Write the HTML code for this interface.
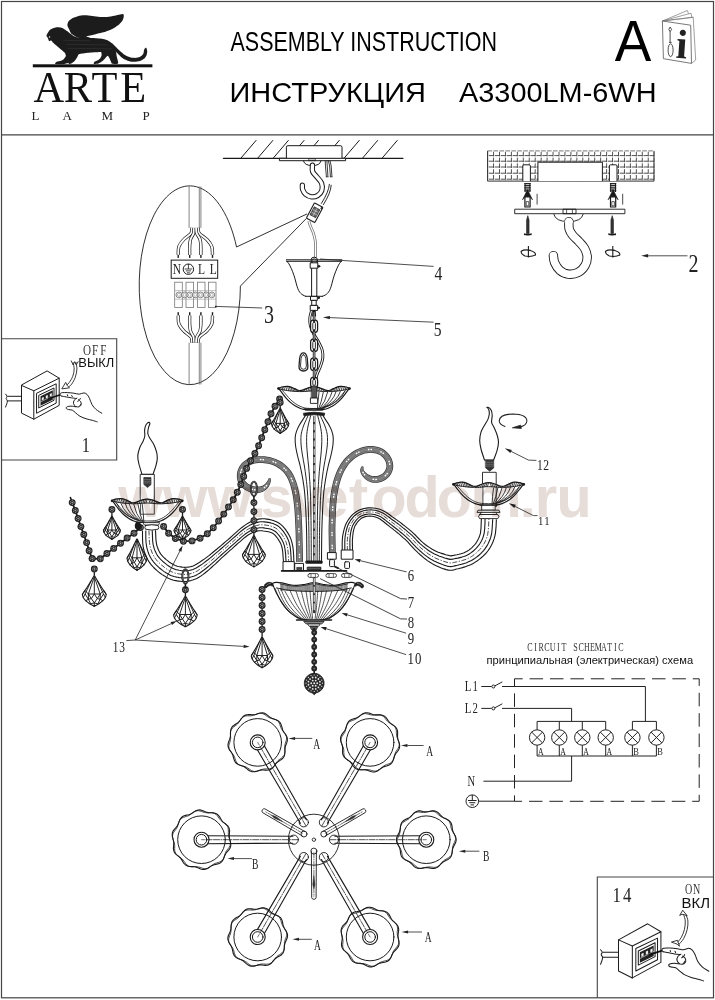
<!DOCTYPE html>
<html lang="ru">
<head>
<meta charset="utf-8">
<title>Assembly Instruction A3300LM-6WH</title>
<style>
html,body{margin:0;padding:0;background:#fff;}
body{width:715px;height:1000px;overflow:hidden;}
svg{display:block;will-change:transform;}
.s{font-family:"Liberation Sans",sans-serif;}
.r{font-family:"Liberation Serif",serif;}
.l{fill:none;stroke:#222;stroke-width:0.8;stroke-linecap:round;stroke-linejoin:round;}
.t{fill:none;stroke:#333;stroke-width:0.55;stroke-linecap:round;stroke-linejoin:round;}
.k{fill:none;stroke:#111;stroke-width:1.1;stroke-linecap:round;stroke-linejoin:round;}
</style>
</head>
<body>
<svg width="715" height="1000" viewBox="0 0 715 1000">
<rect x="0" y="0" width="715" height="1000" fill="#fff"/>
<!-- 01_header -->
<rect x="1.5" y="1.5" width="712" height="996.3" fill="none" stroke="#444" stroke-width="1.2"/>
<line x1="1.5" y1="134.8" x2="713.5" y2="134.8" stroke="#444" stroke-width="1.2"/>
<path d="M46.46 35.69 C46.50 35.19 47.26 33.61 47.69 32.92 C48.12 32.24 49.44 30.42 50.15 29.85 C50.87 29.27 53.02 28.31 53.85 28.00 C54.67 27.69 56.44 27.28 57.23 27.23 C58.02 27.18 59.83 27.34 60.62 27.54 C61.41 27.74 63.25 28.51 64.00 28.92 C64.75 29.34 66.36 30.54 67.08 31.08 C67.79 31.62 69.44 33.00 70.15 33.54 C70.87 34.08 72.44 35.26 73.23 35.69 C74.02 36.12 75.95 36.98 76.92 37.23 C77.89 37.48 80.46 37.77 81.54 37.85 C82.62 37.92 85.08 37.83 86.15 37.85 C87.23 37.86 89.51 37.95 90.77 38.00 C92.03 38.05 95.49 38.18 96.92 38.31 C98.36 38.43 101.71 38.77 103.08 39.08 C104.44 39.38 107.54 40.38 108.62 40.92 C109.69 41.46 111.59 42.94 112.31 43.69 C113.03 44.45 114.34 46.45 114.77 47.38 C115.20 48.32 115.75 50.54 116.00 51.69 C116.25 52.84 116.69 56.08 116.92 57.23 C117.16 58.38 117.89 60.78 118.00 61.54 C118.11 62.29 118.51 63.42 117.85 63.69 C117.18 63.96 113.13 64.13 112.31 63.85 C111.48 63.56 111.13 61.93 110.77 61.23 C110.41 60.53 109.59 58.49 109.23 57.85 C108.87 57.20 108.16 55.66 107.69 55.69 C107.23 55.73 105.88 57.51 105.23 58.15 C104.58 58.80 102.94 60.62 102.15 61.23 C101.36 61.84 99.43 63.08 98.46 63.38 C97.49 63.69 94.33 64.01 93.85 63.85 C93.36 63.68 93.91 62.38 94.31 62.00 C94.70 61.62 96.57 61.03 97.23 60.62 C97.89 60.20 99.50 59.07 100.00 58.46 C100.50 57.85 101.43 56.14 101.54 55.38 C101.65 54.63 101.64 52.36 100.92 52.00 C100.21 51.64 96.75 52.22 95.38 52.31 C94.02 52.40 90.67 52.64 89.23 52.77 C87.79 52.89 84.30 53.22 83.08 53.38 C81.86 53.55 79.49 53.63 78.77 54.15 C78.05 54.67 77.46 56.98 76.92 57.85 C76.38 58.71 74.80 60.89 74.15 61.54 C73.51 62.18 72.03 63.12 71.38 63.38 C70.74 63.65 68.87 63.99 68.62 63.85 C68.36 63.70 68.91 62.57 69.23 62.15 C69.55 61.74 71.24 60.42 71.38 60.31 C71.53 60.20 70.82 60.91 70.46 61.23 C70.10 61.55 69.17 62.74 68.31 63.08 C67.45 63.42 64.58 64.05 63.08 64.15 C61.57 64.26 56.21 64.23 55.38 64.00 C54.56 63.77 55.50 62.49 56.00 62.15 C56.50 61.81 58.83 61.40 59.69 61.08 C60.55 60.75 62.67 59.98 63.38 59.38 C64.10 58.79 65.70 56.79 65.85 56.00 C65.99 55.21 65.26 53.44 64.62 52.62 C63.97 51.79 61.31 49.78 60.31 48.92 C59.30 48.06 56.90 46.02 56.00 45.23 C55.10 44.44 53.19 42.69 52.62 42.15 C52.04 41.62 51.47 40.72 51.08 40.62 C50.68 40.51 49.59 41.48 49.23 41.23 C48.87 40.98 48.22 38.93 48.00 38.46 C47.78 37.99 47.56 37.55 47.38 37.23 C47.21 36.91 46.43 36.19 46.46 35.69Z" fill="#1c1c1c"/>
<path d="M71.38 33.85 C70.36 32.82 69.76 30.69 69.23 29.54 C68.70 28.39 67.47 26.34 67.38 25.23 C67.30 24.12 67.96 22.17 68.62 21.23 C69.27 20.29 71.08 18.83 72.31 18.15 C73.54 17.48 76.21 16.54 77.85 16.15 C79.49 15.76 82.69 15.25 84.62 15.23 C86.54 15.21 90.26 15.77 92.31 16.00 C94.36 16.23 98.03 16.80 100.00 16.92 C101.97 17.05 105.15 17.09 107.08 16.92 C109.01 16.76 112.74 16.02 114.46 15.69 C116.18 15.36 118.81 14.67 120.00 14.46 C121.19 14.26 122.89 13.83 123.38 14.15 C123.88 14.48 123.82 16.06 123.69 16.92 C123.57 17.78 123.08 19.59 122.46 20.62 C121.85 21.64 120.14 23.67 119.08 24.62 C118.01 25.56 115.86 26.91 114.46 27.69 C113.07 28.47 110.26 29.81 108.62 30.46 C106.97 31.12 103.88 32.12 102.15 32.62 C100.43 33.11 97.29 33.78 95.69 34.15 C94.09 34.52 91.43 35.10 90.15 35.38 C88.88 35.67 86.07 35.90 86.15 36.31 C86.24 36.72 91.18 38.17 90.77 38.46 C90.36 38.75 84.92 38.63 83.08 38.46 C81.23 38.30 78.48 37.85 76.92 37.23 C75.36 36.62 72.41 34.87 71.38 33.85Z" fill="#1c1c1c"/>
<path d="M111.69 43.08 C112.02 43.08 114.58 45.70 115.69 46.77 C116.80 47.84 118.77 49.97 120.00 51.08 C121.23 52.18 123.49 54.22 124.92 55.08 C126.36 55.94 129.21 57.17 130.77 57.54 C132.33 57.91 135.26 58.01 136.62 57.85 C137.97 57.68 140.02 56.88 140.92 56.31 C141.83 55.73 142.97 54.36 143.38 53.54 C143.79 52.72 143.75 50.89 144.00 50.15 C144.25 49.42 144.90 48.25 145.23 48.00 C145.56 47.75 146.19 47.86 146.46 48.31 C146.73 48.76 147.23 50.44 147.23 51.38 C147.23 52.33 146.89 54.40 146.46 55.38 C146.03 56.37 144.86 58.03 144.00 58.77 C143.14 59.51 141.31 60.51 140.00 60.92 C138.69 61.33 135.71 61.85 134.15 61.85 C132.59 61.85 129.78 61.37 128.31 60.92 C126.83 60.47 124.35 59.28 123.08 58.46 C121.81 57.64 119.79 55.75 118.77 54.77 C117.74 53.78 116.12 52.14 115.38 51.08 C114.65 50.01 113.72 47.84 113.23 46.77 C112.74 45.70 111.36 43.08 111.69 43.08Z" fill="#1c1c1c"/>
<circle cx="49.5" cy="36.9" r="0.75" fill="#e8e8e8"/>
<path d="M63.1 40.3 L90.8 40.9" stroke="#3a3a3a" stroke-width="0.5"/>
<path d="M66.2 44.3 L107.7 44.9" stroke="#3a3a3a" stroke-width="0.5"/>
<path d="M67.7 48.3 L112.3 48.9" stroke="#3a3a3a" stroke-width="0.5"/>
<rect x="32.8" y="64.3" width="119.6" height="3.0" fill="#111"/>
<text class="r" transform="translate(33.4 102.3) scale(0.97 1)" x="0 31.4 59.8 89.6" y="0" font-size="43.8" fill="#111">ARTE</text>
<text class="r" x="31.5 62.4 101.4 142.6" y="119.7" font-size="13" fill="#222">LAMP</text>
<text class="s" x="230.5" y="51.0" font-size="27.5" fill="#000" textLength="266.5" lengthAdjust="spacingAndGlyphs">ASSEMBLY INSTRUCTION</text>
<text class="s" x="229.5" y="101.5" font-size="28" fill="#000" textLength="196.5" lengthAdjust="spacingAndGlyphs">ИНСТРУКЦИЯ</text>
<text class="s" x="459" y="101.9" font-size="28.5" fill="#000" textLength="197.5" lengthAdjust="spacingAndGlyphs">A3300LM-6WH</text>
<text class="s" x="614.8" y="60.8" font-size="57" fill="#000" textLength="36.6" lengthAdjust="spacingAndGlyphs">A</text>
<g fill="none" stroke="#777" stroke-width="0.7" stroke-linejoin="round"><path d="M662.4 21.0 L687.3 10.5 L688.6 13.8 L691.1 13.4 L691.7 17.5 L693.2 17.2 L695.7 60.0 L691.5 63.4"/><path d="M662.4 21.0 L688.6 13.8"/><path d="M662.4 21.0 L691.7 17.5"/><path d="M662.4 21.0 L693.2 17.2"/><path d="M662.4 21.0 L690.7 25.2 L691.5 63.4 L663.4 58.7Z" fill="#fff" stroke="#555" stroke-width="0.8"/></g>
<g fill="none" stroke="#222" stroke-width="0.8"><path d="M670.1 27.0 L671.6 29.4 L670.1 31.7 L668.8 29.4Z" fill="#fff"/><path d="M670.1 31.7 L670.1 42.4"/><path d="M669.0 42.4 L671.6 42.4"/><ellipse cx="670.6" cy="50.2" rx="2.5" ry="6.4" fill="#fff"/></g>
<text class="r" x="676.2" y="58" font-size="41" font-weight="bold" fill="#222" transform="rotate(4 681 45)">i</text>
<!-- 02_circuit -->
<text class="r" transform="translate(527.00 651.00) scale(0.600 1)" x="0.28 12.02 19.28 28.78 37.91 50.02 57.66 69.58 77.02 85.78 94.91 105.16 112.79 123.41 133.66 145.02 152.28" y="0" font-size="13.4" fill="#333">CIRCUIT SCHEMATIC</text>
<text class="s" x="486.6" y="663.6" font-size="11.2" fill="#111" textLength="206.5" lengthAdjust="spacingAndGlyphs">принципиальная (электрическая) схема</text>
<path d="M514.5 678.8 H699.2 V801.3" stroke="#222" stroke-width="1.0" fill="none" stroke-dasharray="13.5 6.9" stroke-dashoffset="5.3"/>
<path d="M514.5 678.8 V801.3 H699.2" stroke="#222" stroke-width="1.0" fill="none" stroke-dasharray="13.5 6.9" stroke-dashoffset="5.8"/>
<text class="r" transform="translate(464.60 691.10) scale(0.720 1)" x="0.28 10.83" y="0" font-size="15.0" fill="#222">L1</text>
<path d="M481.3 686.5 H491.6 M494.8 685.9 L502.3 681.9 M502 686.5 H645.4 V721.4" stroke="#222" stroke-width="1.0" fill="none"/>
<circle cx="493.4" cy="686.5" r="1.5" stroke="#222" stroke-width="1.0" fill="none"/>
<text class="r" transform="translate(464.60 713.00) scale(0.720 1)" x="0.28 10.83" y="0" font-size="15.0" fill="#222">L2</text>
<path d="M481.3 708.4 H491.6 M494.8 707.8 L502.3 703.8 M502 708.4 H571.6 V721.4" stroke="#222" stroke-width="1.0" fill="none"/>
<circle cx="493.4" cy="708.4" r="1.5" stroke="#222" stroke-width="1.0" fill="none"/>
<path d="M537.1 721.4 H605.7 M632.4 721.4 H656.4 M537.1 756 H656.4 M571.6 756 V781.2 H483.4" stroke="#222" stroke-width="1.0" fill="none"/>
<path d="M537.1 721.4 V729.8 M537.1 745.2 V756" stroke="#222" stroke-width="1.0" fill="none"/>
<circle cx="537.1" cy="737.5" r="7.7" stroke="#222" stroke-width="1.0" fill="none"/>
<path d="M531.7 732.1 L542.5 742.9 M531.7 742.9 L542.5 732.1" stroke="#222" stroke-width="1.0" fill="none"/>
<text class="r" x="538.0" y="755.0" font-size="11" fill="#222" textLength="5.6" lengthAdjust="spacingAndGlyphs">A</text>
<path d="M559.3 721.4 V729.8 M559.3 745.2 V756" stroke="#222" stroke-width="1.0" fill="none"/>
<circle cx="559.3" cy="737.5" r="7.7" stroke="#222" stroke-width="1.0" fill="none"/>
<path d="M553.9 732.1 L564.7 742.9 M553.9 742.9 L564.7 732.1" stroke="#222" stroke-width="1.0" fill="none"/>
<text class="r" x="560.2" y="755.0" font-size="11" fill="#222" textLength="5.6" lengthAdjust="spacingAndGlyphs">A</text>
<path d="M582.3 721.4 V729.8 M582.3 745.2 V756" stroke="#222" stroke-width="1.0" fill="none"/>
<circle cx="582.3" cy="737.5" r="7.7" stroke="#222" stroke-width="1.0" fill="none"/>
<path d="M576.9 732.1 L587.7 742.9 M576.9 742.9 L587.7 732.1" stroke="#222" stroke-width="1.0" fill="none"/>
<text class="r" x="583.2" y="755.0" font-size="11" fill="#222" textLength="5.6" lengthAdjust="spacingAndGlyphs">A</text>
<path d="M605.7 721.4 V729.8 M605.7 745.2 V756" stroke="#222" stroke-width="1.0" fill="none"/>
<circle cx="605.7" cy="737.5" r="7.7" stroke="#222" stroke-width="1.0" fill="none"/>
<path d="M600.3 732.1 L611.1 742.9 M600.3 742.9 L611.1 732.1" stroke="#222" stroke-width="1.0" fill="none"/>
<text class="r" x="606.6" y="755.0" font-size="11" fill="#222" textLength="5.6" lengthAdjust="spacingAndGlyphs">A</text>
<path d="M632.4 721.4 V729.8 M632.4 745.2 V756" stroke="#222" stroke-width="1.0" fill="none"/>
<circle cx="632.4" cy="737.5" r="7.7" stroke="#222" stroke-width="1.0" fill="none"/>
<path d="M627.0 732.1 L637.8 742.9 M627.0 742.9 L637.8 732.1" stroke="#222" stroke-width="1.0" fill="none"/>
<text class="r" x="633.3" y="755.0" font-size="11" fill="#222" textLength="5.6" lengthAdjust="spacingAndGlyphs">B</text>
<path d="M656.4 721.4 V729.8 M656.4 745.2 V756" stroke="#222" stroke-width="1.0" fill="none"/>
<circle cx="656.4" cy="737.5" r="7.7" stroke="#222" stroke-width="1.0" fill="none"/>
<path d="M651.0 732.1 L661.8 742.9 M651.0 742.9 L661.8 732.1" stroke="#222" stroke-width="1.0" fill="none"/>
<text class="r" x="657.3" y="755.0" font-size="11" fill="#222" textLength="5.6" lengthAdjust="spacingAndGlyphs">B</text>
<text class="r" transform="translate(467.60 786.00) scale(0.750 1)" x="0.01" y="0" font-size="14.0" fill="#222">N</text>
<circle cx="472.3" cy="801.2" r="6.3" stroke="#222" stroke-width="1.0" fill="none"/>
<path d="M472.3 794.9 V800.5 M468 800.5 H476.6 M469.3 802.7 H475.3 M470.6 804.9 H474 M478.6 801.2 H514.5" stroke="#222" stroke-width="1.0" fill="none"/>
<!-- 03_insets -->
<path d="M1.5 338.7 H116.7 V460 H1.5" stroke="#444" stroke-width="1.1" fill="none"/>
<path d="M597.3 997.8 V877 H713.5" stroke="#444" stroke-width="1.1" fill="none"/>
<g fill="none" stroke="#1c1c1c" stroke-width="1.0" stroke-linejoin="round" stroke-linecap="round"><path d="M47.4 371.1 L59.2 378.2 L59.2 405.4 L33.8 419.2 L21.5 413.1 L21.5 385.4Z" fill="#fff"/><path d="M21.5 385.4 L33.8 390.8 L59.2 378.2"/><path d="M33.8 390.8 L33.8 419.2"/><path d="M36.9 393.1 L56.2 383.8 L56.2 403.1 L36.9 413.1Z"/><path d="M39.1 395.2 L54.0 388.0 L54.0 400.3 L39.1 407.8Z"/><path d="M40.5 396.3 L52.8 390.3 L52.8 399.7 L40.5 405.8Z" fill="#222" stroke="none"/><path d="M41.8 397.8 L43.8 396.9 L43.8 399.6 L41.8 400.6Z" fill="#eee" stroke="none"/><path d="M45.8 395.8 L47.8 394.9 L47.8 397.7 L45.8 398.6Z" fill="#eee" stroke="none"/><path d="M49.8 393.9 L51.8 392.9 L51.8 395.7 L49.8 396.6Z" fill="#eee" stroke="none"/><path d="M40.8 401.8 L52.8 395.8" stroke="#fff" stroke-width="0.5"/><path d="M48.9 398.5 L59.7 395.1" stroke="#111" stroke-width="1.6"/><path d="M7.7 396.3 L21.5 396.3"/><path d="M7.7 400.9 L21.5 400.9"/><path d="M5.54 394.15 C5.79 394.51 6.97 395.59 7.08 396.31 C7.18 397.03 6.10 397.69 6.15 398.46 C6.21 399.23 7.28 400.03 7.38 400.92 C7.49 401.82 7.08 402.82 6.77 403.85 C6.46 404.87 5.74 406.54 5.54 407.08"/><path d="M61.23 396.00 C61.03 395.74 59.95 395.00 60.00 394.46 C60.05 393.92 60.26 393.08 61.54 392.77 C62.82 392.46 65.64 392.54 67.69 392.62 C69.74 392.69 71.92 392.97 73.85 393.23 C75.77 393.49 77.56 394.21 79.23 394.15 C80.90 394.10 82.54 392.87 83.85 392.92 C85.15 392.97 86.13 393.54 87.08 394.46 C88.03 395.38 88.72 396.77 89.54 398.46 C90.36 400.15 90.90 402.77 92.00 404.62 C93.10 406.46 94.51 408.10 96.15 409.54 C97.79 410.97 100.90 412.62 101.85 413.23"/><path d="M61.23 396.00 C62.05 396.15 64.44 396.62 66.15 396.92 C67.87 397.23 69.87 397.59 71.54 397.85 C73.21 398.10 75.38 398.36 76.15 398.46"/><path d="M76.92 398.15 C76.46 398.51 74.72 399.38 74.15 400.31 C73.59 401.23 73.28 402.67 73.54 403.69 C73.79 404.72 74.82 405.95 75.69 406.46 C76.56 406.97 77.95 407.13 78.77 406.77 C79.59 406.41 80.31 404.72 80.62 404.31"/><path d="M78.46 399.69 C78.82 400.00 80.15 400.72 80.62 401.54 C81.08 402.36 81.44 403.74 81.23 404.62 C81.03 405.49 79.69 406.41 79.38 406.77"/><path d="M77.69 401.23 C77.95 401.08 78.79 400.77 79.23 400.31 C79.67 399.85 80.13 398.77 80.31 398.46"/><path d="M75.69 406.77 C74.92 406.67 72.51 406.15 71.08 406.15 C69.64 406.15 67.90 406.41 67.08 406.77 C66.26 407.13 65.95 407.85 66.15 408.31 C66.36 408.77 67.28 409.23 68.31 409.54 C69.33 409.85 71.08 409.59 72.31 410.15 C73.54 410.72 74.41 411.90 75.69 412.92 C76.97 413.95 78.26 415.33 80.00 416.31 C81.74 417.28 84.10 418.10 86.15 418.77 C88.21 419.44 90.46 419.79 92.31 420.31 C94.15 420.82 96.41 421.59 97.23 421.85"/><path d="M67.4 394.8 L67.7 395.8"/><path d="M71.7 395.5 L72.3 396.6"/></g>
<g transform="translate(618.5 939.9) scale(1.125) translate(-21.5 -385.4)"><g fill="none" stroke="#1c1c1c" stroke-width="0.9" stroke-linejoin="round" stroke-linecap="round"><path d="M47.4 371.1 L59.2 378.2 L59.2 405.4 L33.8 419.2 L21.5 413.1 L21.5 385.4Z" fill="#fff"/><path d="M21.5 385.4 L33.8 390.8 L59.2 378.2"/><path d="M33.8 390.8 L33.8 419.2"/><path d="M36.9 393.1 L56.2 383.8 L56.2 403.1 L36.9 413.1Z"/><path d="M39.1 395.2 L54.0 388.0 L54.0 400.3 L39.1 407.8Z"/><path d="M40.5 396.3 L52.8 390.3 L52.8 399.7 L40.5 405.8Z" fill="#222" stroke="none"/><path d="M41.8 397.8 L43.8 396.9 L43.8 399.6 L41.8 400.6Z" fill="#eee" stroke="none"/><path d="M45.8 395.8 L47.8 394.9 L47.8 397.7 L45.8 398.6Z" fill="#eee" stroke="none"/><path d="M49.8 393.9 L51.8 392.9 L51.8 395.7 L49.8 396.6Z" fill="#eee" stroke="none"/><path d="M40.8 401.8 L52.8 395.8" stroke="#fff" stroke-width="0.5"/><path d="M48.9 398.5 L59.7 395.1" stroke="#111" stroke-width="1.6"/><path d="M7.7 396.3 L21.5 396.3"/><path d="M7.7 400.9 L21.5 400.9"/><path d="M5.54 394.15 C5.79 394.51 6.97 395.59 7.08 396.31 C7.18 397.03 6.10 397.69 6.15 398.46 C6.21 399.23 7.28 400.03 7.38 400.92 C7.49 401.82 7.08 402.82 6.77 403.85 C6.46 404.87 5.74 406.54 5.54 407.08"/><path d="M61.23 396.00 C61.03 395.74 59.95 395.00 60.00 394.46 C60.05 393.92 60.26 393.08 61.54 392.77 C62.82 392.46 65.64 392.54 67.69 392.62 C69.74 392.69 71.92 392.97 73.85 393.23 C75.77 393.49 77.56 394.21 79.23 394.15 C80.90 394.10 82.54 392.87 83.85 392.92 C85.15 392.97 86.13 393.54 87.08 394.46 C88.03 395.38 88.72 396.77 89.54 398.46 C90.36 400.15 90.90 402.77 92.00 404.62 C93.10 406.46 94.51 408.10 96.15 409.54 C97.79 410.97 100.90 412.62 101.85 413.23"/><path d="M61.23 396.00 C62.05 396.15 64.44 396.62 66.15 396.92 C67.87 397.23 69.87 397.59 71.54 397.85 C73.21 398.10 75.38 398.36 76.15 398.46"/><path d="M76.92 398.15 C76.46 398.51 74.72 399.38 74.15 400.31 C73.59 401.23 73.28 402.67 73.54 403.69 C73.79 404.72 74.82 405.95 75.69 406.46 C76.56 406.97 77.95 407.13 78.77 406.77 C79.59 406.41 80.31 404.72 80.62 404.31"/><path d="M78.46 399.69 C78.82 400.00 80.15 400.72 80.62 401.54 C81.08 402.36 81.44 403.74 81.23 404.62 C81.03 405.49 79.69 406.41 79.38 406.77"/><path d="M77.69 401.23 C77.95 401.08 78.79 400.77 79.23 400.31 C79.67 399.85 80.13 398.77 80.31 398.46"/><path d="M75.69 406.77 C74.92 406.67 72.51 406.15 71.08 406.15 C69.64 406.15 67.90 406.41 67.08 406.77 C66.26 407.13 65.95 407.85 66.15 408.31 C66.36 408.77 67.28 409.23 68.31 409.54 C69.33 409.85 71.08 409.59 72.31 410.15 C73.54 410.72 74.41 411.90 75.69 412.92 C76.97 413.95 78.26 415.33 80.00 416.31 C81.74 417.28 84.10 418.10 86.15 418.77 C88.21 419.44 90.46 419.79 92.31 420.31 C94.15 420.82 96.41 421.59 97.23 421.85"/><path d="M67.4 394.8 L67.7 395.8"/><path d="M71.7 395.5 L72.3 396.6"/></g></g>
<g fill="none" stroke="#222" stroke-width="0.9" stroke-linecap="round" stroke-linejoin="round"><path d="M73.09 362.73 C73.27 363.79 74.24 366.82 74.18 369.09 C74.12 371.36 73.58 374.09 72.73 376.36 C71.88 378.64 70.24 381.12 69.09 382.73 C67.94 384.33 66.36 385.45 65.82 386.00"/><path d="M76.00 362.36 C76.15 363.48 77.03 366.61 76.91 369.09 C76.79 371.58 76.15 374.76 75.27 377.27 C74.39 379.79 72.79 382.55 71.64 384.18 C70.48 385.82 68.91 386.61 68.36 387.09"/><path d="M71.3 360.9 L73.1 364.9 L74.7 361.6 L76.2 364.9 L78.2 361.6"/><path d="M65.5 382.7 L61.8 388.9 L69.5 387.8 L67.6 386.0Z" fill="#fff"/></g>
<text class="r" transform="translate(83.00 354.60) scale(0.720 1)" x="0.03 12.56 23.81" y="0" font-size="15.5" fill="#333">OFF</text>
<text class="s" x="78.3" y="366.5" font-size="12.4" fill="#111" textLength="36" lengthAdjust="spacingAndGlyphs">ВЫКЛ</text>
<text class="r" transform="translate(81.50 451.90) scale(0.800 1)" x="0.25" y="0" font-size="20.5" fill="#222">1</text>
<g fill="none" stroke="#222" stroke-width="0.9" stroke-linecap="round" stroke-linejoin="round"><path d="M676.36 943.43 C677.18 942.44 679.92 939.81 681.26 937.48 C682.60 935.15 683.74 932.18 684.41 929.44 C685.08 926.70 685.40 923.50 685.28 921.05 C685.16 918.60 683.97 915.80 683.71 914.76"/><path d="M678.46 944.83 C679.34 943.78 682.25 941.10 683.71 938.53 C685.16 935.97 686.50 932.35 687.20 929.44 C687.90 926.53 688.08 923.44 687.90 921.05 C687.73 918.66 686.45 916.10 686.15 915.10"/><path d="M679.9 915.1 L682.7 910.2 L687.2 915.8 L684.8 914.8 L682.3 914.4Z" fill="#fff"/><path d="M671.8 942.0 L677.4 940.3 L679.5 946.2 L677.1 944.1 L675.0 943.4Z" fill="#fff"/></g>
<text class="r" transform="translate(684.60 893.80) scale(0.720 1)" x="0.50 11.61" y="0" font-size="14.0" fill="#333">ON</text>
<text class="s" x="681.6" y="908.2" font-size="14.2" fill="#111" textLength="28.5" lengthAdjust="spacingAndGlyphs">ВКЛ</text>
<text class="r" transform="translate(611.50 902.40) scale(0.800 1)" x="1.25 14.25" y="0" font-size="21.0" fill="#222">14</text>
<!-- 05_callout -->
<path d="M307.1 213.9 L236.5 247.0 A50.6 99.4 0 1 0 240.4 286.1 L306.5 218.3" fill="none" stroke="#1a1a1a" stroke-width="0.9" stroke-linejoin="miter"/>
<g fill="none" stroke="#666" stroke-width="0.8"><path d="M189.1 186.2 V227.9 M200.9 186.6 V227.9 M199.3 186.5 V227.9"/><path d="M189.1 342.7 V384.6 M200.9 342.7 V384.4 M199.3 342.7 V384.5"/></g>
<path d="M191.92 227.88 C191.78 228.77 192.43 231.26 191.08 233.20 C189.73 235.14 185.83 237.28 183.80 239.50 C181.77 241.72 179.83 243.93 178.90 246.50 C177.97 249.07 178.32 253.50 178.20 254.90" fill="none" stroke="#1a1a1a" stroke-width="3.30" stroke-linecap="butt" stroke-linejoin="round"/><path d="M191.92 227.88 C191.78 228.77 192.43 231.26 191.08 233.20 C189.73 235.14 185.83 237.28 183.80 239.50 C181.77 241.72 179.83 243.93 178.90 246.50 C177.97 249.07 178.32 253.50 178.20 254.90" fill="none" stroke="#fff" stroke-width="1.90" stroke-linecap="butt" stroke-linejoin="round"/>
<path d="M191.92 342.52 C191.78 341.63 192.43 339.14 191.08 337.20 C189.73 335.26 185.83 333.12 183.80 330.90 C181.77 328.68 179.83 326.47 178.90 323.90 C177.97 321.33 178.32 316.90 178.20 315.50" fill="none" stroke="#1a1a1a" stroke-width="3.30" stroke-linecap="butt" stroke-linejoin="round"/><path d="M191.92 342.52 C191.78 341.63 192.43 339.14 191.08 337.20 C189.73 335.26 185.83 333.12 183.80 330.90 C181.77 328.68 179.83 326.47 178.90 323.90 C177.97 321.33 178.32 316.90 178.20 315.50" fill="none" stroke="#fff" stroke-width="1.90" stroke-linecap="butt" stroke-linejoin="round"/>
<path d="M198.08 227.88 C198.27 228.77 197.73 231.26 199.20 233.20 C200.67 235.14 204.80 237.28 206.90 239.50 C209.00 241.72 210.87 243.93 211.80 246.50 C212.73 249.07 212.38 253.50 212.50 254.90" fill="none" stroke="#1a1a1a" stroke-width="3.30" stroke-linecap="butt" stroke-linejoin="round"/><path d="M198.08 227.88 C198.27 228.77 197.73 231.26 199.20 233.20 C200.67 235.14 204.80 237.28 206.90 239.50 C209.00 241.72 210.87 243.93 211.80 246.50 C212.73 249.07 212.38 253.50 212.50 254.90" fill="none" stroke="#fff" stroke-width="1.90" stroke-linecap="butt" stroke-linejoin="round"/>
<path d="M198.08 342.52 C198.27 341.63 197.73 339.14 199.20 337.20 C200.67 335.26 204.80 333.12 206.90 330.90 C209.00 328.68 210.87 326.47 211.80 323.90 C212.73 321.33 212.38 316.90 212.50 315.50" fill="none" stroke="#1a1a1a" stroke-width="3.30" stroke-linecap="butt" stroke-linejoin="round"/><path d="M198.08 342.52 C198.27 341.63 197.73 339.14 199.20 337.20 C200.67 335.26 204.80 333.12 206.90 330.90 C209.00 328.68 210.87 326.47 211.80 323.90 C212.73 321.33 212.38 316.90 212.50 315.50" fill="none" stroke="#fff" stroke-width="1.90" stroke-linecap="butt" stroke-linejoin="round"/>
<path d="M194.02 227.88 C193.95 228.77 194.18 231.26 193.60 233.20 C193.02 235.14 191.17 237.28 190.52 239.50 C189.87 241.72 189.82 243.93 189.68 246.50 C189.54 249.07 189.68 253.50 189.68 254.90" fill="none" stroke="#1a1a1a" stroke-width="3.30" stroke-linecap="butt" stroke-linejoin="round"/><path d="M194.02 227.88 C193.95 228.77 194.18 231.26 193.60 233.20 C193.02 235.14 191.17 237.28 190.52 239.50 C189.87 241.72 189.82 243.93 189.68 246.50 C189.54 249.07 189.68 253.50 189.68 254.90" fill="none" stroke="#fff" stroke-width="1.90" stroke-linecap="butt" stroke-linejoin="round"/>
<path d="M194.02 342.52 C193.95 341.63 194.18 339.14 193.60 337.20 C193.02 335.26 191.17 333.12 190.52 330.90 C189.87 328.68 189.82 326.47 189.68 323.90 C189.54 321.33 189.68 316.90 189.68 315.50" fill="none" stroke="#1a1a1a" stroke-width="3.30" stroke-linecap="butt" stroke-linejoin="round"/><path d="M194.02 342.52 C193.95 341.63 194.18 339.14 193.60 337.20 C193.02 335.26 191.17 333.12 190.52 330.90 C189.87 328.68 189.82 326.47 189.68 323.90 C189.54 321.33 189.68 316.90 189.68 315.50" fill="none" stroke="#fff" stroke-width="1.90" stroke-linecap="butt" stroke-linejoin="round"/>
<path d="M196.12 227.88 C196.21 228.77 196.03 231.26 196.68 233.20 C197.33 235.14 199.34 237.28 200.04 239.50 C200.74 241.72 200.74 243.93 200.88 246.50 C201.02 249.07 200.88 253.50 200.88 254.90" fill="none" stroke="#1a1a1a" stroke-width="3.30" stroke-linecap="butt" stroke-linejoin="round"/><path d="M196.12 227.88 C196.21 228.77 196.03 231.26 196.68 233.20 C197.33 235.14 199.34 237.28 200.04 239.50 C200.74 241.72 200.74 243.93 200.88 246.50 C201.02 249.07 200.88 253.50 200.88 254.90" fill="none" stroke="#fff" stroke-width="1.90" stroke-linecap="butt" stroke-linejoin="round"/>
<path d="M196.12 342.52 C196.21 341.63 196.03 339.14 196.68 337.20 C197.33 335.26 199.34 333.12 200.04 330.90 C200.74 328.68 200.74 326.47 200.88 323.90 C201.02 321.33 200.88 316.90 200.88 315.50" fill="none" stroke="#1a1a1a" stroke-width="3.30" stroke-linecap="butt" stroke-linejoin="round"/><path d="M196.12 342.52 C196.21 341.63 196.03 339.14 196.68 337.20 C197.33 335.26 199.34 333.12 200.04 330.90 C200.74 328.68 200.74 326.47 200.88 323.90 C201.02 321.33 200.88 316.90 200.88 315.50" fill="none" stroke="#fff" stroke-width="1.90" stroke-linecap="butt" stroke-linejoin="round"/>
<rect x="177.5" y="254.9" width="1.4" height="3" fill="#1a1a1a"/>
<rect x="177.5" y="312.2" width="1.4" height="3" fill="#1a1a1a"/>
<rect x="189.0" y="254.9" width="1.4" height="3" fill="#1a1a1a"/>
<rect x="189.0" y="312.2" width="1.4" height="3" fill="#1a1a1a"/>
<rect x="200.2" y="254.9" width="1.4" height="3" fill="#1a1a1a"/>
<rect x="200.2" y="312.2" width="1.4" height="3" fill="#1a1a1a"/>
<rect x="211.8" y="254.9" width="1.4" height="3" fill="#1a1a1a"/>
<rect x="211.8" y="312.2" width="1.4" height="3" fill="#1a1a1a"/>
<rect x="171.2" y="260.1" width="46.5" height="18.2" fill="#fff" stroke="#1a1a1a" stroke-width="1.0"/>
<text class="r" transform="translate(172.40 273.90) scale(0.780 1)" x="0.30" y="0" font-size="14.8" fill="#222">N</text>
<text class="r" transform="translate(197.20 273.90) scale(0.780 1)" x="1.12" y="0" font-size="14.8" fill="#222">L</text>
<text class="r" transform="translate(209.00 273.90) scale(0.780 1)" x="1.12" y="0" font-size="14.8" fill="#222">L</text>
<g fill="none" stroke="#1a1a1a" stroke-width="0.8"><circle cx="188.4" cy="269.2" r="5.2" stroke-width="1.0"/><path d="M188.4 264 V269 M184.6 269 H192.2 M185.8 270.9 H191 M187 272.8 H189.8"/></g>
<g fill="#fff" stroke="#777" stroke-width="0.8"><rect x="174.7" y="282.2" width="7.6" height="25.2"/><rect x="186.0" y="282.2" width="7.6" height="25.2"/><rect x="197.4" y="282.2" width="7.6" height="25.2"/><rect x="208.4" y="282.2" width="7.6" height="25.2"/><path d="M174.7 290.6 H216 M174.7 299.2 H216" fill="none" stroke="#999" stroke-width="0.6"/><circle cx="178.9" cy="294.9" r="2.9" stroke="#666"/><circle cx="178.9" cy="294.9" r="1.5" stroke="#888" stroke-width="0.6"/><circle cx="184.5" cy="294.9" r="2.9" stroke="#666"/><circle cx="184.5" cy="294.9" r="1.5" stroke="#888" stroke-width="0.6"/><circle cx="189.8" cy="294.9" r="2.9" stroke="#666"/><circle cx="189.8" cy="294.9" r="1.5" stroke="#888" stroke-width="0.6"/><circle cx="195.3" cy="294.9" r="2.9" stroke="#666"/><circle cx="195.3" cy="294.9" r="1.5" stroke="#888" stroke-width="0.6"/><circle cx="200.6" cy="294.9" r="2.9" stroke="#666"/><circle cx="200.6" cy="294.9" r="1.5" stroke="#888" stroke-width="0.6"/><circle cx="206.2" cy="294.9" r="2.9" stroke="#666"/><circle cx="206.2" cy="294.9" r="1.5" stroke="#888" stroke-width="0.6"/><circle cx="211.8" cy="294.9" r="2.9" stroke="#666"/><circle cx="211.8" cy="294.9" r="1.5" stroke="#888" stroke-width="0.6"/></g>
<circle cx="215.8" cy="306.6" r="0.9" fill="#1a1a1a"/>
<!-- 06_detail2 -->
<g fill="none" stroke="#333" stroke-width="0.85"><clipPath id="blk"><rect x="487.1" y="150.4" width="167.4" height="31.2"/></clipPath><g clip-path="url(#blk)"><path d="M487.60 150.9 V181.1" stroke-dasharray="4.6 1.2" stroke-dashoffset="-0.9"/><path d="M493.55 150.9 V181.1" stroke-dasharray="4.6 1.2" stroke-dashoffset="-0.9"/><path d="M499.50 150.9 V181.1" stroke-dasharray="4.6 1.2" stroke-dashoffset="-0.9"/><path d="M505.45 150.9 V181.1" stroke-dasharray="4.6 1.2" stroke-dashoffset="-0.9"/><path d="M511.40 150.9 V181.1" stroke-dasharray="4.6 1.2" stroke-dashoffset="-0.9"/><path d="M517.35 150.9 V181.1" stroke-dasharray="4.6 1.2" stroke-dashoffset="-0.9"/><path d="M523.30 150.9 V181.1" stroke-dasharray="4.6 1.2" stroke-dashoffset="-0.9"/><path d="M529.25 150.9 V181.1" stroke-dasharray="4.6 1.2" stroke-dashoffset="-0.9"/><path d="M535.20 150.9 V181.1" stroke-dasharray="4.6 1.2" stroke-dashoffset="-0.9"/><path d="M541.15 150.9 V181.1" stroke-dasharray="4.6 1.2" stroke-dashoffset="-0.9"/><path d="M547.10 150.9 V181.1" stroke-dasharray="4.6 1.2" stroke-dashoffset="-0.9"/><path d="M553.05 150.9 V181.1" stroke-dasharray="4.6 1.2" stroke-dashoffset="-0.9"/><path d="M559.00 150.9 V181.1" stroke-dasharray="4.6 1.2" stroke-dashoffset="-0.9"/><path d="M564.95 150.9 V181.1" stroke-dasharray="4.6 1.2" stroke-dashoffset="-0.9"/><path d="M570.90 150.9 V181.1" stroke-dasharray="4.6 1.2" stroke-dashoffset="-0.9"/><path d="M576.85 150.9 V181.1" stroke-dasharray="4.6 1.2" stroke-dashoffset="-0.9"/><path d="M582.80 150.9 V181.1" stroke-dasharray="4.6 1.2" stroke-dashoffset="-0.9"/><path d="M588.75 150.9 V181.1" stroke-dasharray="4.6 1.2" stroke-dashoffset="-0.9"/><path d="M594.70 150.9 V181.1" stroke-dasharray="4.6 1.2" stroke-dashoffset="-0.9"/><path d="M600.65 150.9 V181.1" stroke-dasharray="4.6 1.2" stroke-dashoffset="-0.9"/><path d="M606.60 150.9 V181.1" stroke-dasharray="4.6 1.2" stroke-dashoffset="-0.9"/><path d="M612.55 150.9 V181.1" stroke-dasharray="4.6 1.2" stroke-dashoffset="-0.9"/><path d="M618.50 150.9 V181.1" stroke-dasharray="4.6 1.2" stroke-dashoffset="-0.9"/><path d="M624.45 150.9 V181.1" stroke-dasharray="4.6 1.2" stroke-dashoffset="-0.9"/><path d="M630.40 150.9 V181.1" stroke-dasharray="4.6 1.2" stroke-dashoffset="-0.9"/><path d="M636.35 150.9 V181.1" stroke-dasharray="4.6 1.2" stroke-dashoffset="-0.9"/><path d="M642.30 150.9 V181.1" stroke-dasharray="4.6 1.2" stroke-dashoffset="-0.9"/><path d="M648.25 150.9 V181.1" stroke-dasharray="4.6 1.2" stroke-dashoffset="-0.9"/><path d="M654.20 150.9 V181.1" stroke-dasharray="4.6 1.2" stroke-dashoffset="-0.9"/><path d="M487.6 155.60 H654.0" stroke-dasharray="4.7 1.25" stroke-dashoffset="-1.2"/><path d="M487.6 161.20 H654.0" stroke-dasharray="4.7 1.25" stroke-dashoffset="-1.2"/><path d="M487.6 167.00 H654.0" stroke-dasharray="4.7 1.25" stroke-dashoffset="-1.2"/><path d="M487.6 173.20 H654.0" stroke-dasharray="4.7 1.25" stroke-dashoffset="-1.2"/><path d="M487.6 179.20 H654.0" stroke-dasharray="4.7 1.25" stroke-dashoffset="-1.2"/></g><path d="M487.6 150.9 H654.0" stroke="#555" stroke-dasharray="4.6 1.35" stroke-width="0.8"/><path d="M487.6 150.9 V181.1 H654.0 V150.9" stroke-width="1.0"/></g>
<g fill="none" stroke="#1a1a1a" stroke-width="0.95" stroke-linecap="butt" stroke-linejoin="round"><path d="M537.9 181.1 V162.2 H602.4 V181.1" fill="#fff" stroke-width="1.0"/><path d="M522.8 181.1 V166 Q522.8 164.8 524 164.8 H529.2 Q530.4 164.8 530.4 166 V181.1" fill="#fff" stroke-width="1.0"/><path d="M609.4 181.1 V166 Q609.4 164.8 610.6 164.8 H615.8 Q617 164.8 617 166 V181.1" fill="#fff" stroke-width="1.0"/><rect x="514.7" y="209.2" width="110.2" height="4.5" fill="#fff" stroke-width="0.9"/><rect x="563" y="209.2" width="13" height="4.5" stroke-width="0.9"/><path d="M566.6 209.2 V213.7 M572.4 209.2 V213.7" stroke-width="0.7"/><path d="M553.8 214 Q555.4 221.6 568.5 221.6 Q581.6 221.6 583.2 214" stroke-width="0.9"/><path d="M525.1 183 V192 M529.9 183 V192" stroke-width="1.0"/><path d="M524.3 183.6 H530.7" stroke-width="1.1"/><path d="M524.3 185.4 H530.7" stroke-width="1.1"/><path d="M524.3 187.2 H530.7" stroke-width="1.1"/><path d="M524.3 189.0 H530.7" stroke-width="1.1"/><path d="M524.3 190.8 H530.7" stroke-width="1.1"/><path d="M527.5 189.6 L522.5 199.8 L524.9 197 L530.1 197 L532.5 199.8 Z" fill="#1a1a1a" stroke-width="0.6"/><rect x="524.9" y="196.8" width="5.2" height="10.2" fill="#fff" stroke-width="1.2"/><rect x="526.2" y="201.6" width="2.6" height="4.2" stroke-width="0.7"/><path d="M537.1 193.8 V204.6" stroke-width="0.8"/><path d="M527.8 215.6 L529.1 220 V233.4 H526.5 V220 Z" fill="#333" stroke-width="0.5"/><path d="M524.0 234.4 H531.6" stroke-width="1.5"/><path d="M524.0 233.6 Q527.8 236.8 531.6 233.6" stroke-width="0.7"/><path d="M528.4 246 V257.4" stroke-width="1.1"/><path d="M535.8 254.6 Q531.4 257.4 525.0 256 Q520.4 253.6 521.2 251.2 Q524.4 249 530.4 250.4 Q537.0 252.6 535.0 255.6" stroke-width="1.1"/><path d="M610.7 183 V192 M615.5 183 V192" stroke-width="1.0"/><path d="M609.9 183.6 H616.3" stroke-width="1.1"/><path d="M609.9 185.4 H616.3" stroke-width="1.1"/><path d="M609.9 187.2 H616.3" stroke-width="1.1"/><path d="M609.9 189.0 H616.3" stroke-width="1.1"/><path d="M609.9 190.8 H616.3" stroke-width="1.1"/><path d="M613.1 189.6 L608.1 199.8 L610.5 197 L615.7 197 L618.1 199.8 Z" fill="#1a1a1a" stroke-width="0.6"/><rect x="610.5" y="196.8" width="5.2" height="10.2" fill="#fff" stroke-width="1.2"/><rect x="611.8" y="201.6" width="2.6" height="4.2" stroke-width="0.7"/><path d="M622.7 193.8 V204.6" stroke-width="0.8"/><path d="M612.2 215.6 L613.5 220 V233.4 H610.9 V220 Z" fill="#333" stroke-width="0.5"/><path d="M608.4 234.4 H616.0" stroke-width="1.5"/><path d="M608.4 233.6 Q612.2 236.8 616.0 233.6" stroke-width="0.7"/><path d="M612.8 246 V257.4" stroke-width="1.1"/><path d="M620.2 254.6 Q615.8 257.4 609.4 256 Q604.8 253.6 605.6 251.2 Q608.8 249 614.8 250.4 Q621.4 252.6 619.4 255.6" stroke-width="1.1"/></g>
<path d="M568.90 221.60 C568.95 222.83 568.58 226.73 569.20 229.00 C569.82 231.27 570.97 233.10 572.60 235.20 C574.23 237.30 577.00 239.40 579.00 241.60 C581.00 243.80 583.23 245.83 584.60 248.40 C585.97 250.97 587.13 254.13 587.20 257.00 C587.27 259.87 586.50 263.03 585.00 265.60 C583.50 268.17 580.93 270.97 578.20 272.40 C575.47 273.83 571.65 274.53 568.60 274.20 C565.55 273.87 562.23 272.33 559.90 270.40 C557.57 268.47 555.68 265.07 554.60 262.60 C553.52 260.13 553.60 256.77 553.40 255.60" fill="none" stroke="#1a1a1a" stroke-width="9.40" stroke-linecap="round" stroke-linejoin="round"/><path d="M568.90 221.60 C568.95 222.83 568.58 226.73 569.20 229.00 C569.82 231.27 570.97 233.10 572.60 235.20 C574.23 237.30 577.00 239.40 579.00 241.60 C581.00 243.80 583.23 245.83 584.60 248.40 C585.97 250.97 587.13 254.13 587.20 257.00 C587.27 259.87 586.50 263.03 585.00 265.60 C583.50 268.17 580.93 270.97 578.20 272.40 C575.47 273.83 571.65 274.53 568.60 274.20 C565.55 273.87 562.23 272.33 559.90 270.40 C557.57 268.47 555.68 265.07 554.60 262.60 C553.52 260.13 553.60 256.77 553.40 255.60" fill="none" stroke="#fff" stroke-width="7.60" stroke-linecap="round" stroke-linejoin="round"/>
<rect x="564.6" y="220.6" width="8.4" height="2" fill="#fff"/>
<!-- 07_topview -->
<g fill="none" stroke="#1a1a1a" stroke-width="0.85" stroke-linecap="round" stroke-linejoin="round"><path d="M302.3 835.9 L262.6 812.6 A2.3 2.3 0 0 1 264.8 808.8 L304.8 831.5" stroke-width="0.9"/><path d="M302.6 833.2 L264.5 811.2" stroke-width="0.6" stroke-dasharray="5 1.4 1 1.4"/><path d="M282.7 821.7 L274.4 818.2 L271.5 815.2 L275.5 816.2 Z" fill="#333" stroke-width="0.4"/><path d="M323.0 831.5 L363.0 808.8 A2.3 2.3 0 0 1 365.2 812.6 L325.5 835.9" stroke-width="0.9"/><path d="M325.2 833.2 L363.3 811.2" stroke-width="0.6" stroke-dasharray="5 1.4 1 1.4"/><path d="M345.1 821.7 L352.3 816.2 L356.3 815.2 L353.4 818.2 Z" fill="#333" stroke-width="0.4"/><path d="M316.4 851.7 L316.1 897.7 A2.3 2.3 0 0 1 311.7 897.7 L311.4 851.7" stroke-width="0.9"/><path d="M313.9 852.7 L313.9 896.7" stroke-width="0.6" stroke-dasharray="5 1.4 1 1.4"/><path d="M313.9 875.7 L315.0 884.7 L313.9 888.7 L312.8 884.7 Z" fill="#333" stroke-width="0.4"/><path d="M334.9 836.2 L422.3 835.7" stroke-width="1.10"/><path d="M334.9 843.2 L422.3 843.7" stroke-width="1.10"/><path d="M329.9 839.7 L432.3 839.7" stroke-width="0.75" stroke-dasharray="6 1.4 1 1.4"/><path d="M327.4 856.1 L371.6 931.6" stroke-width="1.10"/><path d="M321.4 859.6 L364.6 935.6" stroke-width="1.10"/><path d="M321.9 853.6 L373.1 942.2" stroke-width="0.75" stroke-dasharray="6 1.4 1 1.4"/><path d="M306.4 859.6 L263.2 935.6" stroke-width="1.10"/><path d="M300.4 856.1 L256.2 931.6" stroke-width="1.10"/><path d="M305.9 853.6 L254.7 942.2" stroke-width="0.75" stroke-dasharray="6 1.4 1 1.4"/><path d="M292.9 843.2 L205.5 843.7" stroke-width="1.10"/><path d="M292.9 836.2 L205.5 835.7" stroke-width="1.10"/><path d="M297.9 839.7 L195.5 839.7" stroke-width="0.75" stroke-dasharray="6 1.4 1 1.4"/><path d="M300.4 823.3 L256.2 747.8" stroke-width="1.10"/><path d="M306.4 819.8 L263.2 743.8" stroke-width="1.10"/><path d="M305.9 825.8 L254.7 737.2" stroke-width="0.75" stroke-dasharray="6 1.4 1 1.4"/><path d="M321.4 819.8 L364.6 743.8" stroke-width="1.10"/><path d="M327.4 823.3 L371.6 747.8" stroke-width="1.10"/><path d="M321.9 825.8 L373.1 737.2" stroke-width="0.75" stroke-dasharray="6 1.4 1 1.4"/></g>
<g fill="none" stroke="#1a1a1a" stroke-width="0.85" stroke-linecap="round" stroke-linejoin="round"><circle cx="313.9" cy="839.7" r="25.5" stroke-width="0.9"/><circle cx="313.9" cy="839.7" r="1.7"/><circle cx="334.0" cy="839.7" r="4.6" stroke-width="0.9"/><circle cx="323.9" cy="857.1" r="4.6" stroke-width="0.9"/><circle cx="303.8" cy="857.1" r="4.6" stroke-width="0.9"/><circle cx="293.8" cy="839.7" r="4.6" stroke-width="0.9"/><circle cx="303.8" cy="822.3" r="4.6" stroke-width="0.9"/><circle cx="323.9" cy="822.3" r="4.6" stroke-width="0.9"/><circle cx="304.0" cy="834.0" r="3.0" stroke-width="0.9"/><circle cx="323.8" cy="834.0" r="3.0" stroke-width="0.9"/><circle cx="313.9" cy="851.1" r="3.0" stroke-width="0.9"/><path d="M456.2 839.7 L456.0 841.3 L455.5 842.8 L454.8 844.2 L454.1 845.6 L453.4 847.0 L452.8 848.3 L452.5 849.7 L452.2 851.3 L452.1 852.8 L451.8 854.4 L451.3 855.9 L450.5 857.3 L449.4 858.4 L448.1 859.4 L446.7 860.1 L445.3 860.8 L443.9 861.5 L442.7 862.3 L441.6 863.2 L440.5 864.3 L439.4 865.5 L438.3 866.6 L437.0 867.5 L435.5 868.1 L434.0 868.5 L432.4 868.5 L430.8 868.2 L429.3 867.9 L427.8 867.7 L426.3 867.6 L424.8 867.7 L423.3 867.9 L421.8 868.2 L420.2 868.5 L418.6 868.5 L417.1 868.1 L415.6 867.5 L414.3 866.6 L413.2 865.5 L412.1 864.3 L411.0 863.2 L409.9 862.3 L408.7 861.5 L407.3 860.8 L405.9 860.1 L404.5 859.4 L403.2 858.4 L402.1 857.3 L401.3 855.9 L400.8 854.4 L400.5 852.8 L400.4 851.3 L400.1 849.7 L399.8 848.3 L399.2 847.0 L398.5 845.6 L397.8 844.2 L397.1 842.8 L396.6 841.3 L396.4 839.7 L396.6 838.1 L397.1 836.6 L397.8 835.2 L398.5 833.8 L399.2 832.4 L399.8 831.1 L400.1 829.7 L400.4 828.1 L400.5 826.6 L400.8 825.0 L401.3 823.5 L402.1 822.1 L403.2 821.0 L404.5 820.0 L405.9 819.3 L407.3 818.6 L408.7 817.9 L409.9 817.1 L411.0 816.2 L412.1 815.1 L413.2 813.9 L414.3 812.8 L415.6 811.9 L417.1 811.3 L418.6 810.9 L420.2 810.9 L421.8 811.2 L423.3 811.5 L424.8 811.7 L426.3 811.8 L427.8 811.7 L429.3 811.5 L430.8 811.2 L432.4 810.9 L434.0 810.9 L435.5 811.3 L437.0 811.9 L438.3 812.8 L439.4 813.9 L440.5 815.1 L441.6 816.2 L442.7 817.1 L443.9 817.9 L445.3 818.6 L446.7 819.3 L448.1 820.0 L449.4 821.0 L450.5 822.1 L451.3 823.5 L451.8 825.0 L452.1 826.6 L452.2 828.1 L452.5 829.7 L452.8 831.1 L453.4 832.4 L454.1 833.8 L454.8 835.2 L455.5 836.6 L456.0 838.1Z" stroke-width="1.1"/><path d="M455.4 839.7 L454.9 841.2 L454.3 842.6 L453.6 844.0 L453.1 845.4 L452.7 846.8 L452.5 848.2 L452.4 849.7 L452.3 851.3 L452.1 852.8 L451.6 854.3 L450.9 855.6 L449.8 856.8 L448.6 857.7 L447.2 858.5 L445.9 859.3 L444.6 860.0 L443.5 860.9 L442.5 862.0 L441.5 863.1 L440.5 864.4 L439.4 865.5 L438.2 866.4 L436.8 867.0 L435.3 867.3 L433.7 867.4 L432.1 867.2 L430.6 867.0 L429.2 866.9 L427.7 867.0 L426.3 867.2 L424.8 867.6 L423.3 868.0 L421.8 868.3 L420.2 868.3 L418.7 868.0 L417.3 867.3 L416.0 866.4 L414.9 865.4 L413.7 864.3 L412.6 863.4 L411.4 862.6 L410.1 862.0 L408.7 861.4 L407.2 860.9 L405.8 860.2 L404.6 859.3 L403.5 858.1 L402.8 856.8 L402.3 855.3 L401.9 853.8 L401.7 852.3 L401.3 850.8 L400.8 849.5 L400.1 848.2 L399.3 846.9 L398.4 845.6 L397.7 844.2 L397.2 842.8 L397.1 841.2 L397.2 839.7 L397.7 838.2 L398.3 836.8 L399.0 835.4 L399.5 834.0 L399.9 832.6 L400.1 831.2 L400.2 829.7 L400.3 828.1 L400.5 826.6 L401.0 825.1 L401.7 823.8 L402.8 822.6 L404.0 821.7 L405.4 820.9 L406.7 820.1 L408.0 819.4 L409.1 818.5 L410.1 817.4 L411.1 816.3 L412.1 815.0 L413.2 813.9 L414.4 813.0 L415.8 812.4 L417.3 812.1 L418.9 812.0 L420.5 812.2 L422.0 812.4 L423.4 812.5 L424.9 812.4 L426.3 812.2 L427.8 811.8 L429.3 811.4 L430.8 811.1 L432.4 811.1 L433.9 811.4 L435.3 812.1 L436.6 813.0 L437.7 814.0 L438.9 815.1 L440.0 816.0 L441.2 816.8 L442.5 817.4 L443.9 818.0 L445.4 818.5 L446.8 819.2 L448.0 820.1 L449.1 821.3 L449.8 822.6 L450.3 824.1 L450.7 825.6 L450.9 827.1 L451.3 828.6 L451.8 829.9 L452.5 831.2 L453.3 832.5 L454.2 833.8 L454.9 835.2 L455.4 836.6 L455.5 838.2Z" stroke-width="0.8"/><circle cx="426.3" cy="839.7" r="23.8" stroke-width="1.0"/><circle cx="426.3" cy="839.7" r="7.5" stroke-width="1.1" fill="#fff"/><circle cx="426.3" cy="839.7" r="5.3" stroke-width="1.0"/><path d="M426.3 839.7 L417.3 839.7" stroke-width="0.6" stroke-dasharray="3 1.4"/><path d="M398.0 937.0 L398.3 938.5 L398.6 940.0 L398.9 941.6 L399.1 943.2 L399.0 944.8 L398.5 946.3 L397.7 947.6 L396.7 948.9 L395.6 950.0 L394.5 951.1 L393.5 952.2 L392.7 953.5 L392.0 954.8 L391.4 956.2 L390.8 957.7 L389.9 959.1 L388.9 960.3 L387.6 961.2 L386.2 961.8 L384.7 962.3 L383.1 962.5 L381.6 962.8 L380.1 963.1 L378.7 963.6 L377.4 964.3 L376.1 965.1 L374.7 965.9 L373.2 966.5 L371.7 966.9 L370.1 966.9 L368.6 966.6 L367.1 966.0 L365.6 965.3 L364.2 964.6 L362.9 964.0 L361.5 963.6 L360.0 963.4 L358.4 963.2 L356.8 963.1 L355.3 962.7 L353.8 962.1 L352.6 961.2 L351.5 960.0 L350.6 958.7 L349.9 957.3 L349.2 955.9 L348.4 954.6 L347.5 953.5 L346.4 952.4 L345.3 951.4 L344.1 950.3 L343.0 949.1 L342.2 947.7 L341.7 946.3 L341.5 944.7 L341.6 943.1 L341.9 941.5 L342.1 940.0 L342.2 938.5 L342.2 937.0 L341.9 935.6 L341.6 934.0 L341.3 932.5 L341.1 930.9 L341.2 929.3 L341.7 927.8 L342.5 926.4 L343.5 925.2 L344.6 924.1 L345.7 923.0 L346.7 921.8 L347.5 920.6 L348.2 919.3 L348.8 917.8 L349.4 916.4 L350.3 915.0 L351.3 913.8 L352.6 912.9 L354.0 912.2 L355.5 911.8 L357.1 911.6 L358.6 911.3 L360.1 911.0 L361.5 910.5 L362.8 909.8 L364.1 909.0 L365.5 908.2 L367.0 907.6 L368.5 907.2 L370.1 907.2 L371.6 907.5 L373.1 908.1 L374.6 908.8 L376.0 909.5 L377.3 910.1 L378.7 910.5 L380.2 910.7 L381.8 910.8 L383.4 911.0 L384.9 911.4 L386.4 912.0 L387.6 912.9 L388.7 914.1 L389.6 915.4 L390.3 916.8 L391.0 918.2 L391.8 919.5 L392.7 920.6 L393.8 921.7 L394.9 922.7 L396.1 923.8 L397.2 925.0 L398.0 926.3 L398.5 927.8 L398.7 929.4 L398.6 931.0 L398.3 932.6 L398.1 934.1 L398.0 935.6Z" stroke-width="1.1"/><path d="M397.9 937.0 L398.3 938.5 L398.7 940.0 L398.9 941.6 L398.8 943.1 L398.3 944.6 L397.5 946.0 L396.6 947.2 L395.5 948.4 L394.6 949.5 L393.7 950.7 L393.1 952.0 L392.6 953.4 L392.1 954.8 L391.5 956.3 L390.7 957.7 L389.7 958.8 L388.5 959.7 L387.0 960.4 L385.5 960.8 L384.0 961.1 L382.6 961.5 L381.2 962.0 L379.9 962.6 L378.7 963.5 L377.4 964.3 L376.1 965.2 L374.7 965.8 L373.2 966.2 L371.6 966.2 L370.1 965.9 L368.6 965.3 L367.2 964.7 L365.8 964.2 L364.4 963.7 L363.0 963.5 L361.5 963.5 L360.0 963.4 L358.4 963.3 L356.9 963.0 L355.5 962.4 L354.2 961.5 L353.2 960.4 L352.3 959.1 L351.5 957.7 L350.7 956.5 L349.8 955.3 L348.8 954.3 L347.6 953.4 L346.4 952.4 L345.2 951.4 L344.1 950.3 L343.3 949.0 L342.9 947.5 L342.7 946.0 L342.7 944.4 L342.9 942.8 L343.0 941.3 L342.9 939.9 L342.7 938.5 L342.3 937.0 L341.9 935.6 L341.5 934.0 L341.3 932.5 L341.4 930.9 L341.9 929.5 L342.7 928.1 L343.6 926.9 L344.7 925.7 L345.6 924.6 L346.5 923.4 L347.1 922.1 L347.6 920.7 L348.1 919.3 L348.7 917.8 L349.5 916.4 L350.5 915.3 L351.7 914.4 L353.2 913.7 L354.7 913.3 L356.2 912.9 L357.6 912.6 L359.0 912.1 L360.3 911.4 L361.5 910.6 L362.8 909.7 L364.1 908.9 L365.5 908.3 L367.0 907.9 L368.6 907.9 L370.1 908.2 L371.6 908.7 L373.0 909.4 L374.4 909.9 L375.8 910.3 L377.2 910.6 L378.7 910.6 L380.2 910.7 L381.8 910.8 L383.3 911.1 L384.7 911.7 L386.0 912.6 L387.0 913.7 L387.9 915.0 L388.7 916.4 L389.5 917.6 L390.4 918.8 L391.4 919.8 L392.6 920.7 L393.8 921.6 L395.0 922.7 L396.1 923.8 L396.9 925.1 L397.3 926.6 L397.5 928.1 L397.5 929.7 L397.3 931.3 L397.2 932.7 L397.3 934.2 L397.5 935.6Z" stroke-width="0.8"/><circle cx="370.1" cy="937.0" r="23.8" stroke-width="1.0"/><circle cx="370.1" cy="937.0" r="7.5" stroke-width="1.1" fill="#fff"/><circle cx="370.1" cy="937.0" r="5.3" stroke-width="1.0"/><path d="M370.1 937.0 L365.6 929.2" stroke-width="0.6" stroke-dasharray="3 1.4"/><path d="M287.4 937.0 L287.0 938.6 L286.3 940.1 L285.7 941.5 L285.1 942.9 L284.7 944.3 L284.4 945.7 L284.3 947.2 L284.2 948.8 L284.0 950.4 L283.5 951.9 L282.8 953.3 L281.7 954.5 L280.5 955.5 L279.1 956.3 L277.7 957.1 L276.4 957.8 L275.3 958.7 L274.2 959.8 L273.2 960.9 L272.2 962.2 L271.1 963.3 L269.8 964.3 L268.4 965.0 L266.9 965.3 L265.3 965.4 L263.7 965.2 L262.1 965.0 L260.6 964.9 L259.2 964.9 L257.7 965.1 L256.2 965.5 L254.7 965.9 L253.1 966.2 L251.5 966.2 L250.0 965.9 L248.5 965.3 L247.2 964.4 L246.0 963.4 L244.8 962.3 L243.7 961.3 L242.5 960.4 L241.2 959.8 L239.8 959.2 L238.3 958.6 L236.9 957.9 L235.5 957.0 L234.5 955.9 L233.7 954.5 L233.1 953.0 L232.8 951.4 L232.5 949.9 L232.1 948.4 L231.6 947.0 L231.0 945.7 L230.2 944.4 L229.3 943.1 L228.6 941.7 L228.1 940.2 L227.8 938.6 L228.0 937.0 L228.4 935.5 L229.1 934.0 L229.7 932.6 L230.3 931.2 L230.7 929.8 L231.0 928.4 L231.1 926.8 L231.2 925.2 L231.4 923.7 L231.9 922.1 L232.6 920.8 L233.7 919.6 L234.9 918.6 L236.3 917.8 L237.7 917.0 L239.0 916.2 L240.1 915.4 L241.2 914.3 L242.2 913.2 L243.2 911.9 L244.3 910.8 L245.6 909.8 L247.0 909.1 L248.5 908.8 L250.1 908.7 L251.7 908.9 L253.3 909.1 L254.8 909.2 L256.2 909.2 L257.7 909.0 L259.2 908.6 L260.7 908.2 L262.3 907.9 L263.9 907.9 L265.4 908.2 L266.9 908.8 L268.2 909.7 L269.4 910.7 L270.6 911.8 L271.7 912.8 L272.9 913.6 L274.2 914.3 L275.6 914.9 L277.1 915.5 L278.5 916.2 L279.9 917.1 L280.9 918.2 L281.7 919.6 L282.3 921.1 L282.6 922.6 L282.9 924.2 L283.3 925.7 L283.8 927.0 L284.4 928.4 L285.2 929.7 L286.1 931.0 L286.8 932.4 L287.3 933.9 L287.6 935.5Z" stroke-width="1.1"/><path d="M286.2 937.0 L285.7 938.5 L285.1 939.9 L284.7 941.3 L284.4 942.7 L284.4 944.2 L284.4 945.7 L284.4 947.3 L284.2 948.8 L283.8 950.3 L283.0 951.7 L282.0 952.8 L280.8 953.8 L279.5 954.7 L278.2 955.5 L277.0 956.4 L276.0 957.4 L275.1 958.5 L274.2 959.7 L273.3 961.0 L272.2 962.2 L271.0 963.1 L269.6 963.8 L268.1 964.1 L266.5 964.2 L265.0 964.1 L263.4 964.0 L262.0 964.0 L260.6 964.2 L259.1 964.6 L257.7 965.1 L256.2 965.6 L254.7 965.9 L253.1 965.9 L251.6 965.7 L250.2 965.1 L248.9 964.2 L247.7 963.2 L246.5 962.2 L245.3 961.4 L244.0 960.7 L242.7 960.2 L241.2 959.7 L239.7 959.2 L238.3 958.6 L237.0 957.7 L236.0 956.6 L235.2 955.3 L234.6 953.8 L234.2 952.3 L233.8 950.8 L233.3 949.4 L232.7 948.2 L231.9 946.9 L231.0 945.7 L230.1 944.4 L229.3 943.1 L228.8 941.6 L228.6 940.1 L228.7 938.6 L229.2 937.0 L229.7 935.6 L230.3 934.2 L230.7 932.8 L231.0 931.4 L231.0 929.9 L231.0 928.4 L231.0 926.8 L231.2 925.2 L231.6 923.8 L232.4 922.4 L233.4 921.2 L234.6 920.3 L235.9 919.4 L237.2 918.6 L238.4 917.7 L239.4 916.7 L240.3 915.6 L241.2 914.3 L242.1 913.1 L243.2 911.9 L244.4 911.0 L245.8 910.3 L247.3 910.0 L248.9 909.9 L250.4 910.0 L252.0 910.1 L253.4 910.0 L254.8 909.9 L256.3 909.5 L257.7 909.0 L259.2 908.5 L260.7 908.2 L262.3 908.1 L263.8 908.4 L265.2 909.0 L266.5 909.9 L267.7 910.9 L268.9 911.8 L270.1 912.7 L271.4 913.4 L272.7 913.9 L274.2 914.3 L275.7 914.8 L277.1 915.5 L278.4 916.3 L279.4 917.5 L280.2 918.8 L280.8 920.3 L281.2 921.8 L281.6 923.2 L282.1 924.6 L282.7 925.9 L283.5 927.2 L284.4 928.4 L285.3 929.6 L286.1 931.0 L286.6 932.5 L286.8 934.0 L286.7 935.5Z" stroke-width="0.8"/><circle cx="257.7" cy="937.0" r="23.8" stroke-width="1.0"/><circle cx="257.7" cy="937.0" r="7.5" stroke-width="1.1" fill="#fff"/><circle cx="257.7" cy="937.0" r="5.3" stroke-width="1.0"/><path d="M257.7 937.0 L262.2 929.2" stroke-width="0.6" stroke-dasharray="3 1.4"/><path d="M229.8 839.7 L230.2 841.2 L230.6 842.8 L230.8 844.3 L230.7 845.9 L230.3 847.4 L229.6 848.8 L228.6 850.1 L227.5 851.3 L226.5 852.5 L225.7 853.7 L225.0 854.9 L224.4 856.3 L223.9 857.8 L223.3 859.3 L222.5 860.7 L221.5 861.9 L220.3 862.9 L218.8 863.6 L217.3 864.0 L215.8 864.4 L214.3 864.7 L212.9 865.2 L211.5 865.8 L210.2 866.6 L208.9 867.5 L207.6 868.4 L206.1 869.0 L204.6 869.4 L203.1 869.5 L201.5 869.2 L200.0 868.7 L198.5 868.0 L197.1 867.5 L195.7 867.0 L194.3 866.7 L192.8 866.6 L191.2 866.6 L189.6 866.5 L188.0 866.2 L186.6 865.6 L185.3 864.7 L184.2 863.6 L183.2 862.3 L182.4 860.9 L181.6 859.6 L180.8 858.4 L179.8 857.3 L178.6 856.3 L177.4 855.4 L176.1 854.3 L175.0 853.2 L174.2 851.9 L173.7 850.4 L173.4 848.8 L173.5 847.2 L173.6 845.6 L173.7 844.1 L173.7 842.6 L173.6 841.2 L173.2 839.7 L172.8 838.2 L172.4 836.6 L172.2 835.1 L172.3 833.5 L172.7 832.0 L173.4 830.6 L174.4 829.3 L175.5 828.1 L176.5 826.9 L177.3 825.7 L178.0 824.5 L178.6 823.1 L179.1 821.6 L179.7 820.1 L180.5 818.7 L181.5 817.5 L182.7 816.5 L184.2 815.8 L185.7 815.4 L187.2 815.0 L188.7 814.7 L190.1 814.2 L191.5 813.6 L192.8 812.8 L194.1 811.9 L195.4 811.0 L196.9 810.4 L198.4 810.0 L199.9 809.9 L201.5 810.2 L203.0 810.7 L204.5 811.4 L205.9 811.9 L207.3 812.4 L208.7 812.7 L210.2 812.8 L211.8 812.8 L213.4 812.9 L215.0 813.2 L216.4 813.8 L217.7 814.7 L218.8 815.8 L219.8 817.1 L220.6 818.5 L221.4 819.8 L222.2 821.0 L223.2 822.1 L224.4 823.1 L225.6 824.0 L226.9 825.1 L228.0 826.2 L228.8 827.5 L229.3 829.0 L229.6 830.6 L229.5 832.2 L229.4 833.8 L229.3 835.3 L229.3 836.8 L229.4 838.2Z" stroke-width="1.1"/><path d="M229.9 839.7 L230.3 841.2 L230.5 842.8 L230.4 844.3 L230.0 845.8 L229.3 847.1 L228.4 848.4 L227.4 849.6 L226.5 850.8 L225.8 852.1 L225.3 853.4 L224.9 854.9 L224.4 856.4 L223.9 857.9 L223.2 859.2 L222.2 860.4 L221.0 861.4 L219.6 862.0 L218.1 862.5 L216.6 863.0 L215.2 863.4 L213.9 864.0 L212.7 864.8 L211.5 865.7 L210.3 866.7 L209.0 867.6 L207.6 868.3 L206.1 868.6 L204.5 868.7 L203.0 868.4 L201.5 867.9 L200.0 867.4 L198.6 867.0 L197.2 866.7 L195.8 866.6 L194.3 866.6 L192.7 866.7 L191.2 866.6 L189.6 866.4 L188.2 865.8 L186.9 864.9 L185.8 863.8 L184.9 862.5 L184.0 861.3 L183.2 860.1 L182.2 859.0 L181.1 858.1 L179.9 857.2 L178.6 856.4 L177.3 855.4 L176.2 854.3 L175.4 853.0 L174.9 851.6 L174.7 850.0 L174.6 848.4 L174.7 846.9 L174.7 845.4 L174.5 844.0 L174.2 842.6 L173.7 841.2 L173.1 839.7 L172.7 838.2 L172.5 836.6 L172.6 835.1 L173.0 833.6 L173.7 832.3 L174.6 831.0 L175.6 829.8 L176.5 828.6 L177.2 827.3 L177.7 826.0 L178.1 824.5 L178.6 823.0 L179.1 821.5 L179.8 820.2 L180.8 819.0 L182.0 818.0 L183.4 817.4 L184.9 816.9 L186.4 816.4 L187.8 816.0 L189.1 815.4 L190.3 814.6 L191.5 813.7 L192.7 812.7 L194.0 811.8 L195.4 811.1 L196.9 810.8 L198.5 810.7 L200.0 811.0 L201.5 811.5 L203.0 812.0 L204.4 812.4 L205.8 812.7 L207.2 812.8 L208.7 812.8 L210.3 812.7 L211.8 812.8 L213.4 813.0 L214.8 813.6 L216.1 814.5 L217.2 815.6 L218.1 816.9 L219.0 818.1 L219.8 819.3 L220.8 820.4 L221.9 821.3 L223.1 822.2 L224.4 823.0 L225.7 824.0 L226.8 825.1 L227.6 826.4 L228.1 827.8 L228.3 829.4 L228.4 831.0 L228.3 832.5 L228.3 834.0 L228.5 835.4 L228.8 836.8 L229.3 838.2Z" stroke-width="0.8"/><circle cx="201.5" cy="839.7" r="23.8" stroke-width="1.0"/><circle cx="201.5" cy="839.7" r="7.5" stroke-width="1.1" fill="#fff"/><circle cx="201.5" cy="839.7" r="5.3" stroke-width="1.0"/><path d="M201.5 839.7 L210.5 839.7" stroke-width="0.6" stroke-dasharray="3 1.4"/><path d="M286.9 742.4 L286.4 743.9 L285.8 745.3 L285.3 746.7 L285.0 748.2 L284.9 749.6 L284.9 751.2 L284.9 752.8 L284.7 754.4 L284.3 755.9 L283.6 757.3 L282.6 758.5 L281.3 759.5 L280.0 760.4 L278.7 761.3 L277.5 762.1 L276.4 763.1 L275.4 764.2 L274.5 765.5 L273.5 766.8 L272.5 768.0 L271.2 769.0 L269.9 769.7 L268.3 770.0 L266.7 770.2 L265.1 770.1 L263.6 770.0 L262.1 770.0 L260.6 770.1 L259.2 770.5 L257.7 770.9 L256.2 771.4 L254.6 771.8 L253.0 771.8 L251.5 771.6 L250.0 771.0 L248.7 770.2 L247.4 769.2 L246.2 768.2 L245.0 767.3 L243.7 766.5 L242.4 766.0 L240.9 765.5 L239.4 765.0 L237.9 764.3 L236.6 763.5 L235.5 762.4 L234.7 761.0 L234.1 759.5 L233.6 758.0 L233.2 756.5 L232.8 755.0 L232.2 753.7 L231.4 752.4 L230.5 751.2 L229.6 749.9 L228.8 748.5 L228.2 747.0 L228.0 745.5 L228.1 743.9 L228.5 742.4 L229.0 740.9 L229.6 739.4 L230.1 738.0 L230.4 736.6 L230.5 735.1 L230.5 733.5 L230.5 731.9 L230.7 730.3 L231.1 728.8 L231.8 727.4 L232.8 726.2 L234.1 725.2 L235.4 724.3 L236.7 723.5 L237.9 722.6 L239.0 721.6 L240.0 720.5 L240.9 719.2 L241.9 718.0 L242.9 716.8 L244.2 715.8 L245.5 715.1 L247.1 714.7 L248.7 714.6 L250.3 714.6 L251.8 714.7 L253.3 714.7 L254.8 714.6 L256.2 714.3 L257.7 713.8 L259.2 713.3 L260.8 713.0 L262.4 712.9 L263.9 713.1 L265.4 713.7 L266.7 714.6 L268.0 715.6 L269.2 716.6 L270.4 717.5 L271.7 718.2 L273.0 718.8 L274.5 719.2 L276.0 719.8 L277.5 720.4 L278.8 721.3 L279.9 722.4 L280.7 723.7 L281.3 725.2 L281.8 726.7 L282.2 728.2 L282.6 729.7 L283.2 731.0 L284.0 732.3 L284.9 733.5 L285.8 734.8 L286.6 736.2 L287.2 737.7 L287.4 739.2 L287.3 740.8Z" stroke-width="1.1"/><path d="M285.6 742.4 L285.2 743.8 L284.9 745.2 L284.7 746.6 L284.8 748.1 L284.9 749.6 L285.0 751.2 L284.8 752.8 L284.5 754.3 L283.7 755.6 L282.8 756.8 L281.6 757.9 L280.3 758.8 L279.1 759.7 L278.0 760.6 L277.1 761.7 L276.2 762.9 L275.4 764.2 L274.5 765.5 L273.5 766.7 L272.3 767.7 L271.0 768.4 L269.5 768.8 L267.9 768.9 L266.3 768.9 L264.8 768.9 L263.4 769.1 L262.0 769.4 L260.6 769.9 L259.2 770.5 L257.7 771.0 L256.2 771.4 L254.6 771.5 L253.1 771.2 L251.7 770.7 L250.3 769.8 L249.1 768.9 L247.8 768.1 L246.6 767.3 L245.3 766.7 L243.9 766.3 L242.4 766.0 L240.9 765.5 L239.4 765.0 L238.1 764.1 L237.0 763.0 L236.2 761.7 L235.6 760.3 L235.1 758.8 L234.6 757.3 L234.0 756.0 L233.3 754.8 L232.4 753.6 L231.4 752.4 L230.4 751.2 L229.6 749.9 L229.1 748.4 L228.8 746.9 L228.9 745.4 L229.3 743.8 L229.8 742.4 L230.2 740.9 L230.5 739.5 L230.7 738.1 L230.6 736.6 L230.5 735.1 L230.4 733.5 L230.6 731.9 L230.9 730.4 L231.7 729.1 L232.6 727.9 L233.8 726.9 L235.1 725.9 L236.3 725.0 L237.4 724.1 L238.3 723.0 L239.2 721.8 L240.0 720.5 L240.9 719.2 L241.9 718.0 L243.1 717.0 L244.4 716.3 L245.9 715.9 L247.5 715.8 L249.1 715.8 L250.6 715.8 L252.0 715.6 L253.4 715.3 L254.8 714.8 L256.2 714.3 L257.7 713.7 L259.2 713.3 L260.8 713.2 L262.3 713.5 L263.7 714.1 L265.1 714.9 L266.3 715.8 L267.6 716.7 L268.8 717.4 L270.1 718.0 L271.5 718.4 L273.0 718.8 L274.5 719.2 L276.0 719.8 L277.3 720.6 L278.4 721.7 L279.2 723.0 L279.8 724.5 L280.3 725.9 L280.8 727.4 L281.4 728.7 L282.1 729.9 L283.0 731.1 L284.0 732.3 L285.0 733.5 L285.8 734.8 L286.3 736.3 L286.6 737.8 L286.5 739.3 L286.1 740.9Z" stroke-width="0.8"/><circle cx="257.7" cy="742.4" r="23.8" stroke-width="1.0"/><circle cx="257.7" cy="742.4" r="7.5" stroke-width="1.1" fill="#fff"/><circle cx="257.7" cy="742.4" r="5.3" stroke-width="1.0"/><path d="M257.7 742.4 L262.2 750.2" stroke-width="0.6" stroke-dasharray="3 1.4"/><path d="M399.0 742.4 L399.4 743.9 L399.7 745.5 L399.6 747.0 L399.2 748.5 L398.5 750.0 L397.6 751.3 L396.6 752.5 L395.7 753.8 L395.0 755.0 L394.4 756.4 L393.9 757.8 L393.5 759.3 L392.9 760.8 L392.2 762.3 L391.2 763.5 L390.0 764.5 L388.6 765.2 L387.1 765.8 L385.6 766.2 L384.1 766.6 L382.8 767.2 L381.5 768.0 L380.3 768.9 L379.0 769.8 L377.7 770.7 L376.3 771.5 L374.8 771.9 L373.2 772.0 L371.6 771.7 L370.1 771.3 L368.6 770.7 L367.2 770.3 L365.7 769.9 L364.3 769.8 L362.8 769.8 L361.2 769.8 L359.6 769.8 L358.0 769.5 L356.5 769.0 L355.2 768.1 L354.1 767.0 L353.1 765.8 L352.2 764.4 L351.3 763.2 L350.4 762.1 L349.3 761.1 L348.0 760.2 L346.7 759.3 L345.5 758.4 L344.3 757.2 L343.5 755.9 L342.9 754.5 L342.6 752.9 L342.6 751.3 L342.6 749.7 L342.7 748.2 L342.5 746.7 L342.2 745.3 L341.8 743.8 L341.2 742.4 L340.8 740.8 L340.5 739.2 L340.6 737.7 L341.0 736.2 L341.7 734.7 L342.6 733.4 L343.6 732.2 L344.5 731.0 L345.2 729.7 L345.8 728.3 L346.3 726.9 L346.7 725.4 L347.3 723.9 L348.0 722.4 L349.0 721.2 L350.2 720.2 L351.6 719.5 L353.1 719.0 L354.6 718.5 L356.1 718.1 L357.4 717.5 L358.7 716.8 L359.9 715.9 L361.2 714.9 L362.5 714.0 L363.9 713.3 L365.4 712.8 L367.0 712.7 L368.6 713.0 L370.1 713.4 L371.6 714.0 L373.0 714.5 L374.5 714.8 L375.9 714.9 L377.4 714.9 L379.0 714.9 L380.6 714.9 L382.2 715.2 L383.7 715.7 L385.0 716.6 L386.1 717.7 L387.1 719.0 L388.0 720.3 L388.9 721.5 L389.8 722.6 L390.9 723.6 L392.2 724.5 L393.5 725.4 L394.7 726.4 L395.9 727.5 L396.7 728.8 L397.3 730.2 L397.6 731.8 L397.6 733.4 L397.6 735.0 L397.5 736.5 L397.7 738.0 L398.0 739.4 L398.4 740.9Z" stroke-width="1.1"/><path d="M399.0 742.4 L399.3 743.9 L399.2 745.4 L398.8 746.9 L398.1 748.3 L397.3 749.6 L396.4 750.9 L395.6 752.2 L395.1 753.5 L394.6 754.9 L394.3 756.3 L394.0 757.9 L393.5 759.4 L392.8 760.8 L391.9 762.0 L390.7 762.9 L389.3 763.7 L387.8 764.2 L386.4 764.7 L385.0 765.3 L383.8 766.0 L382.6 766.9 L381.5 767.9 L380.3 768.9 L379.0 769.9 L377.7 770.6 L376.2 771.0 L374.6 771.1 L373.1 770.9 L371.6 770.5 L370.1 770.0 L368.7 769.7 L367.2 769.5 L365.8 769.5 L364.3 769.7 L362.7 769.8 L361.2 769.9 L359.6 769.6 L358.2 769.1 L356.9 768.3 L355.8 767.2 L354.8 766.0 L353.8 764.7 L352.9 763.6 L351.8 762.7 L350.6 761.8 L349.3 761.1 L348.0 760.3 L346.7 759.4 L345.6 758.3 L344.7 757.0 L344.2 755.6 L343.9 754.0 L343.8 752.4 L343.8 750.9 L343.7 749.4 L343.4 748.0 L342.9 746.7 L342.3 745.3 L341.7 743.8 L341.2 742.4 L340.9 740.8 L341.0 739.3 L341.4 737.8 L342.1 736.4 L342.9 735.1 L343.8 733.8 L344.6 732.6 L345.1 731.3 L345.6 729.9 L345.9 728.4 L346.2 726.9 L346.7 725.4 L347.4 724.0 L348.3 722.8 L349.5 721.8 L350.9 721.1 L352.4 720.5 L353.8 720.0 L355.2 719.4 L356.4 718.7 L357.6 717.8 L358.7 716.8 L359.9 715.8 L361.2 714.8 L362.5 714.1 L364.0 713.7 L365.6 713.6 L367.1 713.9 L368.6 714.3 L370.1 714.7 L371.5 715.0 L373.0 715.2 L374.4 715.2 L375.9 715.0 L377.5 714.9 L379.0 714.8 L380.6 715.1 L382.0 715.6 L383.3 716.4 L384.4 717.5 L385.4 718.8 L386.4 720.0 L387.3 721.1 L388.4 722.1 L389.6 722.9 L390.9 723.7 L392.2 724.5 L393.5 725.4 L394.6 726.4 L395.5 727.7 L396.0 729.2 L396.3 730.7 L396.4 732.3 L396.4 733.8 L396.5 735.3 L396.8 736.7 L397.3 738.1 L397.9 739.4 L398.5 740.9Z" stroke-width="0.8"/><circle cx="370.1" cy="742.4" r="23.8" stroke-width="1.0"/><circle cx="370.1" cy="742.4" r="7.5" stroke-width="1.1" fill="#fff"/><circle cx="370.1" cy="742.4" r="5.3" stroke-width="1.0"/><path d="M370.1 742.4 L365.6 750.2" stroke-width="0.6" stroke-dasharray="3 1.4"/></g>
<path d="M312.3 738.4 L295.1 738.4" stroke="#222" stroke-width="0.80" fill="none"/><path d="M288.6 738.4 L295.1 736.9 L295.1 739.9 Z" fill="#222"/>
<text class="r" transform="translate(313.40 748.60) scale(0.660 1)" x="-0.08" y="0" font-size="14.5" fill="#222">A</text>
<path d="M423.6 745.5 L407.5 745.5" stroke="#222" stroke-width="0.80" fill="none"/><path d="M401.0 745.5 L407.5 744.0 L407.5 747.0 Z" fill="#222"/>
<text class="r" transform="translate(426.20 755.70) scale(0.660 1)" x="-0.08" y="0" font-size="14.5" fill="#222">A</text>
<path d="M251.9 858.6 L234.0 858.6" stroke="#222" stroke-width="0.80" fill="none"/><path d="M227.5 858.6 L234.0 857.1 L234.0 860.1 Z" fill="#222"/>
<text class="r" transform="translate(251.90 868.80) scale(0.660 1)" x="0.32" y="0" font-size="14.5" fill="#222">B</text>
<path d="M479.4 851.2 L465.4 851.2" stroke="#222" stroke-width="0.80" fill="none"/><path d="M458.9 851.2 L465.4 849.7 L465.4 852.7 Z" fill="#222"/>
<text class="r" transform="translate(482.90 861.00) scale(0.660 1)" x="0.32" y="0" font-size="14.5" fill="#222">B</text>
<path d="M311.8 939.3 L299.0 939.3" stroke="#222" stroke-width="0.80" fill="none"/><path d="M292.5 939.3 L299.0 937.8 L299.0 940.8 Z" fill="#222"/>
<text class="r" transform="translate(314.00 949.90) scale(0.660 1)" x="-0.08" y="0" font-size="14.5" fill="#222">A</text>
<path d="M422.0 932.0 L408.1 932.0" stroke="#222" stroke-width="0.80" fill="none"/><path d="M401.6 932.0 L408.1 930.5 L408.1 933.5 Z" fill="#222"/>
<text class="r" transform="translate(424.90 941.60) scale(0.660 1)" x="-0.08" y="0" font-size="14.5" fill="#222">A</text>
<!-- 10_chandelier -->
<g fill="none" stroke="#1a1a1a" stroke-width="1.0" stroke-linecap="round" stroke-linejoin="round"><path d="M240.8 158.3 L256.0 140.5"/><path d="M257.6 158.3 L272.8 140.5"/><path d="M273.1 158.3 L288.3 140.5"/><path d="M288.8 158.3 L304.0 140.5"/><path d="M303.2 158.3 L318.4 140.5"/><path d="M324.0 158.3 L339.2 140.5"/><path d="M344.0 158.3 L359.2 140.5"/><path d="M362.4 158.3 L377.6 140.5"/><path d="M382.0 158.3 L397.2 140.5"/><path d="M223.4 158.3 H403" stroke-width="1.2"/><path d="M286.4 158.3 V147.2 Q286.4 145.7 288 145.7 H340.4 Q342 145.7 342 147.2 V158.3 Z" fill="#fff"/><rect x="279.8" y="158.3" width="65.8" height="2.4" fill="#fff"/><rect x="309" y="158.9" width="6.4" height="1.8" stroke-width="0.6"/><path d="M303.5 161 Q304.5 165.6 312.3 165.6 Q320 165.6 321 161" /></g>
<path d="M312.50 165.20 C312.52 166.25 311.88 169.57 312.60 171.50 C313.32 173.43 315.30 174.85 316.80 176.80 C318.30 178.75 320.77 180.90 321.60 183.20 C322.43 185.50 322.48 188.53 321.80 190.60 C321.12 192.67 319.23 194.57 317.50 195.60 C315.77 196.63 313.38 197.03 311.40 196.80 C309.42 196.57 307.07 195.43 305.60 194.20 C304.13 192.97 303.13 190.90 302.60 189.40 C302.07 187.90 302.43 185.90 302.40 185.20" fill="none" stroke="#1a1a1a" stroke-width="5.30" stroke-linecap="round" stroke-linejoin="round"/><path d="M312.50 165.20 C312.52 166.25 311.88 169.57 312.60 171.50 C313.32 173.43 315.30 174.85 316.80 176.80 C318.30 178.75 320.77 180.90 321.60 183.20 C322.43 185.50 322.48 188.53 321.80 190.60 C321.12 192.67 319.23 194.57 317.50 195.60 C315.77 196.63 313.38 197.03 311.40 196.80 C309.42 196.57 307.07 195.43 305.60 194.20 C304.13 192.97 303.13 190.90 302.60 189.40 C302.07 187.90 302.43 185.90 302.40 185.20" fill="none" stroke="#fff" stroke-width="3.30" stroke-linecap="round" stroke-linejoin="round"/>
<g fill="none" stroke="#1a1a1a" stroke-width="0.85" stroke-linecap="round" stroke-linejoin="round"><path d="M325.2 160.8 L325.6 168 L326.4 176.3 M326.9 160.8 L327.4 168 L327.9 176.3 M326.2 176.8 h1.9"/><path d="M328.4 160.8 L329.6 166 L330.4 176.3 M330 160.8 L331.2 166 L331.9 176.3 M330.2 176.8 h1.9"/><path d="M329.4 184.3 Q328.8 192 321.4 203.4 M331.2 185.2 Q330.8 193 323.4 204.6" stroke="#222" stroke-width="0.95"/></g>
<g transform="translate(314.7 212.7) rotate(28)" fill="none" stroke="#1a1a1a" stroke-width="0.8" stroke-linejoin="round"><rect x="-4.8" y="-8.6" width="9.6" height="17.2" rx="0.8" fill="#fff" stroke-width="1.1"/><rect x="-3.2" y="-5" width="6.4" height="9" fill="#666" stroke-width="0.6"/><path d="M-3.2 -2 H3.2 M-3.2 1 H3.2 M0 -5 V4" stroke="#eee" stroke-width="0.5"/><rect x="3" y="-8.8" width="2" height="2.6" fill="#333" stroke="none"/></g>
<path d="M308.80 221.00 C309.07 221.83 309.67 224.08 310.40 226.00 C311.13 227.92 312.40 230.08 313.20 232.50 C314.00 234.92 314.80 237.75 315.20 240.50 C315.60 243.25 315.57 246.17 315.60 249.00 C315.63 251.83 315.43 256.08 315.40 257.50" fill="none" stroke="#777" stroke-width="2.80" stroke-linecap="butt" stroke-linejoin="round"/><path d="M308.80 221.00 C309.07 221.83 309.67 224.08 310.40 226.00 C311.13 227.92 312.40 230.08 313.20 232.50 C314.00 234.92 314.80 237.75 315.20 240.50 C315.60 243.25 315.57 246.17 315.60 249.00 C315.63 251.83 315.43 256.08 315.40 257.50" fill="none" stroke="#fff" stroke-width="1.20" stroke-linecap="butt" stroke-linejoin="round"/>
<g fill="none" stroke="#1a1a1a" stroke-width="1.0" stroke-linecap="round" stroke-linejoin="round"><path d="M286.7 261.1 L288.9 263.8 L291.3 268.5 L293.9 275.2 L295.6 281.0 L297.1 286.5 L298.7 290.6 L300.8 293.4 L303.0 295.1 L305.6 296.2 L322.6 296.2 L322.6 296.2 L325.2 295.1 L327.4 293.4 L329.5 290.6 L331.1 286.5 L332.6 281.0 L334.3 275.2 L336.9 268.5 L339.3 263.8 L341.5 261.1 Z" fill="#fff" stroke="none"/><path d="M286.70 261.10 C287.07 261.55 288.13 262.57 288.90 263.80 C289.67 265.03 290.47 266.60 291.30 268.50 C292.13 270.40 293.18 273.12 293.90 275.20 C294.62 277.28 295.07 279.12 295.60 281.00 C296.13 282.88 296.58 284.90 297.10 286.50 C297.62 288.10 298.08 289.45 298.70 290.60 C299.32 291.75 300.08 292.65 300.80 293.40 C301.52 294.15 302.20 294.63 303.00 295.10 C303.80 295.57 305.17 296.02 305.60 296.20"/><path d="M341.50 261.10 C341.13 261.55 340.07 262.57 339.30 263.80 C338.53 265.03 337.73 266.60 336.90 268.50 C336.07 270.40 335.02 273.12 334.30 275.20 C333.58 277.28 333.13 279.12 332.60 281.00 C332.07 282.88 331.62 284.90 331.10 286.50 C330.58 288.10 330.12 289.45 329.50 290.60 C328.88 291.75 328.12 292.65 327.40 293.40 C326.68 294.15 326.00 294.63 325.20 295.10 C324.40 295.57 323.03 296.02 322.60 296.20"/><path d="M305.6 296.3 H322.6" /><path d="M286.4 259.8 H341.8 M286.6 261.3 H341.6" stroke-width="1.0"/><path d="M311.6 266 V296 M316.8 266 V296"/><rect x="310.6" y="262.8" width="7.2" height="5.4" fill="#fff"/><path d="M311.2 262.6 V259.6 Q311.2 257.2 314.2 257.2 Q317.4 257.2 317.4 259.6 V262.6" stroke-width="1.0"/><path d="M312.4 262.6 V260.4 Q312.4 258.6 314.2 258.6 Q316.2 258.6 316.2 260.4 V262.6" stroke-width="0.6"/><circle cx="318.9" cy="266.3" r="0.9" fill="#1a1a1a"/><rect x="310.9" y="296.4" width="6.4" height="4" fill="#fff"/><rect x="312.1" y="300.4" width="4.1" height="5" fill="#fff"/><rect x="310.6" y="305.4" width="7" height="5" fill="#fff"/><circle cx="318.7" cy="297.8" r="0.8" fill="#1a1a1a"/><circle cx="318.7" cy="307.8" r="0.8" fill="#1a1a1a"/></g>
<g fill="none" stroke="#1a1a1a" stroke-width="1.0" stroke-linecap="round" stroke-linejoin="round"></g>
<path d="M311.40 311.00 C311.13 312.17 309.97 315.50 309.80 318.00 C309.63 320.50 309.73 323.33 310.40 326.00 C311.07 328.67 312.43 331.33 313.80 334.00 C315.17 336.67 317.20 339.33 318.60 342.00 C320.00 344.67 321.50 347.33 322.20 350.00 C322.90 352.67 323.07 355.33 322.80 358.00 C322.53 360.67 321.53 363.33 320.60 366.00 C319.67 368.67 318.03 371.67 317.20 374.00 C316.37 376.33 315.87 379.00 315.60 380.00" fill="none" stroke="#1a1a1a" stroke-width="2.90" stroke-linecap="butt" stroke-linejoin="round"/><path d="M311.40 311.00 C311.13 312.17 309.97 315.50 309.80 318.00 C309.63 320.50 309.73 323.33 310.40 326.00 C311.07 328.67 312.43 331.33 313.80 334.00 C315.17 336.67 317.20 339.33 318.60 342.00 C320.00 344.67 321.50 347.33 322.20 350.00 C322.90 352.67 323.07 355.33 322.80 358.00 C322.53 360.67 321.53 363.33 320.60 366.00 C319.67 368.67 318.03 371.67 317.20 374.00 C316.37 376.33 315.87 379.00 315.60 380.00" fill="none" stroke="#fff" stroke-width="1.10" stroke-linecap="butt" stroke-linejoin="round"/>
<g fill="none" stroke="#1a1a1a" stroke-width="1.0" stroke-linecap="round" stroke-linejoin="round"><rect x="310.6" y="319.8" width="7.0" height="12.8" rx="3.4" fill="#fff" stroke-width="1.25"/><rect x="312.8" y="322.2" width="2.6" height="8.0" rx="1.3" fill="#fff" stroke-width="0.9"/><rect x="310.6" y="338.8" width="7.0" height="12.8" rx="3.4" fill="#fff" stroke-width="1.25"/><rect x="312.8" y="341.2" width="2.6" height="8.0" rx="1.3" fill="#fff" stroke-width="0.9"/><rect x="310.6" y="357.8" width="7.0" height="12.8" rx="3.4" fill="#fff" stroke-width="1.25"/><rect x="312.8" y="360.2" width="2.6" height="8.0" rx="1.3" fill="#fff" stroke-width="0.9"/><rect x="310.6" y="377.0" width="7.0" height="10.8" rx="3.4" fill="#fff" stroke-width="1.25"/><rect x="312.8" y="379.4" width="2.6" height="6.0" rx="1.3" fill="#fff" stroke-width="0.9"/><path d="M314.1 311.2 V320.8" stroke-width="2.6"/><path d="M314.1 312.4 V319.6" stroke-width="0.7" stroke="#fff"/><path d="M314.1 330.8 V340.4" stroke-width="2.6"/><path d="M314.1 332.0 V339.2" stroke-width="0.7" stroke="#fff"/><path d="M314.1 350.0 V359.6" stroke-width="2.6"/><path d="M314.1 351.2 V358.4" stroke-width="0.7" stroke="#fff"/><path d="M314.1 368.8 V378.4" stroke-width="2.6"/><path d="M314.1 370.0 V377.2" stroke-width="0.7" stroke="#fff"/><path d="M313.2 311 L312.6 316 M315 311 L315.6 316" /><path d="M303.4 352.8 Q306.4 352.8 307.2 358 L307.9 366.2 Q308 371 303.4 371 Q298.9 371 299 366.2 L299.7 358 Q300.5 352.8 303.4 352.8 Z" stroke-width="1.3" stroke="#222"/><path d="M303.4 354.6 Q305.2 354.6 305.8 358.4 L306.4 366 Q306.4 369.3 303.4 369.3 Q300.5 369.3 300.5 366 L301.1 358.4 Q301.7 354.6 303.4 354.6 Z" stroke-width="0.9" stroke="#222"/></g>
<path d="M303.00 561.95 L302.96 559.68 L302.92 556.51 L302.86 552.77 L302.78 548.80 L302.70 544.92 L302.61 541.11 L302.51 537.13 L302.40 533.04 L302.27 528.92 L302.10 524.85 L301.90 520.79 L301.70 516.67 L301.45 512.56 L301.15 508.52 L300.78 504.64 L300.34 500.92 L299.86 497.30 L299.30 493.78 L298.65 490.39 L297.89 487.16 L297.03 484.09 L296.08 481.16 L295.02 478.38 L293.85 475.75 L292.54 473.29 L291.08 471.02 L289.50 468.97 L287.84 467.13 L286.11 465.47 L284.33 463.95 L282.45 462.54 L280.49 461.28 L278.46 460.18 L276.37 459.22 L274.22 458.39 L271.97 457.68 L269.64 457.11 L267.26 456.67 L264.88 456.36 L262.53 456.20 L260.19 456.18 L257.82 456.30 L255.46 456.56 L253.16 456.97 L250.96 457.56 L248.90 458.34 L246.95 459.29 L245.13 460.39 L243.46 461.65 L241.94 463.05 L240.61 464.63 L239.47 466.34 L238.54 468.14 L237.81 469.99 L237.28 471.85 L236.96 473.76 L236.84 475.73 L236.92 477.72 L237.24 479.71 L237.84 481.65 L238.73 483.47 L239.86 485.13 L241.14 486.63 L242.52 487.96 L243.99 489.14 L245.57 490.19 L247.28 491.11 L249.07 491.89 L250.91 492.51 L252.80 492.95 L254.75 493.19 L256.73 493.24 L258.68 493.00 L260.54 492.60 L262.29 492.05 L263.89 491.29 L265.29 490.35 L266.47 489.32 L267.47 488.25 L268.36 487.15 L269.16 485.92 L269.80 484.59 L270.28 483.30 L270.63 482.13 L270.87 481.10 L270.97 480.14 L270.88 479.28 L270.66 478.66 L270.43 478.28 L270.19 478.08 L268.61 478.32 L268.46 478.69 L268.41 479.07 L268.33 479.39 L268.19 479.69 L267.93 480.10 L267.49 480.79 L266.91 481.66 L266.25 482.56 L265.56 483.38 L264.84 484.05 L264.05 484.67 L263.18 485.27 L262.30 485.77 L261.43 486.12 L260.51 486.35 L259.40 486.48 L258.07 486.53 L256.65 486.47 L255.27 486.41 L254.00 486.25 L252.77 485.96 L251.50 485.54 L250.24 484.99 L249.07 484.36 L248.01 483.66 L247.02 482.86 L246.08 481.95 L245.25 480.99 L244.60 480.05 L244.16 479.15 L243.87 478.19 L243.69 477.04 L243.64 475.80 L243.72 474.54 L243.92 473.35 L244.25 472.17 L244.73 470.96 L245.34 469.78 L246.05 468.70 L246.86 467.75 L247.81 466.87 L248.94 466.03 L250.20 465.26 L251.58 464.58 L253.04 464.04 L254.64 463.61 L256.43 463.29 L258.35 463.08 L260.32 462.98 L262.27 463.00 L264.21 463.13 L266.21 463.38 L268.20 463.75 L270.14 464.23 L271.98 464.81 L273.73 465.49 L275.41 466.26 L277.03 467.14 L278.58 468.13 L280.07 469.25 L281.55 470.51 L282.96 471.86 L284.28 473.32 L285.52 474.92 L286.66 476.71 L287.73 478.73 L288.74 480.97 L289.67 483.42 L290.52 486.05 L291.31 488.84 L292.00 491.80 L292.60 494.95 L293.13 498.28 L293.60 501.77 L294.02 505.36 L294.38 509.10 L294.67 513.01 L294.91 517.04 L295.11 521.12 L295.30 525.15 L295.47 529.18 L295.61 533.25 L295.72 537.30 L295.81 541.27 L295.90 545.08 L295.98 548.93 L296.06 552.89 L296.12 556.62 L296.16 559.79 L296.20 562.05Z" fill="#383838"/><path d="M302.25 561.96 L302.21 559.70 L302.17 556.53 L302.11 552.79 L302.03 548.81 L301.95 544.94 L301.86 541.13 L301.76 537.15 L301.65 533.06 L301.52 528.95 L301.35 524.88 L301.16 520.82 L300.95 516.71 L300.71 512.61 L300.41 508.58 L300.04 504.72 L299.60 501.01 L299.12 497.41 L298.56 493.91 L297.92 490.55 L297.17 487.34 L296.32 484.30 L295.37 481.41 L294.33 478.67 L293.17 476.08 L291.89 473.67 L290.47 471.45 L288.93 469.45 L287.30 467.65 L285.61 466.02 L283.86 464.53 L282.03 463.16 L280.11 461.93 L278.12 460.85 L276.08 459.91 L273.98 459.10 L271.77 458.40 L269.48 457.84 L267.14 457.41 L264.81 457.11 L262.50 456.95 L260.20 456.93 L257.88 457.04 L255.57 457.30 L253.32 457.70 L251.19 458.28 L249.19 459.03 L247.31 459.94 L245.55 461.01 L243.94 462.22 L242.49 463.57 L241.21 465.08 L240.12 466.72 L239.22 468.45 L238.52 470.23 L238.01 472.02 L237.70 473.85 L237.59 475.74 L237.67 477.65 L237.98 479.54 L238.53 481.37 L239.38 483.10 L240.45 484.68 L241.68 486.11 L243.02 487.40 L244.43 488.54 L245.95 489.55 L247.60 490.44 L249.33 491.19 L251.12 491.78 L252.93 492.21 L254.80 492.44 L256.72 492.49 L258.61 492.27 L260.41 491.89 L262.07 491.37 L263.59 490.66 L264.92 489.78 L266.05 488.79 L267.01 487.77 L267.87 486.72 L268.64 485.55 L269.26 484.28 L269.74 483.04 L270.09 481.90 L270.32 480.91 L270.42 480.05 L270.33 479.31 L270.14 478.75 L269.92 478.39 L269.70 478.15 L269.10 478.25 L268.97 478.58 L268.93 478.97 L268.87 479.37 L268.74 479.78 L268.48 480.29 L268.03 481.02 L267.45 481.92 L266.79 482.87 L266.08 483.74 L265.33 484.48 L264.50 485.15 L263.61 485.79 L262.68 486.34 L261.73 486.76 L260.73 487.03 L259.53 487.19 L258.14 487.26 L256.66 487.21 L255.21 487.16 L253.87 486.99 L252.57 486.69 L251.23 486.24 L249.91 485.67 L248.68 485.00 L247.57 484.26 L246.53 483.42 L245.53 482.47 L244.66 481.45 L243.96 480.42 L243.47 479.43 L243.14 478.35 L242.94 477.11 L242.89 475.79 L242.97 474.45 L243.19 473.18 L243.54 471.93 L244.05 470.65 L244.69 469.41 L245.45 468.25 L246.31 467.23 L247.33 466.30 L248.52 465.41 L249.84 464.60 L251.29 463.90 L252.81 463.32 L254.47 462.88 L256.32 462.54 L258.29 462.33 L260.31 462.23 L262.30 462.25 L264.29 462.38 L266.33 462.64 L268.36 463.02 L270.34 463.51 L272.22 464.10 L274.02 464.79 L275.75 465.59 L277.41 466.49 L279.00 467.51 L280.54 468.67 L282.05 469.95 L283.50 471.34 L284.86 472.84 L286.13 474.49 L287.31 476.33 L288.41 478.40 L289.43 480.69 L290.37 483.17 L291.24 485.84 L292.03 488.66 L292.73 491.65 L293.34 494.82 L293.87 498.18 L294.34 501.67 L294.76 505.28 L295.13 509.03 L295.42 512.96 L295.66 517.00 L295.86 521.08 L296.05 525.12 L296.22 529.15 L296.36 533.22 L296.47 537.28 L296.56 541.25 L296.65 545.06 L296.73 548.92 L296.81 552.88 L296.87 556.61 L296.91 559.78 L296.95 562.04Z" fill="#858585"/><path d="M301.35 561.97 L301.31 559.71 L301.27 556.54 L301.21 552.80 L301.13 548.83 L301.05 544.96 L300.96 541.15 L300.86 537.17 L300.75 533.09 L300.62 528.98 L300.45 524.92 L300.26 520.87 L300.05 516.76 L299.81 512.67 L299.51 508.66 L299.14 504.81 L298.71 501.13 L298.23 497.54 L297.67 494.07 L297.04 490.73 L296.30 487.57 L295.45 484.56 L294.52 481.71 L293.50 479.01 L292.36 476.48 L291.11 474.12 L289.73 471.97 L288.24 470.02 L286.65 468.27 L285.00 466.69 L283.29 465.23 L281.51 463.90 L279.65 462.70 L277.72 461.66 L275.73 460.74 L273.68 459.95 L271.53 459.27 L269.29 458.72 L267.01 458.30 L264.72 458.01 L262.47 457.85 L260.22 457.83 L257.95 457.94 L255.69 458.19 L253.52 458.58 L251.47 459.13 L249.55 459.85 L247.74 460.73 L246.05 461.76 L244.51 462.91 L243.14 464.19 L241.93 465.61 L240.90 467.18 L240.04 468.83 L239.37 470.52 L238.89 472.21 L238.60 473.95 L238.49 475.75 L238.57 477.56 L238.85 479.34 L239.37 481.04 L240.16 482.64 L241.17 484.13 L242.34 485.49 L243.61 486.72 L244.96 487.81 L246.42 488.78 L248.00 489.63 L249.66 490.35 L251.36 490.92 L253.09 491.32 L254.87 491.55 L256.71 491.60 L258.53 491.41 L260.26 491.09 L261.84 490.63 L263.27 489.99 L264.53 489.18 L265.62 488.27 L266.58 487.32 L267.43 486.33 L268.19 485.23 L268.82 484.03 L269.33 482.84 L269.71 481.73 L269.98 480.80 L270.10 480.00 L270.04 479.32 L269.89 478.80 L269.72 478.43 L269.55 478.18 L269.25 478.22 L269.17 478.54 L269.18 478.93 L269.16 479.36 L269.06 479.83 L268.82 480.40 L268.41 481.18 L267.87 482.12 L267.23 483.12 L266.53 484.06 L265.77 484.87 L264.94 485.61 L264.03 486.32 L263.06 486.93 L262.05 487.43 L260.96 487.77 L259.68 488.00 L258.22 488.11 L256.67 488.11 L255.14 488.06 L253.71 487.88 L252.32 487.55 L250.91 487.08 L249.52 486.48 L248.22 485.78 L247.04 484.99 L245.93 484.10 L244.88 483.08 L243.94 482.00 L243.18 480.88 L242.63 479.76 L242.26 478.55 L242.05 477.20 L241.99 475.78 L242.08 474.35 L242.31 472.99 L242.69 471.64 L243.23 470.28 L243.91 468.95 L244.73 467.71 L245.66 466.61 L246.75 465.60 L248.01 464.66 L249.41 463.81 L250.93 463.07 L252.53 462.47 L254.28 462.00 L256.19 461.65 L258.22 461.43 L260.29 461.33 L262.33 461.35 L264.38 461.49 L266.47 461.75 L268.55 462.14 L270.59 462.64 L272.52 463.25 L274.37 463.97 L276.15 464.79 L277.87 465.72 L279.52 466.77 L281.11 467.97 L282.65 469.29 L284.14 470.71 L285.55 472.27 L286.87 473.98 L288.09 475.88 L289.22 478.01 L290.26 480.34 L291.22 482.87 L292.10 485.58 L292.90 488.43 L293.61 491.46 L294.23 494.67 L294.76 498.05 L295.23 501.56 L295.66 505.19 L296.02 508.96 L296.32 512.90 L296.56 516.95 L296.76 521.04 L296.95 525.08 L297.12 529.11 L297.26 533.20 L297.37 537.26 L297.46 541.23 L297.55 545.04 L297.63 548.90 L297.71 552.86 L297.77 556.60 L297.81 559.76 L297.85 562.03Z" fill="#666"/><path d="M300.85 561.98 L300.81 559.72 L300.77 556.55 L300.71 552.81 L300.63 548.84 L300.55 544.97 L300.46 541.16 L300.36 537.18 L300.25 533.11 L300.12 529.00 L299.95 524.94 L299.76 520.89 L299.55 516.79 L299.31 512.70 L299.01 508.70 L298.64 504.87 L298.21 501.19 L297.73 497.61 L297.18 494.15 L296.55 490.84 L295.81 487.69 L294.98 484.71 L294.05 481.88 L293.03 479.20 L291.91 476.69 L290.68 474.37 L289.32 472.25 L287.85 470.34 L286.29 468.62 L284.67 467.06 L282.98 465.62 L281.23 464.31 L279.40 463.13 L277.50 462.10 L275.54 461.20 L273.51 460.42 L271.39 459.75 L269.18 459.21 L266.93 458.79 L264.67 458.50 L262.45 458.35 L260.23 458.33 L257.99 458.44 L255.77 458.68 L253.62 459.07 L251.62 459.61 L249.75 460.31 L247.98 461.17 L246.33 462.17 L244.83 463.30 L243.50 464.54 L242.33 465.91 L241.33 467.43 L240.50 469.03 L239.85 470.68 L239.38 472.32 L239.10 474.01 L238.99 475.75 L239.06 477.51 L239.34 479.23 L239.84 480.86 L240.59 482.39 L241.56 483.82 L242.70 485.15 L243.95 486.35 L245.26 487.41 L246.67 488.35 L248.21 489.18 L249.83 489.88 L251.50 490.44 L253.18 490.83 L254.91 491.05 L256.71 491.10 L258.48 490.94 L260.18 490.65 L261.72 490.22 L263.09 489.62 L264.32 488.86 L265.40 487.99 L266.34 487.07 L267.19 486.12 L267.95 485.06 L268.59 483.90 L269.11 482.73 L269.52 481.65 L269.81 480.74 L269.94 479.97 L269.91 479.32 L269.78 478.82 L269.63 478.45 L269.50 478.18 L269.30 478.22 L269.26 478.52 L269.29 478.91 L269.29 479.35 L269.21 479.86 L268.99 480.46 L268.60 481.26 L268.08 482.23 L267.46 483.25 L266.77 484.23 L266.01 485.08 L265.18 485.85 L264.26 486.60 L263.28 487.26 L262.22 487.79 L261.08 488.18 L259.76 488.44 L258.26 488.58 L256.68 488.61 L255.10 488.56 L253.62 488.37 L252.18 488.03 L250.73 487.55 L249.30 486.93 L247.96 486.20 L246.74 485.39 L245.60 484.47 L244.51 483.43 L243.55 482.30 L242.75 481.13 L242.16 479.94 L241.78 478.67 L241.55 477.26 L241.49 475.77 L241.58 474.29 L241.82 472.88 L242.21 471.48 L242.77 470.07 L243.48 468.70 L244.33 467.41 L245.30 466.26 L246.43 465.22 L247.73 464.25 L249.17 463.37 L250.73 462.61 L252.38 461.99 L254.17 461.51 L256.12 461.16 L258.18 460.93 L260.28 460.83 L262.35 460.85 L264.42 460.99 L266.54 461.26 L268.66 461.65 L270.72 462.16 L272.69 462.78 L274.56 463.51 L276.38 464.34 L278.12 465.29 L279.80 466.36 L281.42 467.58 L282.99 468.92 L284.50 470.37 L285.93 471.95 L287.28 473.69 L288.52 475.63 L289.67 477.79 L290.72 480.15 L291.69 482.71 L292.58 485.43 L293.39 488.31 L294.10 491.36 L294.72 494.58 L295.26 497.97 L295.73 501.50 L296.16 505.13 L296.52 508.91 L296.81 512.87 L297.05 516.92 L297.26 521.01 L297.45 525.06 L297.62 529.09 L297.76 533.18 L297.87 537.25 L297.96 541.22 L298.05 545.03 L298.13 548.89 L298.21 552.85 L298.27 556.59 L298.31 559.76 L298.35 562.02Z" fill="#808080"/><path d="M299.60 562.00 C299.55 559.17 299.45 551.17 299.30 545.00 C299.15 538.83 299.02 531.67 298.70 525.00 C298.38 518.33 298.08 511.17 297.40 505.00 C296.72 498.83 295.90 493.00 294.60 488.00 C293.30 483.00 291.67 478.57 289.60 475.00 C287.53 471.43 284.95 468.83 282.20 466.60 C279.45 464.37 276.40 462.77 273.10 461.60 C269.80 460.43 265.92 459.73 262.40 459.60 C258.88 459.47 255.00 459.83 252.00 460.80 C249.00 461.77 246.30 463.43 244.40 465.40 C242.50 467.37 241.17 470.10 240.60 472.60 C240.03 475.10 240.10 478.10 241.00 480.40 C241.90 482.70 243.93 484.87 246.00 486.40 C248.07 487.93 250.83 489.13 253.40 489.60 C255.97 490.07 259.20 489.87 261.40 489.20 C263.60 488.53 265.27 487.03 266.60 485.60 C267.93 484.17 268.93 481.43 269.40 480.60" fill="none" stroke="#fff" stroke-width="1.4" stroke-dasharray="1.6 1 1.6 8.6" stroke-dashoffset="-4"/>
<path d="M335.80 552.92 L335.75 550.87 L335.69 547.96 L335.61 544.58 L335.55 541.12 L335.50 537.95 L335.46 535.23 L335.42 532.72 L335.40 530.20 L335.42 527.39 L335.50 523.99 L335.63 519.76 L335.79 514.89 L336.01 509.78 L336.30 504.80 L336.68 500.35 L337.16 496.41 L337.72 492.73 L338.36 489.27 L339.08 486.01 L339.88 482.91 L340.75 479.98 L341.69 477.25 L342.71 474.70 L343.80 472.31 L344.98 470.04 L346.22 467.92 L347.54 465.95 L348.92 464.12 L350.39 462.44 L351.93 460.88 L353.58 459.43 L355.34 458.09 L357.19 456.88 L359.06 455.81 L360.94 454.92 L362.85 454.19 L364.82 453.60 L366.80 453.16 L368.74 452.89 L370.60 452.80 L372.46 452.89 L374.37 453.15 L376.22 453.57 L377.93 454.13 L379.39 454.79 L380.67 455.61 L381.91 456.63 L383.05 457.80 L384.05 459.06 L384.85 460.29 L385.47 461.53 L385.95 462.86 L386.27 464.22 L386.43 465.53 L386.41 466.70 L386.22 467.83 L385.84 469.04 L385.30 470.25 L384.62 471.37 L383.88 472.32 L383.00 473.16 L381.90 473.98 L380.65 474.71 L379.36 475.30 L378.15 475.71 L376.92 475.94 L375.54 476.02 L374.10 475.97 L372.69 475.89 L371.50 475.76 L370.51 475.52 L369.50 475.11 L368.47 474.54 L367.46 473.88 L366.55 473.21 L365.79 472.60 L365.13 471.98 L364.58 471.34 L364.13 470.72 L363.81 470.21 L363.62 469.70 L363.54 468.96 L363.54 468.10 L363.55 467.25 L363.38 466.59 L361.82 466.21 L361.38 466.68 L360.94 467.44 L360.51 468.44 L360.20 469.66 L360.19 470.99 L360.46 472.23 L360.89 473.41 L361.47 474.57 L362.20 475.71 L363.05 476.79 L363.99 477.84 L365.09 478.93 L366.40 480.03 L367.94 481.04 L369.70 481.84 L371.56 482.40 L373.55 482.75 L375.63 482.82 L377.76 482.69 L379.85 482.29 L381.86 481.63 L383.80 480.74 L385.65 479.65 L387.38 478.36 L388.92 476.88 L390.22 475.23 L391.32 473.41 L392.20 471.46 L392.84 469.41 L393.19 467.30 L393.22 465.16 L392.97 463.02 L392.46 460.91 L391.72 458.85 L390.75 456.91 L389.56 455.08 L388.15 453.30 L386.51 451.63 L384.66 450.10 L382.61 448.81 L380.39 447.79 L378.04 447.02 L375.58 446.46 L373.09 446.12 L370.60 446.00 L368.11 446.12 L365.59 446.47 L363.10 447.02 L360.64 447.76 L358.26 448.68 L355.93 449.78 L353.64 451.07 L351.41 452.54 L349.28 454.16 L347.27 455.92 L345.40 457.81 L343.64 459.84 L342.00 462.01 L340.46 464.31 L339.02 466.76 L337.69 469.33 L336.45 472.03 L335.32 474.89 L334.27 477.90 L333.32 481.09 L332.46 484.44 L331.70 487.93 L331.02 491.60 L330.42 495.49 L329.92 499.65 L329.52 504.32 L329.22 509.43 L329.00 514.63 L328.83 519.54 L328.70 523.81 L328.62 527.28 L328.60 530.20 L328.62 532.81 L328.66 535.33 L328.70 538.05 L328.75 541.24 L328.81 544.73 L328.89 548.11 L328.96 551.02 L329.00 553.08Z" fill="#383838"/><path d="M335.05 552.94 L335.00 550.89 L334.94 547.98 L334.86 544.60 L334.80 541.14 L334.75 537.96 L334.71 535.24 L334.67 532.73 L334.65 530.20 L334.67 527.38 L334.75 523.97 L334.88 519.74 L335.04 514.86 L335.26 509.74 L335.55 504.75 L335.94 500.27 L336.42 496.31 L336.98 492.60 L337.63 489.13 L338.35 485.84 L339.15 482.71 L340.03 479.75 L340.99 476.99 L342.02 474.41 L343.13 471.98 L344.32 469.68 L345.59 467.52 L346.93 465.51 L348.34 463.65 L349.84 461.93 L351.42 460.33 L353.11 458.85 L354.91 457.48 L356.79 456.24 L358.72 455.15 L360.64 454.24 L362.60 453.48 L364.63 452.87 L366.66 452.42 L368.67 452.14 L370.60 452.05 L372.53 452.14 L374.50 452.41 L376.42 452.85 L378.20 453.43 L379.74 454.13 L381.11 455.00 L382.41 456.08 L383.61 457.31 L384.66 458.62 L385.50 459.92 L386.16 461.23 L386.67 462.64 L387.01 464.09 L387.18 465.49 L387.16 466.76 L386.95 468.00 L386.54 469.31 L385.96 470.60 L385.24 471.80 L384.44 472.82 L383.48 473.73 L382.31 474.60 L381.00 475.38 L379.63 476.00 L378.34 476.43 L377.02 476.68 L375.55 476.77 L374.03 476.72 L372.57 476.62 L371.30 476.46 L370.21 476.17 L369.13 475.70 L368.05 475.09 L367.02 474.38 L366.09 473.69 L365.30 473.03 L364.61 472.34 L364.03 471.65 L363.56 470.96 L363.22 470.34 L363.03 469.69 L362.98 468.87 L363.01 467.96 L363.03 467.12 L362.89 466.47 L362.31 466.33 L361.90 466.82 L361.47 467.57 L361.07 468.54 L360.79 469.67 L360.78 470.86 L361.03 472.00 L361.43 473.10 L361.99 474.20 L362.69 475.29 L363.51 476.31 L364.44 477.33 L365.51 478.38 L366.77 479.43 L368.25 480.39 L369.90 481.14 L371.69 481.67 L373.61 482.00 L375.62 482.07 L377.67 481.94 L379.66 481.57 L381.58 480.93 L383.45 480.07 L385.24 479.02 L386.90 477.78 L388.36 476.38 L389.61 474.80 L390.65 473.06 L391.50 471.20 L392.11 469.24 L392.44 467.24 L392.47 465.20 L392.23 463.16 L391.74 461.12 L391.03 459.15 L390.10 457.28 L388.95 455.51 L387.59 453.80 L386.01 452.18 L384.22 450.71 L382.26 449.47 L380.12 448.49 L377.84 447.74 L375.45 447.20 L373.02 446.86 L370.60 446.75 L368.18 446.87 L365.73 447.20 L363.29 447.74 L360.89 448.47 L358.56 449.36 L356.28 450.44 L354.03 451.71 L351.85 453.15 L349.75 454.74 L347.78 456.47 L345.95 458.32 L344.22 460.31 L342.61 462.44 L341.09 464.71 L339.68 467.12 L338.36 469.66 L337.14 472.33 L336.02 475.15 L334.99 478.13 L334.05 481.29 L333.19 484.61 L332.43 488.07 L331.75 491.72 L331.17 495.59 L330.66 499.73 L330.26 504.37 L329.96 509.47 L329.74 514.66 L329.58 519.57 L329.45 523.83 L329.37 527.29 L329.35 530.20 L329.37 532.80 L329.41 535.32 L329.45 538.04 L329.50 541.23 L329.56 544.71 L329.64 548.10 L329.71 551.01 L329.75 553.06Z" fill="#858585"/><path d="M334.15 552.96 L334.10 550.91 L334.04 548.00 L333.96 544.62 L333.90 541.15 L333.85 537.98 L333.81 535.25 L333.77 532.74 L333.75 530.20 L333.77 527.36 L333.85 523.95 L333.98 519.71 L334.14 514.83 L334.36 509.69 L334.65 504.68 L335.04 500.18 L335.53 496.19 L336.09 492.45 L336.74 488.95 L337.47 485.63 L338.29 482.47 L339.18 479.48 L340.14 476.68 L341.19 474.06 L342.32 471.59 L343.53 469.25 L344.82 467.04 L346.19 464.99 L347.64 463.08 L349.18 461.31 L350.80 459.67 L352.54 458.15 L354.39 456.74 L356.33 455.47 L358.30 454.35 L360.29 453.41 L362.31 452.63 L364.40 452.00 L366.50 451.54 L368.59 451.25 L370.60 451.15 L372.62 451.25 L374.66 451.53 L376.66 451.98 L378.53 452.59 L380.17 453.34 L381.64 454.27 L383.02 455.41 L384.29 456.71 L385.39 458.09 L386.28 459.47 L386.98 460.88 L387.53 462.38 L387.90 463.93 L388.07 465.44 L388.06 466.84 L387.83 468.21 L387.39 469.63 L386.76 471.02 L385.98 472.31 L385.10 473.42 L384.06 474.42 L382.81 475.35 L381.41 476.17 L379.96 476.84 L378.56 477.31 L377.13 477.58 L375.56 477.67 L373.96 477.62 L372.42 477.48 L371.06 477.26 L369.87 476.89 L368.72 476.34 L367.61 475.66 L366.57 474.89 L365.64 474.14 L364.84 473.42 L364.15 472.67 L363.57 471.91 L363.11 471.14 L362.78 470.43 L362.62 469.69 L362.62 468.81 L362.71 467.89 L362.80 467.06 L362.75 466.43 L362.45 466.37 L362.13 466.88 L361.77 467.65 L361.43 468.60 L361.20 469.67 L361.22 470.77 L361.48 471.81 L361.89 472.84 L362.45 473.87 L363.15 474.89 L363.96 475.86 L364.88 476.82 L365.95 477.82 L367.18 478.79 L368.58 479.67 L370.14 480.34 L371.84 480.81 L373.68 481.10 L375.61 481.17 L377.56 481.05 L379.44 480.69 L381.25 480.09 L383.03 479.28 L384.74 478.27 L386.32 477.10 L387.70 475.78 L388.86 474.29 L389.86 472.64 L390.66 470.87 L391.23 469.03 L391.54 467.16 L391.57 465.25 L391.34 463.31 L390.88 461.38 L390.20 459.50 L389.32 457.73 L388.22 456.04 L386.91 454.40 L385.40 452.84 L383.69 451.44 L381.83 450.26 L379.79 449.33 L377.59 448.61 L375.29 448.08 L372.94 447.76 L370.60 447.65 L368.26 447.76 L365.89 448.09 L363.51 448.61 L361.18 449.32 L358.91 450.19 L356.69 451.24 L354.50 452.48 L352.37 453.89 L350.32 455.44 L348.40 457.13 L346.61 458.94 L344.92 460.88 L343.34 462.96 L341.86 465.19 L340.47 467.55 L339.17 470.05 L337.97 472.68 L336.86 475.46 L335.84 478.41 L334.91 481.53 L334.07 484.82 L333.31 488.25 L332.64 491.87 L332.06 495.72 L331.56 499.82 L331.16 504.43 L330.86 509.52 L330.64 514.70 L330.48 519.60 L330.35 523.85 L330.27 527.30 L330.25 530.20 L330.27 532.79 L330.31 535.31 L330.35 538.02 L330.40 541.21 L330.46 544.69 L330.54 548.08 L330.60 550.99 L330.65 553.04Z" fill="#666"/><path d="M333.65 552.97 L333.60 550.92 L333.54 548.01 L333.46 544.63 L333.40 541.16 L333.35 537.98 L333.31 535.26 L333.27 532.75 L333.25 530.20 L333.27 527.35 L333.35 523.93 L333.48 519.69 L333.64 514.81 L333.86 509.67 L334.15 504.65 L334.54 500.13 L335.03 496.12 L335.60 492.37 L336.25 488.85 L336.99 485.51 L337.80 482.33 L338.70 479.32 L339.67 476.51 L340.73 473.86 L341.87 471.37 L343.09 469.00 L344.40 466.78 L345.78 464.70 L347.25 462.77 L348.81 460.97 L350.46 459.31 L352.22 457.76 L354.10 456.33 L356.06 455.04 L358.07 453.91 L360.09 452.95 L362.15 452.16 L364.27 451.52 L366.42 451.04 L368.54 450.75 L370.60 450.65 L372.66 450.75 L374.75 451.03 L376.79 451.50 L378.71 452.13 L380.41 452.90 L381.93 453.86 L383.36 455.05 L384.66 456.38 L385.79 457.80 L386.72 459.22 L387.44 460.68 L388.01 462.24 L388.39 463.84 L388.57 465.41 L388.55 466.89 L388.31 468.33 L387.85 469.81 L387.20 471.25 L386.39 472.59 L385.47 473.76 L384.39 474.80 L383.09 475.77 L381.65 476.62 L380.15 477.30 L378.69 477.79 L377.19 478.07 L375.57 478.17 L373.92 478.11 L372.34 477.96 L370.93 477.70 L369.69 477.29 L368.50 476.70 L367.37 475.97 L366.33 475.17 L365.40 474.39 L364.60 473.63 L363.90 472.85 L363.33 472.04 L362.87 471.24 L362.55 470.48 L362.41 469.69 L362.44 468.78 L362.57 467.85 L362.70 467.03 L362.70 466.42 L362.50 466.38 L362.23 466.91 L361.91 467.68 L361.60 468.63 L361.41 469.67 L361.45 470.72 L361.72 471.71 L362.14 472.71 L362.70 473.70 L363.39 474.68 L364.20 475.61 L365.13 476.54 L366.19 477.51 L367.40 478.44 L368.77 479.27 L370.27 479.90 L371.92 480.33 L373.72 480.61 L375.60 480.67 L377.50 480.55 L379.31 480.21 L381.07 479.63 L382.80 478.83 L384.47 477.85 L386.00 476.71 L387.33 475.44 L388.45 474.01 L389.41 472.41 L390.19 470.70 L390.75 468.91 L391.05 467.11 L391.07 465.28 L390.85 463.40 L390.40 461.53 L389.74 459.70 L388.88 457.98 L387.82 456.34 L386.54 454.73 L385.06 453.21 L383.40 451.84 L381.59 450.70 L379.61 449.80 L377.46 449.09 L375.20 448.57 L372.89 448.26 L370.60 448.15 L368.31 448.26 L365.97 448.58 L363.64 449.10 L361.34 449.79 L359.11 450.65 L356.92 451.69 L354.76 452.91 L352.66 454.29 L350.64 455.83 L348.74 457.49 L346.97 459.28 L345.31 461.20 L343.75 463.25 L342.28 465.45 L340.91 467.80 L339.62 470.27 L338.43 472.88 L337.33 475.63 L336.32 478.56 L335.40 481.67 L334.56 484.93 L333.80 488.35 L333.14 491.96 L332.55 495.78 L332.06 499.87 L331.66 504.47 L331.36 509.54 L331.14 514.71 L330.98 519.61 L330.85 523.87 L330.77 527.31 L330.75 530.20 L330.77 532.78 L330.81 535.30 L330.85 538.02 L330.90 541.20 L330.96 544.68 L331.04 548.06 L331.10 550.97 L331.15 553.03Z" fill="#808080"/><path d="M332.40 553.00 C332.35 550.50 332.15 542.85 332.10 538.00 C332.05 533.15 331.90 530.23 332.10 523.90 C332.30 517.57 332.55 506.98 333.30 500.00 C334.05 493.02 335.15 487.27 336.60 482.00 C338.05 476.73 339.83 472.33 342.00 468.40 C344.17 464.47 346.67 461.17 349.60 458.40 C352.53 455.63 356.10 453.30 359.60 451.80 C363.10 450.30 367.03 449.40 370.60 449.40 C374.17 449.40 378.13 450.27 381.00 451.80 C383.87 453.33 386.33 456.07 387.80 458.60 C389.27 461.13 390.03 464.33 389.80 467.00 C389.57 469.67 388.20 472.60 386.40 474.60 C384.60 476.60 381.63 478.30 379.00 479.00 C376.37 479.70 372.97 479.47 370.60 478.80 C368.23 478.13 366.23 476.37 364.80 475.00 C363.37 473.63 362.47 471.33 362.00 470.60" fill="none" stroke="#fff" stroke-width="1.4" stroke-dasharray="1.6 1 1.6 8.6" stroke-dashoffset="-4"/>
<path d="M155.5 530.3 L155.6 532.0 L155.7 534.3 L155.8 536.8 L155.9 539.5 L156.2 541.9 L156.5 543.8 L156.9 545.5 L157.4 547.2 L158.0 548.7 L158.6 550.2 L159.3 551.6 L160.0 552.9 L160.8 554.1 L161.7 555.2 L162.7 556.3 L163.8 557.4 L165.0 558.5 L166.2 559.6 L167.5 560.6 L168.8 561.7 L170.3 562.7 L171.7 563.6 L173.1 564.4 L174.3 565.1 L175.2 565.5 L176.0 565.8 L176.8 566.1 L177.6 566.3 L178.6 566.5 L179.8 566.7 L180.9 566.9 L182.0 567.1 L183.0 567.2 L183.9 567.3 L184.7 567.4 L185.7 567.3 L186.9 567.3 L188.1 567.1 L189.3 567.0 L190.5 566.7 L191.7 566.4 L193.1 565.9 L194.6 565.2 L196.4 564.2 L198.4 563.1 L200.4 561.7 L202.5 560.3 L204.6 558.9 L206.6 557.4 L208.6 555.9 L210.7 554.2 L212.7 552.5 L214.8 550.8 L217.0 549.0 L219.1 547.2 L221.3 545.4 L223.5 543.5 L225.6 541.7 L227.8 539.8 L229.9 538.0 L232.0 536.1 L234.1 534.2 L236.2 532.3 L238.3 530.4 L240.4 528.6 L242.5 527.0 L244.4 525.6 L246.2 524.4 L248.0 523.3 L249.8 522.3 L251.5 521.5 L253.3 520.8 L255.0 520.1 L256.8 519.6 L258.6 519.1 L260.5 518.9 L262.5 518.8 L264.6 518.8 L266.7 519.1 L269.0 519.4 L271.4 520.0 L273.9 520.7 L276.4 521.7 L278.8 523.0 L281.0 524.6 L282.9 526.4 L284.6 528.3 L286.0 530.2 L287.3 532.1 L288.4 533.9 L289.4 535.7 L290.3 537.6 L291.1 539.6 L291.7 541.6 L292.2 543.7 L292.7 546.0 L293.1 548.7 L293.4 551.7 L293.6 554.8 L293.7 557.6 L293.8 560.0 L293.9 561.7 L283.5 562.3 L283.4 560.6 L283.2 558.2 L283.0 555.5 L282.8 552.7 L282.5 550.1 L282.1 548.0 L281.7 546.4 L281.2 544.9 L280.7 543.6 L280.1 542.4 L279.4 541.2 L278.6 539.9 L277.7 538.5 L276.6 537.1 L275.6 535.9 L274.5 534.7 L273.5 533.9 L272.6 533.2 L271.5 532.7 L270.1 532.2 L268.5 531.8 L266.7 531.5 L265.0 531.2 L263.4 531.0 L262.2 530.8 L261.1 530.7 L260.1 530.7 L259.1 530.8 L258.0 530.9 L256.7 531.2 L255.4 531.6 L254.1 532.0 L252.7 532.5 L251.3 533.2 L249.8 534.0 L248.1 535.0 L246.4 536.2 L244.5 537.7 L242.5 539.4 L240.4 541.3 L238.2 543.2 L236.1 545.0 L234.0 546.9 L231.9 548.8 L229.7 550.7 L227.6 552.6 L225.5 554.5 L223.4 556.4 L221.4 558.2 L219.4 560.1 L217.4 562.0 L215.5 563.9 L213.4 565.7 L211.4 567.5 L209.4 569.3 L207.4 571.0 L205.3 572.7 L203.2 574.4 L201.1 575.9 L198.9 577.3 L196.8 578.4 L194.7 579.3 L192.7 580.0 L190.8 580.6 L189.0 580.9 L187.3 581.3 L185.4 581.5 L183.5 581.5 L181.8 581.5 L180.1 581.3 L178.6 581.1 L177.2 580.9 L175.9 580.6 L174.4 580.4 L172.9 580.0 L171.2 579.4 L169.5 578.8 L167.7 577.9 L165.9 576.9 L164.1 575.8 L162.2 574.6 L160.3 573.3 L158.5 571.8 L156.8 570.4 L155.2 569.0 L153.7 567.5 L152.2 565.8 L150.7 564.1 L149.3 562.1 L148.0 560.1 L146.8 557.9 L145.9 555.8 L145.0 553.5 L144.2 551.2 L143.6 548.8 L143.1 546.2 L142.7 543.3 L142.6 540.2 L142.5 537.2 L142.5 534.5 L142.5 532.2 L142.5 530.7Z" fill="#fff" stroke="none"/><path d="M155.5 530.3 L155.6 532.0 L155.7 534.3 L155.8 536.8 L155.9 539.5 L156.2 541.9 L156.5 543.8 L156.9 545.5 L157.4 547.2 L158.0 548.7 L158.6 550.2 L159.3 551.6 L160.0 552.9 L160.8 554.1 L161.7 555.2 L162.7 556.3 L163.8 557.4 L165.0 558.5 L166.2 559.6 L167.5 560.6 L168.8 561.7 L170.3 562.7 L171.7 563.6 L173.1 564.4 L174.3 565.1 L175.2 565.5 L176.0 565.8 L176.8 566.1 L177.6 566.3 L178.6 566.5 L179.8 566.7 L180.9 566.9 L182.0 567.1 L183.0 567.2 L183.9 567.3 L184.7 567.4 L185.7 567.3 L186.9 567.3 L188.1 567.1 L189.3 567.0 L190.5 566.7 L191.7 566.4 L193.1 565.9 L194.6 565.2 L196.4 564.2 L198.4 563.1 L200.4 561.7 L202.5 560.3 L204.6 558.9 L206.6 557.4 L208.6 555.9 L210.7 554.2 L212.7 552.5 L214.8 550.8 L217.0 549.0 L219.1 547.2 L221.3 545.4 L223.5 543.5 L225.6 541.7 L227.8 539.8 L229.9 538.0 L232.0 536.1 L234.1 534.2 L236.2 532.3 L238.3 530.4 L240.4 528.6 L242.5 527.0 L244.4 525.6 L246.2 524.4 L248.0 523.3 L249.8 522.3 L251.5 521.5 L253.3 520.8 L255.0 520.1 L256.8 519.6 L258.6 519.1 L260.5 518.9 L262.5 518.8 L264.6 518.8 L266.7 519.1 L269.0 519.4 L271.4 520.0 L273.9 520.7 L276.4 521.7 L278.8 523.0 L281.0 524.6 L282.9 526.4 L284.6 528.3 L286.0 530.2 L287.3 532.1 L288.4 533.9 L289.4 535.7 L290.3 537.6 L291.1 539.6 L291.7 541.6 L292.2 543.7 L292.7 546.0 L293.1 548.7 L293.4 551.7 L293.6 554.8 L293.7 557.6 L293.8 560.0 L293.9 561.7" fill="none" stroke="#1a1a1a" stroke-width="1.10" stroke-linejoin="round"/><path d="M152.2 530.4 L152.3 532.0 L152.4 534.3 L152.5 536.9 L152.6 539.7 L152.8 542.2 L153.1 544.4 L153.6 546.3 L154.1 548.2 L154.7 549.9 L155.4 551.6 L156.2 553.2 L157.0 554.7 L157.9 556.1 L158.9 557.4 L160.0 558.7 L161.2 559.9 L162.5 561.1 L163.8 562.3 L165.2 563.4 L166.7 564.6 L168.3 565.7 L169.8 566.7 L171.3 567.6 L172.6 568.3 L173.8 568.8 L174.8 569.2 L175.8 569.6 L176.8 569.8 L177.9 570.0 L179.1 570.3 L180.4 570.5 L181.5 570.7 L182.7 570.8 L183.8 570.9 L184.9 570.9 L186.1 570.8 L187.4 570.7 L188.8 570.5 L190.2 570.2 L191.5 569.9 L193.0 569.4 L194.5 568.8 L196.2 567.9 L198.1 566.8 L200.1 565.5 L202.2 564.1 L204.2 562.6 L206.3 561.0 L208.3 559.5 L210.3 557.9 L212.4 556.2 L214.4 554.4 L216.5 552.6 L218.6 550.9 L220.7 549.0 L222.9 547.2 L225.0 545.3 L227.2 543.4 L229.3 541.6 L231.5 539.7 L233.5 537.9 L235.7 536.0 L237.8 534.1 L239.9 532.2 L241.9 530.5 L243.9 529.0 L245.7 527.7 L247.5 526.6 L249.2 525.6 L250.8 524.8 L252.5 524.0 L254.1 523.4 L255.8 522.8 L257.4 522.4 L259.0 522.0 L260.7 521.8 L262.4 521.8 L264.3 521.9 L266.3 522.1 L268.4 522.4 L270.7 522.9 L272.9 523.6 L275.2 524.4 L277.3 525.5 L279.2 526.9 L280.8 528.5 L282.3 530.2 L283.7 531.9 L284.9 533.7 L286.0 535.4 L286.9 537.1 L287.7 538.8 L288.5 540.6 L289.1 542.4 L289.6 544.3 L290.1 546.5 L290.4 549.0 L290.7 552.0 L290.9 555.0 L291.1 557.8 L291.2 560.2 L291.3 561.8" fill="none" stroke="#1a1a1a" stroke-width="1.10" stroke-linejoin="round"/><path d="M145.8 530.6 L145.8 532.2 L145.8 534.4 L145.8 537.1 L145.9 540.0 L146.1 542.9 L146.5 545.6 L146.9 547.9 L147.5 550.2 L148.2 552.3 L149.0 554.4 L150.0 556.4 L151.0 558.3 L152.2 560.1 L153.4 561.8 L154.8 563.4 L156.2 564.9 L157.7 566.3 L159.2 567.7 L160.8 569.0 L162.5 570.4 L164.2 571.6 L166.0 572.8 L167.7 573.8 L169.4 574.7 L170.9 575.5 L172.4 576.0 L173.9 576.5 L175.2 576.8 L176.6 577.1 L177.9 577.3 L179.2 577.6 L180.6 577.8 L182.1 577.9 L183.6 578.0 L185.2 577.9 L186.9 577.8 L188.5 577.5 L190.1 577.2 L191.8 576.8 L193.6 576.2 L195.5 575.4 L197.5 574.4 L199.5 573.2 L201.5 571.8 L203.6 570.3 L205.6 568.7 L207.7 567.0 L209.7 565.4 L211.7 563.7 L213.7 561.9 L215.7 560.1 L217.8 558.2 L219.8 556.4 L221.8 554.5 L223.9 552.7 L226.0 550.8 L228.2 548.9 L230.3 547.0 L232.4 545.1 L234.5 543.3 L236.7 541.4 L238.8 539.5 L240.9 537.6 L243.0 535.9 L244.9 534.3 L246.7 533.0 L248.4 531.9 L250.0 531.0 L251.5 530.2 L253.0 529.6 L254.4 529.1 L255.9 528.6 L257.3 528.2 L258.5 528.0 L259.8 527.8 L261.0 527.8 L262.3 527.8 L263.7 527.9 L265.4 528.2 L267.3 528.5 L269.2 528.8 L271.0 529.3 L272.7 530.0 L274.1 530.7 L275.4 531.5 L276.6 532.7 L277.8 534.0 L279.0 535.4 L280.1 536.9 L281.0 538.4 L281.9 539.8 L282.6 541.2 L283.3 542.6 L283.8 544.1 L284.3 545.7 L284.7 547.5 L285.1 549.7 L285.4 552.4 L285.7 555.3 L285.8 558.1 L286.0 560.5 L286.1 562.2" fill="none" stroke="#1a1a1a" stroke-width="1.10" stroke-linejoin="round"/><path d="M142.5 530.7 L142.5 532.2 L142.5 534.5 L142.5 537.2 L142.6 540.2 L142.7 543.3 L143.1 546.2 L143.6 548.8 L144.2 551.2 L145.0 553.5 L145.9 555.8 L146.8 557.9 L148.0 560.1 L149.3 562.1 L150.7 564.1 L152.2 565.8 L153.7 567.5 L155.2 569.0 L156.8 570.4 L158.5 571.8 L160.3 573.3 L162.2 574.6 L164.1 575.8 L165.9 576.9 L167.7 577.9 L169.5 578.8 L171.2 579.4 L172.9 580.0 L174.4 580.4 L175.9 580.6 L177.2 580.9 L178.6 581.1 L180.1 581.3 L181.8 581.5 L183.5 581.5 L185.4 581.5 L187.3 581.3 L189.0 580.9 L190.8 580.6 L192.7 580.0 L194.7 579.3 L196.8 578.4 L198.9 577.3 L201.1 575.9 L203.2 574.4 L205.3 572.7 L207.4 571.0 L209.4 569.3 L211.4 567.5 L213.4 565.7 L215.5 563.9 L217.4 562.0 L219.4 560.1 L221.4 558.2 L223.4 556.4 L225.5 554.5 L227.6 552.6 L229.7 550.7 L231.9 548.8 L234.0 546.9 L236.1 545.0 L238.2 543.2 L240.4 541.3 L242.5 539.4 L244.5 537.7 L246.4 536.2 L248.1 535.0 L249.8 534.0 L251.3 533.2 L252.7 532.5 L254.1 532.0 L255.4 531.6 L256.7 531.2 L258.0 530.9 L259.1 530.8 L260.1 530.7 L261.1 530.7 L262.2 530.8 L263.4 531.0 L265.0 531.2 L266.7 531.5 L268.5 531.8 L270.1 532.2 L271.5 532.7 L272.6 533.2 L273.5 533.9 L274.5 534.7 L275.6 535.9 L276.6 537.1 L277.7 538.5 L278.6 539.9 L279.4 541.2 L280.1 542.4 L280.7 543.6 L281.2 544.9 L281.7 546.4 L282.1 548.0 L282.5 550.1 L282.8 552.7 L283.0 555.5 L283.2 558.2 L283.4 560.6 L283.5 562.3" fill="none" stroke="#1a1a1a" stroke-width="1.10" stroke-linejoin="round"/><path d="M149.0 530.5 L149.0 532.1 L149.1 534.4 L149.1 537.0 L149.3 539.9 L149.5 542.6 L149.8 545.0 L150.3 547.1 L150.8 549.2 L151.5 551.1 L152.2 553.0 L153.1 554.8 L154.0 556.5 L155.0 558.1 L156.2 559.6 L157.4 561.1 L158.7 562.4 L160.1 563.7 L161.5 565.0 L163.0 566.2 L164.6 567.5 L166.2 568.6 L167.9 569.7 L169.5 570.7 L171.0 571.5 L172.4 572.1 L173.6 572.6 L174.8 573.0 L176.0 573.3 L177.2 573.6 L178.5 573.8 L179.8 574.0 L181.1 574.2 L182.4 574.4 L183.7 574.4 L185.1 574.4 L186.5 574.3 L188.0 574.1 L189.5 573.8 L191.0 573.5 L192.6 573.0 L194.3 572.4 L196.0 571.6 L197.9 570.6 L199.8 569.3 L201.8 567.9 L203.9 566.4 L206.0 564.8 L208.0 563.2 L210.0 561.6 L212.0 559.9 L214.1 558.1 L216.1 556.3 L218.1 554.5 L220.2 552.7 L222.3 550.9 L224.4 549.0 L226.6 547.1 L228.7 545.2 L230.9 543.3 L233.0 541.5 L235.1 539.6 L237.2 537.7 L239.3 535.9 L241.4 534.1 L243.4 532.4 L245.3 531.0 L247.1 529.8 L248.8 528.8 L250.4 527.9 L251.9 527.2 L253.5 526.5 L255.0 526.0 L256.5 525.5 L258.0 525.2 L259.4 524.9 L260.8 524.8 L262.4 524.8 L264.0 524.9 L265.8 525.1 L267.8 525.4 L269.9 525.9 L272.0 526.5 L273.9 527.2 L275.7 528.1 L277.3 529.2 L278.7 530.6 L280.1 532.1 L281.3 533.7 L282.5 535.3 L283.5 536.9 L284.4 538.5 L285.2 540.0 L285.9 541.6 L286.4 543.2 L286.9 545.0 L287.4 547.0 L287.8 549.4 L288.1 552.2 L288.3 555.1 L288.5 557.9 L288.6 560.3 L288.7 562.0" fill="none" stroke="#1a1a1a" stroke-width="0.80" stroke-dasharray="5 1.6 1.2 1.6"/>
<path d="M342.3 551.0 L342.3 549.5 L342.2 547.4 L342.2 544.8 L342.2 542.0 L342.4 539.1 L342.6 536.5 L343.0 534.1 L343.5 531.8 L344.1 529.4 L344.8 527.1 L345.6 524.8 L346.7 522.6 L347.9 520.5 L349.2 518.6 L350.7 516.7 L352.3 514.9 L354.0 513.4 L355.9 512.0 L357.9 510.8 L359.9 509.8 L362.1 509.1 L364.2 508.5 L366.4 508.1 L368.6 507.9 L370.8 507.9 L373.0 508.0 L375.3 508.2 L377.6 508.7 L379.8 509.3 L382.1 510.2 L384.5 511.4 L386.7 512.8 L388.9 514.2 L390.9 515.7 L392.7 517.1 L394.4 518.3 L396.0 519.4 L397.4 520.4 L398.8 521.4 L400.2 522.4 L401.6 523.5 L403.1 524.7 L404.7 525.9 L406.4 527.3 L408.1 528.7 L409.9 530.2 L411.7 531.7 L413.5 533.3 L415.3 535.0 L417.0 536.8 L418.6 538.5 L420.2 540.1 L421.8 541.7 L423.6 543.2 L425.5 544.7 L427.6 546.2 L429.7 547.6 L431.8 549.0 L434.0 550.2 L436.0 551.3 L438.2 552.2 L440.7 553.1 L443.3 553.9 L445.8 554.7 L448.0 555.2 L449.7 555.6 L450.7 555.8 L450.9 555.8 L450.7 555.9 L451.0 555.9 L452.0 555.6 L453.6 555.4 L455.3 555.0 L457.1 554.7 L459.0 554.3 L460.9 553.8 L462.6 553.3 L464.1 552.7 L465.4 552.1 L466.6 551.5 L467.8 550.8 L468.9 550.1 L469.9 549.3 L471.1 548.3 L472.2 547.3 L473.3 546.2 L474.4 545.0 L475.4 543.8 L476.3 542.6 L477.1 541.3 L477.8 540.0 L478.5 538.6 L479.1 537.3 L479.6 535.9 L480.1 534.4 L480.5 532.8 L480.7 530.9 L481.0 528.4 L481.1 525.6 L481.2 522.8 L481.3 520.4 L481.4 518.6 L496.4 519.4 L496.3 521.1 L496.2 523.4 L496.1 526.4 L495.8 529.6 L495.5 532.8 L494.9 535.8 L494.2 538.4 L493.4 540.8 L492.5 543.1 L491.4 545.2 L490.3 547.2 L489.1 549.1 L487.8 551.0 L486.3 552.8 L484.7 554.5 L483.1 556.1 L481.5 557.5 L479.9 558.9 L478.3 560.1 L476.7 561.3 L474.9 562.4 L473.1 563.5 L471.3 564.4 L469.3 565.3 L467.1 566.1 L464.8 566.9 L462.5 567.6 L460.2 568.2 L458.2 568.7 L456.4 569.0 L455.3 569.4 L454.3 569.7 L452.7 570.1 L450.6 570.2 L448.5 570.1 L446.3 569.6 L443.9 568.9 L441.3 567.9 L438.5 566.7 L435.6 565.4 L432.7 563.9 L430.0 562.3 L427.4 560.6 L425.0 558.8 L422.7 556.9 L420.5 555.0 L418.4 553.1 L416.4 551.2 L414.5 549.3 L412.7 547.4 L411.0 545.6 L409.4 543.8 L408.0 542.2 L406.5 540.7 L404.9 539.2 L403.3 537.8 L401.7 536.3 L400.1 534.9 L398.5 533.6 L396.9 532.3 L395.5 531.1 L394.2 530.1 L393.0 529.1 L391.7 528.1 L390.3 527.1 L388.8 525.9 L387.0 524.5 L385.2 523.0 L383.4 521.5 L381.6 520.2 L380.0 519.0 L378.5 518.2 L376.9 517.5 L375.3 517.0 L373.7 516.5 L372.1 516.3 L370.5 516.1 L369.0 516.1 L367.5 516.2 L366.0 516.5 L364.5 516.9 L363.2 517.4 L361.9 518.1 L360.7 518.8 L359.6 519.8 L358.5 520.9 L357.4 522.2 L356.4 523.6 L355.5 525.1 L354.7 526.6 L354.2 528.1 L353.7 529.8 L353.3 531.6 L353.0 533.5 L352.8 535.5 L352.6 537.5 L352.4 539.7 L352.4 542.2 L352.4 544.7 L352.5 547.2 L352.5 549.4 L352.5 551.0Z" fill="#fff" stroke="none"/><path d="M342.3 551.0 L342.3 549.5 L342.2 547.4 L342.2 544.8 L342.2 542.0 L342.4 539.1 L342.6 536.5 L343.0 534.1 L343.5 531.8 L344.1 529.4 L344.8 527.1 L345.6 524.8 L346.7 522.6 L347.9 520.5 L349.2 518.6 L350.7 516.7 L352.3 514.9 L354.0 513.4 L355.9 512.0 L357.9 510.8 L359.9 509.8 L362.1 509.1 L364.2 508.5 L366.4 508.1 L368.6 507.9 L370.8 507.9 L373.0 508.0 L375.3 508.2 L377.6 508.7 L379.8 509.3 L382.1 510.2 L384.5 511.4 L386.7 512.8 L388.9 514.2 L390.9 515.7 L392.7 517.1 L394.4 518.3 L396.0 519.4 L397.4 520.4 L398.8 521.4 L400.2 522.4 L401.6 523.5 L403.1 524.7 L404.7 525.9 L406.4 527.3 L408.1 528.7 L409.9 530.2 L411.7 531.7 L413.5 533.3 L415.3 535.0 L417.0 536.8 L418.6 538.5 L420.2 540.1 L421.8 541.7 L423.6 543.2 L425.5 544.7 L427.6 546.2 L429.7 547.6 L431.8 549.0 L434.0 550.2 L436.0 551.3 L438.2 552.2 L440.7 553.1 L443.3 553.9 L445.8 554.7 L448.0 555.2 L449.7 555.6 L450.7 555.8 L450.9 555.8 L450.7 555.9 L451.0 555.9 L452.0 555.6 L453.6 555.4 L455.3 555.0 L457.1 554.7 L459.0 554.3 L460.9 553.8 L462.6 553.3 L464.1 552.7 L465.4 552.1 L466.6 551.5 L467.8 550.8 L468.9 550.1 L469.9 549.3 L471.1 548.3 L472.2 547.3 L473.3 546.2 L474.4 545.0 L475.4 543.8 L476.3 542.6 L477.1 541.3 L477.8 540.0 L478.5 538.6 L479.1 537.3 L479.6 535.9 L480.1 534.4 L480.5 532.8 L480.7 530.9 L481.0 528.4 L481.1 525.6 L481.2 522.8 L481.3 520.4 L481.4 518.6" fill="none" stroke="#1a1a1a" stroke-width="1.10" stroke-linejoin="round"/><path d="M344.8 551.0 L344.8 549.5 L344.8 547.4 L344.8 544.8 L344.8 542.0 L344.9 539.3 L345.1 536.7 L345.5 534.4 L345.9 532.2 L346.4 530.0 L347.0 527.8 L347.8 525.6 L348.7 523.6 L349.8 521.7 L351.0 519.8 L352.4 518.1 L353.8 516.4 L355.4 515.0 L357.1 513.7 L358.9 512.6 L360.7 511.7 L362.7 511.0 L364.7 510.5 L366.7 510.1 L368.7 510.0 L370.7 509.9 L372.8 510.0 L374.9 510.3 L377.0 510.8 L379.1 511.4 L381.2 512.2 L383.3 513.3 L385.5 514.6 L387.5 516.1 L389.5 517.5 L391.3 519.0 L393.0 520.2 L394.6 521.3 L396.0 522.4 L397.3 523.3 L398.7 524.4 L400.1 525.4 L401.5 526.6 L403.1 527.9 L404.8 529.2 L406.5 530.6 L408.2 532.1 L410.0 533.6 L411.8 535.2 L413.5 536.8 L415.1 538.5 L416.7 540.3 L418.3 542.0 L420.0 543.6 L421.8 545.2 L423.7 546.8 L425.8 548.4 L427.9 550.0 L430.1 551.5 L432.3 552.8 L434.5 554.0 L436.9 555.1 L439.4 556.2 L442.1 557.1 L444.6 558.0 L447.0 558.6 L448.9 559.1 L450.1 559.4 L450.8 559.4 L451.2 559.4 L451.8 559.3 L452.8 559.1 L454.3 558.8 L456.0 558.4 L457.9 558.1 L459.9 557.6 L461.9 557.1 L463.8 556.5 L465.4 555.9 L466.9 555.2 L468.3 554.5 L469.6 553.7 L470.8 552.9 L472.0 552.0 L473.3 551.0 L474.5 549.8 L475.8 548.6 L477.0 547.4 L478.1 546.0 L479.2 544.7 L480.1 543.3 L481.0 541.8 L481.8 540.3 L482.5 538.7 L483.1 537.1 L483.6 535.4 L484.1 533.6 L484.4 531.3 L484.7 528.7 L484.8 525.8 L485.0 523.0 L485.0 520.5 L485.1 518.8" fill="none" stroke="#1a1a1a" stroke-width="1.10" stroke-linejoin="round"/><path d="M350.0 551.0 L350.0 549.4 L349.9 547.3 L349.9 544.8 L349.9 542.1 L349.9 539.5 L350.1 537.3 L350.3 535.2 L350.6 533.1 L351.0 531.0 L351.5 529.1 L352.0 527.3 L352.7 525.6 L353.6 523.9 L354.6 522.3 L355.7 520.8 L356.9 519.4 L358.2 518.2 L359.5 517.1 L360.9 516.3 L362.4 515.5 L363.9 514.9 L365.6 514.5 L367.2 514.2 L368.9 514.0 L370.6 514.0 L372.3 514.2 L374.1 514.5 L375.9 514.9 L377.7 515.5 L379.4 516.2 L381.1 517.1 L382.9 518.3 L384.8 519.7 L386.6 521.2 L388.5 522.6 L390.2 524.0 L391.7 525.1 L393.1 526.2 L394.4 527.2 L395.7 528.2 L397.0 529.2 L398.5 530.4 L400.0 531.7 L401.6 533.0 L403.3 534.4 L405.0 535.9 L406.6 537.3 L408.2 538.8 L409.8 540.4 L411.3 542.1 L412.9 543.8 L414.6 545.6 L416.3 547.4 L418.2 549.2 L420.2 551.0 L422.3 552.8 L424.4 554.6 L426.7 556.4 L429.0 558.0 L431.5 559.6 L434.1 561.0 L436.9 562.3 L439.7 563.5 L442.4 564.6 L444.9 565.4 L447.1 566.1 L449.0 566.5 L450.7 566.6 L452.2 566.5 L453.4 566.2 L454.5 565.9 L455.7 565.6 L457.4 565.3 L459.4 564.8 L461.6 564.2 L463.8 563.6 L466.0 562.9 L468.0 562.1 L469.8 561.3 L471.5 560.5 L473.1 559.5 L474.7 558.5 L476.2 557.4 L477.7 556.2 L479.2 555.0 L480.7 553.6 L482.1 552.1 L483.6 550.6 L484.9 548.9 L486.1 547.1 L487.2 545.4 L488.2 543.5 L489.1 541.6 L490.0 539.6 L490.7 537.4 L491.3 535.0 L491.8 532.3 L492.1 529.3 L492.3 526.2 L492.5 523.3 L492.6 520.9 L492.7 519.2" fill="none" stroke="#1a1a1a" stroke-width="1.10" stroke-linejoin="round"/><path d="M352.5 551.0 L352.5 549.4 L352.5 547.2 L352.4 544.7 L352.4 542.2 L352.4 539.7 L352.6 537.5 L352.8 535.5 L353.0 533.5 L353.3 531.6 L353.7 529.8 L354.2 528.1 L354.7 526.6 L355.5 525.1 L356.4 523.6 L357.4 522.2 L358.5 520.9 L359.6 519.8 L360.7 518.8 L361.9 518.1 L363.2 517.4 L364.5 516.9 L366.0 516.5 L367.5 516.2 L369.0 516.1 L370.5 516.1 L372.1 516.3 L373.7 516.5 L375.3 517.0 L376.9 517.5 L378.5 518.2 L380.0 519.0 L381.6 520.2 L383.4 521.5 L385.2 523.0 L387.0 524.5 L388.8 525.9 L390.3 527.1 L391.7 528.1 L393.0 529.1 L394.2 530.1 L395.5 531.1 L396.9 532.3 L398.5 533.6 L400.1 534.9 L401.7 536.3 L403.3 537.8 L404.9 539.2 L406.5 540.7 L408.0 542.2 L409.4 543.8 L411.0 545.6 L412.7 547.4 L414.5 549.3 L416.4 551.2 L418.4 553.1 L420.5 555.0 L422.7 556.9 L425.0 558.8 L427.4 560.6 L430.0 562.3 L432.7 563.9 L435.6 565.4 L438.5 566.7 L441.3 567.9 L443.9 568.9 L446.3 569.6 L448.5 570.1 L450.6 570.2 L452.7 570.1 L454.3 569.7 L455.3 569.4 L456.4 569.0 L458.2 568.7 L460.2 568.2 L462.5 567.6 L464.8 566.9 L467.1 566.1 L469.3 565.3 L471.3 564.4 L473.1 563.5 L474.9 562.4 L476.7 561.3 L478.3 560.1 L479.9 558.9 L481.5 557.5 L483.1 556.1 L484.7 554.5 L486.3 552.8 L487.8 551.0 L489.1 549.1 L490.3 547.2 L491.4 545.2 L492.5 543.1 L493.4 540.8 L494.2 538.4 L494.9 535.8 L495.5 532.8 L495.8 529.6 L496.1 526.4 L496.2 523.4 L496.3 521.1 L496.4 519.4" fill="none" stroke="#1a1a1a" stroke-width="1.10" stroke-linejoin="round"/><path d="M347.4 551.0 L347.4 549.5 L347.3 547.3 L347.3 544.8 L347.3 542.1 L347.4 539.4 L347.6 537.0 L347.9 534.8 L348.3 532.6 L348.7 530.5 L349.2 528.4 L349.9 526.5 L350.7 524.6 L351.7 522.8 L352.8 521.1 L354.0 519.4 L355.4 517.9 L356.8 516.6 L358.3 515.4 L359.9 514.4 L361.5 513.6 L363.3 513.0 L365.1 512.5 L367.0 512.2 L368.8 512.0 L370.7 512.0 L372.6 512.1 L374.5 512.4 L376.4 512.8 L378.4 513.4 L380.3 514.2 L382.2 515.2 L384.2 516.5 L386.1 517.9 L388.1 519.4 L389.9 520.8 L391.6 522.1 L393.1 523.2 L394.6 524.3 L395.9 525.3 L397.2 526.3 L398.5 527.3 L400.0 528.5 L401.6 529.8 L403.2 531.1 L404.9 532.5 L406.6 534.0 L408.3 535.5 L410.0 537.0 L411.6 538.6 L413.2 540.3 L414.8 542.0 L416.4 543.8 L418.2 545.5 L420.0 547.2 L422.0 548.9 L424.0 550.6 L426.2 552.3 L428.4 553.9 L430.7 555.4 L433.0 556.8 L435.5 558.1 L438.1 559.2 L440.9 560.3 L443.5 561.3 L445.9 562.0 L448.0 562.6 L449.6 562.9 L450.8 563.0 L451.7 563.0 L452.6 562.8 L453.7 562.5 L455.0 562.2 L456.7 561.9 L458.7 561.4 L460.7 560.9 L462.8 560.3 L464.9 559.7 L466.7 559.0 L468.3 558.3 L469.9 557.5 L471.4 556.6 L472.8 555.7 L474.1 554.7 L475.5 553.6 L476.9 552.4 L478.2 551.1 L479.6 549.7 L480.8 548.3 L482.0 546.8 L483.1 545.2 L484.1 543.6 L485.0 541.9 L485.8 540.2 L486.5 538.4 L487.2 536.4 L487.7 534.3 L488.1 531.8 L488.4 529.0 L488.6 526.0 L488.7 523.1 L488.8 520.7 L488.9 519.0" fill="none" stroke="#1a1a1a" stroke-width="0.80" stroke-dasharray="5 1.6 1.2 1.6"/>
<g fill="none" stroke="#1a1a1a" stroke-width="1.0" stroke-linecap="round" stroke-linejoin="round"><path d="M305.4 415.6 L303.0 419.4 L299.4 425.0 L296.4 431.6 L295.2 437.6 L295.6 446.0 L297.6 456.0 L300.2 466.0 L302.6 478.0 L304.6 492.0 L305.8 510.0 L306.6 532.3 L306.9 561.0 L321.5 561.0 L321.8 532.3 L322.6 510.0 L323.8 492.0 L325.8 478.0 L328.2 466.0 L330.8 456.0 L332.8 446.0 L333.2 437.6 L332.0 431.6 L329.0 425.0 L325.4 419.4 L323.0 415.6 Z" fill="#fff" stroke="none"/><path d="M305.40 415.60 C305.00 416.23 304.00 417.83 303.00 419.40 C302.00 420.97 300.50 422.97 299.40 425.00 C298.30 427.03 297.10 429.50 296.40 431.60 C295.70 433.70 295.33 435.20 295.20 437.60 C295.07 440.00 295.20 442.93 295.60 446.00 C296.00 449.07 296.83 452.67 297.60 456.00 C298.37 459.33 299.37 462.33 300.20 466.00 C301.03 469.67 301.87 473.67 302.60 478.00 C303.33 482.33 304.07 486.67 304.60 492.00 C305.13 497.33 305.47 503.28 305.80 510.00 C306.13 516.72 306.42 523.80 306.60 532.30 C306.78 540.80 306.85 556.22 306.90 561.00" stroke-width="1.05"/><path d="M323.00 415.60 C323.40 416.23 324.40 417.83 325.40 419.40 C326.40 420.97 327.90 422.97 329.00 425.00 C330.10 427.03 331.30 429.50 332.00 431.60 C332.70 433.70 333.07 435.20 333.20 437.60 C333.33 440.00 333.20 442.93 332.80 446.00 C332.40 449.07 331.57 452.67 330.80 456.00 C330.03 459.33 329.03 462.33 328.20 466.00 C327.37 469.67 326.53 473.67 325.80 478.00 C325.07 482.33 324.33 486.67 323.80 492.00 C323.27 497.33 322.93 503.28 322.60 510.00 C322.27 516.72 321.98 523.80 321.80 532.30 C321.62 540.80 321.55 556.22 321.50 561.00" stroke-width="1.05"/><path d="M308.04 415.60 C307.76 416.23 307.06 417.83 306.36 419.40 C305.66 420.97 304.61 422.97 303.84 425.00 C303.07 427.03 302.23 429.50 301.74 431.60 C301.25 433.70 300.99 435.20 300.90 437.60 C300.81 440.00 300.90 442.93 301.18 446.00 C301.46 449.07 302.04 452.67 302.58 456.00 C303.12 459.33 303.82 462.33 304.40 466.00 C304.98 469.67 305.57 473.67 306.08 478.00 C306.59 482.33 307.11 486.67 307.48 492.00 C307.85 497.33 308.09 503.28 308.32 510.00 C308.55 516.72 308.75 523.80 308.88 532.30 C309.01 540.80 309.05 556.22 309.09 561.00" stroke-width="0.95"/><path d="M320.36 415.60 C320.64 416.23 321.34 417.83 322.04 419.40 C322.74 420.97 323.79 422.97 324.56 425.00 C325.33 427.03 326.17 429.50 326.66 431.60 C327.15 433.70 327.41 435.20 327.50 437.60 C327.59 440.00 327.50 442.93 327.22 446.00 C326.94 449.07 326.36 452.67 325.82 456.00 C325.28 459.33 324.58 462.33 324.00 466.00 C323.42 469.67 322.83 473.67 322.32 478.00 C321.81 482.33 321.29 486.67 320.92 492.00 C320.55 497.33 320.31 503.28 320.08 510.00 C319.85 516.72 319.65 523.80 319.52 532.30 C319.39 540.80 319.35 556.22 319.31 561.00" stroke-width="0.95"/><path d="M310.68 415.60 C310.52 416.23 310.12 417.83 309.72 419.40 C309.32 420.97 308.72 422.97 308.28 425.00 C307.84 427.03 307.36 429.50 307.08 431.60 C306.80 433.70 306.65 435.20 306.60 437.60 C306.55 440.00 306.60 442.93 306.76 446.00 C306.92 449.07 307.25 452.67 307.56 456.00 C307.87 459.33 308.27 462.33 308.60 466.00 C308.93 469.67 309.27 473.67 309.56 478.00 C309.85 482.33 310.15 486.67 310.36 492.00 C310.57 497.33 310.71 503.28 310.84 510.00 C310.97 516.72 311.09 523.80 311.16 532.30 C311.23 540.80 311.26 556.22 311.28 561.00" stroke-width="0.95"/><path d="M317.72 415.60 C317.88 416.23 318.28 417.83 318.68 419.40 C319.08 420.97 319.68 422.97 320.12 425.00 C320.56 427.03 321.04 429.50 321.32 431.60 C321.60 433.70 321.75 435.20 321.80 437.60 C321.85 440.00 321.80 442.93 321.64 446.00 C321.48 449.07 321.15 452.67 320.84 456.00 C320.53 459.33 320.13 462.33 319.80 466.00 C319.47 469.67 319.13 473.67 318.84 478.00 C318.55 482.33 318.25 486.67 318.04 492.00 C317.83 497.33 317.69 503.28 317.56 510.00 C317.43 516.72 317.31 523.80 317.24 532.30 C317.17 540.80 317.14 556.22 317.12 561.00" stroke-width="0.95"/><path d="M314.2 416 V561" stroke-width="2.4" stroke="#333" stroke-linecap="butt"/><path d="M314.2 416 V561" stroke-width="0.9" stroke="#fff" stroke-dasharray="6 2.2" stroke-linecap="butt"/><path d="M303.7 413.2 Q314.2 411.2 324.7 413.2 L324.2 415.6 Q314.2 413.9 304.2 415.6 Z" fill="#1a1a1a" stroke-width="0.8"/><rect x="306.3" y="561" width="15.8" height="2.2" fill="#1a1a1a"/><rect x="307.6" y="567.2" width="13.2" height="2.6" fill="#555"/></g>
<g fill="none" stroke="#1a1a1a" stroke-width="1.0" stroke-linecap="round" stroke-linejoin="round"><rect x="283.4" y="561.6" width="10.9" height="9.2" fill="#fff" stroke-width="1.0"/><rect x="295.1" y="563.4" width="8.4" height="7.4" fill="#fff" stroke-width="1.0"/><rect x="327.8" y="552.6" width="8.4" height="6.6" fill="#fff" stroke-width="1.0"/><rect x="341.6" y="550.0" width="11.4" height="9.2" fill="#fff" stroke-width="1.0"/><rect x="297" y="567.4" width="4.8" height="2.4" fill="#444" stroke-width="0.6"/><rect x="329.6" y="559.6" width="4.8" height="7" rx="0.8" fill="#fff" stroke-width="1.0"/><rect x="344.7" y="561.8" width="4.8" height="6.6" rx="0.8" fill="#fff" stroke-width="1.0"/><path d="M281.7 570.9 H346.5" stroke-width="1.8"/><rect x="307.9" y="573.6" width="10.6" height="3.8" rx="1.9" stroke-width="0.8" fill="#fff"/><path d="M311.0 574.4 v2.2 M315.4 574.4 v2.2" stroke-width="0.6"/><rect x="325.9" y="573.6" width="10.6" height="3.8" rx="1.9" stroke-width="0.8" fill="#fff"/><path d="M329.0 574.4 v2.2 M333.4 574.4 v2.2" stroke-width="0.6"/><rect x="341.5" y="573.6" width="10.6" height="3.8" rx="1.9" stroke-width="0.8" fill="#fff"/><path d="M344.6 574.4 v2.2 M349.0 574.4 v2.2" stroke-width="0.6"/></g>
<!-- 11_cups -->
<g fill="none" stroke="#1a1a1a" stroke-width="0.90" stroke-linejoin="round" stroke-linecap="round"><path d="M278.3 388.3 L281.9 387.0 L287.6 386.4 L292.6 387.7 L296.9 389.7 L299.7 390.6 L303.3 389.9 L309.0 387.7 L314.0 386.9 L319.0 387.7 L324.7 389.9 L328.3 390.6 L331.1 389.7 L335.4 387.7 L340.4 386.4 L346.1 387.0 L349.7 388.3 L349.0 388.8 L346.1 392.6 L341.8 398.1 L337.6 402.4 L332.6 406.1 L327.6 408.5 L322.6 409.7 L314.0 410.0 L305.4 409.7 L300.4 408.5 L295.4 406.1 L290.4 402.4 L286.2 398.1 L281.9 392.6 L279.0 388.8Z" fill="#fff" stroke="none"/><path d="M278.30 388.30 C278.89 388.08 280.32 387.32 281.87 387.00 C283.42 386.68 285.80 386.28 287.58 386.40 C289.37 386.52 291.03 387.15 292.58 387.70 C294.13 388.25 295.67 389.22 296.86 389.70 C298.05 390.18 298.65 390.57 299.72 390.60 C300.79 390.63 301.74 390.38 303.29 389.90 C304.84 389.42 307.22 388.20 309.00 387.70 C310.79 387.20 312.33 386.90 314.00 386.90 C315.67 386.90 317.21 387.20 319.00 387.70 C320.78 388.20 323.16 389.42 324.71 389.90 C326.26 390.38 327.21 390.63 328.28 390.60 C329.35 390.57 329.95 390.18 331.14 389.70 C332.33 389.22 333.87 388.25 335.42 387.70 C336.97 387.15 338.63 386.52 340.42 386.40 C342.20 386.28 344.58 386.68 346.13 387.00 C347.68 387.32 349.11 388.08 349.70 388.30" stroke-width="1.20"/><path d="M278.30 388.30 C278.89 388.52 280.32 389.22 281.87 389.60 C283.42 389.98 285.56 390.32 287.58 390.60 C289.61 390.88 291.98 391.13 294.01 391.30 C296.03 391.47 297.94 391.57 299.72 391.60 C301.51 391.63 303.05 391.60 304.72 391.50 C306.38 391.40 308.17 391.12 309.72 391.00 C311.26 390.88 312.57 390.80 314.00 390.80 C315.43 390.80 316.74 390.88 318.28 391.00 C319.83 391.12 321.62 391.40 323.28 391.50 C324.95 391.60 326.49 391.63 328.28 391.60 C330.06 391.57 331.97 391.47 333.99 391.30 C336.02 391.13 338.39 390.88 340.42 390.60 C342.44 390.32 344.58 389.98 346.13 389.60 C347.68 389.22 349.11 388.52 349.70 388.30"/><path d="M279.01 388.80 C279.49 389.44 280.68 391.10 281.87 392.64 C283.06 394.18 284.73 396.44 286.15 398.06 C287.58 399.69 288.89 401.07 290.44 402.41 C291.99 403.74 293.77 405.08 295.44 406.09 C297.10 407.11 298.77 407.88 300.43 408.48 C302.10 409.08 303.17 409.42 305.43 409.67 C307.69 409.93 311.14 410.00 314.00 410.00 C316.86 410.00 320.31 409.93 322.57 409.67 C324.83 409.42 325.90 409.08 327.57 408.48 C329.23 407.88 330.90 407.11 332.56 406.09 C334.23 405.08 336.01 403.74 337.56 402.41 C339.11 401.07 340.42 399.69 341.85 398.06 C343.27 396.44 344.94 394.18 346.13 392.64 C347.32 391.10 348.51 389.44 348.99 388.80" stroke-width="1.20"/><path d="M281.16 389.30 C281.69 389.86 283.12 391.25 284.37 392.64 C285.62 394.03 287.23 396.11 288.65 397.63 C290.08 399.15 291.45 400.52 292.94 401.75 C294.42 402.98 296.03 404.10 297.58 405.01 C299.12 405.91 300.67 406.64 302.22 407.18 C303.77 407.72 304.90 408.05 306.86 408.26 C308.82 408.48 311.62 408.48 314.00 408.48 C316.38 408.48 319.18 408.48 321.14 408.26 C323.10 408.05 324.23 407.72 325.78 407.18 C327.33 406.64 328.88 405.91 330.42 405.01 C331.97 404.10 333.58 402.98 335.06 401.75 C336.55 400.52 337.92 399.15 339.35 397.63 C340.77 396.11 342.38 394.03 343.63 392.64 C344.88 391.25 346.31 389.86 346.84 389.30" stroke-width="0.80"/><path d="M280.4 387.4 L281.6 389.5" stroke-width="0.8"/><path d="M281.9 387.0 L283.1 389.9" stroke-width="0.8"/><path d="M283.6 386.7 L284.8 390.2" stroke-width="0.8"/><path d="M285.7 386.4 L286.9 390.5" stroke-width="0.8"/><path d="M287.6 386.4 L288.8 390.8" stroke-width="0.8"/><path d="M289.3 386.7 L290.5 391.0" stroke-width="0.8"/><path d="M291.0 387.1 L292.2 391.1" stroke-width="0.8"/><path d="M292.6 387.7 L293.8 391.3" stroke-width="0.8"/><path d="M294.1 388.4 L295.3 391.4" stroke-width="0.8"/><path d="M295.6 389.1 L296.8 391.5" stroke-width="0.8"/><path d="M296.9 389.7 L298.1 391.6" stroke-width="0.8"/><path d="M301.9 390.3 L300.7 391.6" stroke-width="0.8"/><path d="M303.3 389.9 L302.1 391.6" stroke-width="0.8"/><path d="M305.1 389.2 L303.9 391.5" stroke-width="0.8"/><path d="M307.1 388.4 L305.9 391.4" stroke-width="0.8"/><path d="M309.0 387.7 L307.8 391.2" stroke-width="0.8"/><path d="M310.7 387.3 L309.5 391.0" stroke-width="0.8"/><path d="M312.4 387.0 L311.2 390.9" stroke-width="0.8"/><path d="M314.0 386.9 L312.8 390.8" stroke-width="0.8"/><path d="M315.6 387.0 L316.8 390.9" stroke-width="0.8"/><path d="M317.3 387.3 L318.5 391.0" stroke-width="0.8"/><path d="M319.0 387.7 L320.2 391.2" stroke-width="0.8"/><path d="M320.9 388.4 L322.1 391.4" stroke-width="0.8"/><path d="M322.9 389.2 L324.1 391.5" stroke-width="0.8"/><path d="M324.7 389.9 L325.9 391.6" stroke-width="0.8"/><path d="M326.1 390.3 L327.3 391.6" stroke-width="0.8"/><path d="M331.1 389.7 L329.9 391.6" stroke-width="0.8"/><path d="M332.4 389.1 L331.2 391.5" stroke-width="0.8"/><path d="M333.9 388.4 L332.7 391.4" stroke-width="0.8"/><path d="M335.4 387.7 L334.2 391.3" stroke-width="0.8"/><path d="M337.0 387.1 L335.8 391.1" stroke-width="0.8"/><path d="M338.7 386.7 L337.5 391.0" stroke-width="0.8"/><path d="M340.4 386.4 L339.2 390.8" stroke-width="0.8"/><path d="M342.3 386.4 L341.1 390.5" stroke-width="0.8"/><path d="M344.4 386.7 L343.2 390.2" stroke-width="0.8"/><path d="M346.1 387.0 L344.9 389.9" stroke-width="0.8"/><path d="M347.6 387.4 L346.4 389.5" stroke-width="0.8"/><path d="M344.7 391.5 Q340.9 401.8 324.1 407.5" stroke-width="0.85"/><path d="M340.4 391.5 Q337.1 401.8 323.0 407.9" stroke-width="0.85"/><path d="M336.1 391.5 Q333.2 401.8 321.9 408.2" stroke-width="0.85"/><path d="M331.9 392.3 Q329.4 401.8 320.8 408.5" stroke-width="0.85"/><path d="M327.6 392.3 Q325.5 401.8 319.7 408.8" stroke-width="0.85"/><path d="M323.3 392.3 Q321.6 401.8 318.6 409.1" stroke-width="0.85"/><path d="M319.0 392.3 Q317.8 401.8 317.4 409.4" stroke-width="0.85"/><path d="M305.4 410.0 H322.6" stroke-width="1.0"/><circle cx="278.5" cy="388.6" r="1.35" fill="#1a1a1a" stroke="none"/><circle cx="349.5" cy="388.6" r="1.35" fill="#1a1a1a" stroke="none"/></g>
<g fill="none" stroke="#1a1a1a" stroke-width="0.8" stroke-linecap="round" stroke-linejoin="round"><rect x="311.6" y="386" width="5.2" height="12" fill="#555" stroke-width="0.7"/><rect x="310.8" y="398" width="6.8" height="5.4" fill="#fff" stroke-width="0.9"/><path d="M304 408.8 H324.4" stroke-width="1.0"/></g>
<g fill="none" stroke="#1a1a1a" stroke-width="0.8" stroke-linecap="round" stroke-linejoin="round"><rect x="140.6" y="474.3" width="13.7" height="39.9" fill="#fff" stroke-width="0.9"/></g>
<g fill="none" stroke="#1a1a1a" stroke-width="0.8" stroke-linecap="round" stroke-linejoin="round"><path d="M144.0 477.6 h7.0 v7.0 l-3.5 3.0 l-3.5 -3.0 Z" fill="#333" stroke-width="0.6"/><path d="M144.0 479.4 h7.0" stroke="#bbb" stroke-width="0.4"/><path d="M144.0 481.2 h7.0" stroke="#bbb" stroke-width="0.4"/><path d="M144.0 483.0 h7.0" stroke="#bbb" stroke-width="0.4"/></g>
<g fill="none" stroke="#1a1a1a" stroke-width="0.8" stroke-linecap="round" stroke-linejoin="round"><path d="M142.00 474.30 C141.45 472.42 139.40 466.12 138.70 463.00 C138.00 459.88 137.60 458.23 137.80 455.60 C138.00 452.97 139.00 449.63 139.90 447.20 C140.80 444.77 142.38 442.87 143.20 441.00 C144.02 439.13 144.57 437.77 144.80 436.00 C145.03 434.23 144.47 432.13 144.60 430.40 C144.73 428.67 145.10 426.87 145.60 425.60 C146.10 424.33 147.00 423.35 147.60 422.80 C148.20 422.25 148.93 422.38 149.20 422.30 L149.20 422.30 C149.32 422.52 150.02 422.72 149.90 423.60 C149.78 424.48 148.85 426.00 148.50 427.60 C148.15 429.20 147.60 431.45 147.80 433.20 C148.00 434.95 148.70 436.23 149.70 438.10 C150.70 439.97 152.65 442.07 153.80 444.40 C154.95 446.73 156.02 449.77 156.60 452.10 C157.18 454.43 157.40 456.20 157.30 458.40 C157.20 460.60 156.72 462.65 156.00 465.30 C155.28 467.95 153.50 472.80 153.00 474.30 Z" fill="#fff" stroke-width="1.1"/></g>
<g fill="none" stroke="#1a1a1a" stroke-width="0.90" stroke-linejoin="round" stroke-linecap="round"><path d="M111.9 500.5 L115.4 499.2 L121.1 498.6 L126.0 499.9 L130.3 501.9 L133.1 502.8 L136.6 502.1 L142.3 499.9 L147.2 499.1 L152.1 499.9 L157.8 502.1 L161.3 502.8 L164.1 501.9 L168.4 499.9 L173.3 498.6 L179.0 499.2 L182.5 500.5 L181.8 501.0 L179.0 504.9 L174.7 510.4 L170.5 514.8 L165.6 518.5 L160.6 521.0 L155.7 522.2 L147.2 522.5 L138.7 522.2 L133.8 521.0 L128.8 518.5 L123.9 514.8 L119.7 510.4 L115.4 504.9 L112.6 501.0Z" fill="#fff" stroke="none"/><path d="M111.90 500.50 C112.49 500.28 113.90 499.52 115.43 499.20 C116.96 498.88 119.31 498.48 121.08 498.60 C122.84 498.72 124.49 499.35 126.02 499.90 C127.55 500.45 129.08 501.42 130.26 501.90 C131.43 502.38 132.02 502.77 133.08 502.80 C134.14 502.83 135.08 502.58 136.61 502.10 C138.14 501.62 140.49 500.40 142.26 499.90 C144.02 499.40 145.55 499.10 147.20 499.10 C148.85 499.10 150.38 499.40 152.14 499.90 C153.91 500.40 156.26 501.62 157.79 502.10 C159.32 502.58 160.26 502.83 161.32 502.80 C162.38 502.77 162.97 502.38 164.14 501.90 C165.32 501.42 166.85 500.45 168.38 499.90 C169.91 499.35 171.56 498.72 173.32 498.60 C175.09 498.48 177.44 498.88 178.97 499.20 C180.50 499.52 181.91 500.28 182.50 500.50" stroke-width="1.20"/><path d="M111.90 500.50 C112.49 500.72 113.90 501.42 115.43 501.80 C116.96 502.18 119.08 502.52 121.08 502.80 C123.08 503.08 125.43 503.33 127.43 503.50 C129.43 503.67 131.31 503.77 133.08 503.80 C134.84 503.83 136.37 503.80 138.02 503.70 C139.67 503.60 141.43 503.32 142.96 503.20 C144.49 503.08 145.79 503.00 147.20 503.00 C148.61 503.00 149.91 503.08 151.44 503.20 C152.97 503.32 154.73 503.60 156.38 503.70 C158.03 503.80 159.56 503.83 161.32 503.80 C163.08 503.77 164.97 503.67 166.97 503.50 C168.97 503.33 171.32 503.08 173.32 502.80 C175.32 502.52 177.44 502.18 178.97 501.80 C180.50 501.42 181.91 500.72 182.50 500.50"/><path d="M112.61 501.00 C113.08 501.65 114.25 503.33 115.43 504.90 C116.61 506.47 118.25 508.75 119.67 510.40 C121.08 512.05 122.37 513.44 123.90 514.80 C125.43 516.16 127.20 517.51 128.84 518.54 C130.49 519.57 132.14 520.36 133.79 520.96 C135.43 521.57 136.49 521.91 138.73 522.17 C140.96 522.43 144.38 522.50 147.20 522.50 C150.02 522.50 153.44 522.43 155.67 522.17 C157.91 521.91 158.97 521.57 160.61 520.96 C162.26 520.36 163.91 519.57 165.56 518.54 C167.20 517.51 168.97 516.16 170.50 514.80 C172.03 513.44 173.32 512.05 174.73 510.40 C176.15 508.75 177.79 506.47 178.97 504.90 C180.15 503.33 181.32 501.65 181.79 501.00" stroke-width="1.20"/><path d="M114.72 501.50 C115.25 502.07 116.67 503.49 117.90 504.90 C119.14 506.31 120.72 508.42 122.14 509.96 C123.55 511.50 124.90 512.89 126.37 514.14 C127.84 515.39 129.43 516.52 130.96 517.44 C132.49 518.36 134.02 519.09 135.55 519.64 C137.08 520.19 138.20 520.52 140.14 520.74 C142.08 520.96 144.85 520.96 147.20 520.96 C149.55 520.96 152.32 520.96 154.26 520.74 C156.20 520.52 157.32 520.19 158.85 519.64 C160.38 519.09 161.91 518.36 163.44 517.44 C164.97 516.52 166.56 515.39 168.03 514.14 C169.50 512.89 170.85 511.50 172.26 509.96 C173.67 508.42 175.26 506.31 176.50 504.90 C177.73 503.49 179.15 502.07 179.68 501.50" stroke-width="0.80"/><path d="M114.0 499.6 L115.2 501.7" stroke-width="0.8"/><path d="M115.4 499.2 L116.6 502.1" stroke-width="0.8"/><path d="M117.2 498.9 L118.4 502.4" stroke-width="0.8"/><path d="M119.2 498.6 L120.4 502.7" stroke-width="0.8"/><path d="M121.1 498.6 L122.3 503.0" stroke-width="0.8"/><path d="M122.8 498.9 L124.0 503.2" stroke-width="0.8"/><path d="M124.5 499.3 L125.7 503.3" stroke-width="0.8"/><path d="M126.0 499.9 L127.2 503.5" stroke-width="0.8"/><path d="M127.5 500.6 L128.7 503.6" stroke-width="0.8"/><path d="M129.0 501.3 L130.2 503.7" stroke-width="0.8"/><path d="M130.3 501.9 L131.5 503.8" stroke-width="0.8"/><path d="M135.3 502.5 L134.1 503.8" stroke-width="0.8"/><path d="M136.6 502.1 L135.4 503.8" stroke-width="0.8"/><path d="M138.4 501.4 L137.2 503.7" stroke-width="0.8"/><path d="M140.3 500.6 L139.1 503.6" stroke-width="0.8"/><path d="M142.3 499.9 L141.1 503.4" stroke-width="0.8"/><path d="M144.0 499.5 L142.8 503.2" stroke-width="0.8"/><path d="M145.6 499.2 L144.4 503.1" stroke-width="0.8"/><path d="M147.2 499.1 L146.0 503.0" stroke-width="0.8"/><path d="M148.8 499.2 L150.0 503.1" stroke-width="0.8"/><path d="M150.4 499.5 L151.6 503.2" stroke-width="0.8"/><path d="M152.1 499.9 L153.3 503.4" stroke-width="0.8"/><path d="M154.1 500.6 L155.3 503.6" stroke-width="0.8"/><path d="M156.0 501.4 L157.2 503.7" stroke-width="0.8"/><path d="M157.8 502.1 L159.0 503.8" stroke-width="0.8"/><path d="M159.1 502.5 L160.3 503.8" stroke-width="0.8"/><path d="M164.1 501.9 L162.9 503.8" stroke-width="0.8"/><path d="M165.4 501.3 L164.2 503.7" stroke-width="0.8"/><path d="M166.9 500.6 L165.7 503.6" stroke-width="0.8"/><path d="M168.4 499.9 L167.2 503.5" stroke-width="0.8"/><path d="M169.9 499.3 L168.7 503.3" stroke-width="0.8"/><path d="M171.6 498.9 L170.4 503.2" stroke-width="0.8"/><path d="M173.3 498.6 L172.1 503.0" stroke-width="0.8"/><path d="M175.2 498.6 L174.0 502.7" stroke-width="0.8"/><path d="M177.2 498.9 L176.0 502.4" stroke-width="0.8"/><path d="M179.0 499.2 L177.8 502.1" stroke-width="0.8"/><path d="M180.4 499.6 L179.2 501.7" stroke-width="0.8"/><path d="M116.8 503.7 Q120.6 514.1 137.2 520.0" stroke-width="0.85"/><path d="M121.1 503.7 Q124.4 514.1 138.3 520.3" stroke-width="0.85"/><path d="M125.3 503.7 Q128.2 514.1 139.4 520.6" stroke-width="0.85"/><path d="M129.5 504.5 Q132.0 514.1 140.5 521.0" stroke-width="0.85"/><path d="M133.8 504.5 Q135.8 514.1 141.6 521.3" stroke-width="0.85"/><path d="M138.0 504.5 Q139.6 514.1 142.7 521.6" stroke-width="0.85"/><path d="M142.3 504.5 Q143.5 514.1 143.8 521.9" stroke-width="0.85"/><path d="M138.7 522.5 H155.7" stroke-width="1.0"/><circle cx="112.1" cy="500.8" r="1.35" fill="#1a1a1a" stroke="none"/><circle cx="182.3" cy="500.8" r="1.35" fill="#1a1a1a" stroke="none"/></g>
<g fill="none" stroke="#1a1a1a" stroke-width="0.8" stroke-linecap="round" stroke-linejoin="round"><path d="M140.6 503 V514.2 H154.3 V503" stroke-width="0.8"/></g>
<g fill="none" stroke="#1a1a1a" stroke-width="0.8" stroke-linecap="round" stroke-linejoin="round"><path d="M143.6 522.6 H159.6 L158.6 525 H144.6 Z" fill="#fff"/><path d="M145.4 525.6 Q152 523.8 158.2 525.6 Q159.4 527.4 158.2 529.2 Q152 531 145.4 529.2 Q144.2 527.4 145.4 525.6 Z" fill="#fff" stroke-width="0.9"/></g>
<g fill="none" stroke="#1a1a1a" stroke-width="0.8" stroke-linecap="round" stroke-linejoin="round"><rect x="482.9" y="472.3" width="13.3" height="34.1" fill="#fff" stroke-width="0.9"/></g>
<g fill="none" stroke="#1a1a1a" stroke-width="0.8" stroke-linecap="round" stroke-linejoin="round"><path d="M484.50 460.00 C483.92 458.17 481.80 452.23 481.00 449.00 C480.20 445.77 479.70 443.40 479.70 440.60 C479.70 437.80 480.20 434.77 481.00 432.20 C481.80 429.63 483.37 427.30 484.50 425.20 C485.63 423.10 487.00 421.47 487.80 419.60 C488.60 417.73 489.12 415.60 489.30 414.00 C489.48 412.40 489.18 411.03 488.90 410.00 C488.62 408.97 487.93 408.23 487.60 407.80 C487.27 407.37 487.02 407.47 486.90 407.40 L486.90 407.40 C487.18 407.40 487.87 406.88 488.60 407.40 C489.33 407.92 490.70 409.17 491.30 410.50 C491.90 411.83 492.15 413.42 492.20 415.40 C492.25 417.38 491.25 420.30 491.60 422.40 C491.95 424.50 493.38 425.90 494.30 428.00 C495.22 430.10 496.40 432.67 497.10 435.00 C497.80 437.33 498.50 439.45 498.50 442.00 C498.50 444.55 497.92 447.30 497.10 450.30 C496.28 453.30 494.18 458.38 493.60 460.00 Z" fill="#fff" stroke-width="1.1"/></g>
<g fill="none" stroke="#1a1a1a" stroke-width="0.8" stroke-linecap="round" stroke-linejoin="round"><path d="M485.7 460.2 h8.0 v7.7 l-4.0 3.3 l-4.0 -3.3 Z" fill="#333" stroke-width="0.6"/><path d="M485.7 462.2 h8.0" stroke="#bbb" stroke-width="0.4"/><path d="M485.7 464.2 h8.0" stroke="#bbb" stroke-width="0.4"/><path d="M485.7 466.1 h8.0" stroke="#bbb" stroke-width="0.4"/></g>
<g fill="none" stroke="#1a1a1a" stroke-width="0.90" stroke-linejoin="round" stroke-linecap="round"><path d="M453.3 484.1 L456.8 482.8 L462.5 482.2 L467.4 483.5 L471.7 485.5 L474.5 486.4 L478.0 485.7 L483.7 483.5 L488.6 482.7 L493.5 483.5 L499.2 485.7 L502.7 486.4 L505.5 485.5 L509.8 483.5 L514.7 482.2 L520.4 482.8 L523.9 484.1 L523.2 484.6 L520.4 488.3 L516.1 493.6 L511.9 497.8 L507.0 501.3 L502.0 503.6 L497.1 504.8 L488.6 505.1 L480.1 504.8 L475.2 503.6 L470.2 501.3 L465.3 497.8 L461.1 493.6 L456.8 488.3 L454.0 484.6Z" fill="#fff" stroke="none"/><path d="M453.30 484.10 C453.89 483.88 455.30 483.12 456.83 482.80 C458.36 482.48 460.71 482.08 462.48 482.20 C464.24 482.32 465.89 482.95 467.42 483.50 C468.95 484.05 470.48 485.02 471.66 485.50 C472.83 485.98 473.42 486.37 474.48 486.40 C475.54 486.43 476.48 486.18 478.01 485.70 C479.54 485.22 481.89 484.00 483.66 483.50 C485.42 483.00 486.95 482.70 488.60 482.70 C490.25 482.70 491.78 483.00 493.54 483.50 C495.31 484.00 497.66 485.22 499.19 485.70 C500.72 486.18 501.66 486.43 502.72 486.40 C503.78 486.37 504.37 485.98 505.54 485.50 C506.72 485.02 508.25 484.05 509.78 483.50 C511.31 482.95 512.96 482.32 514.72 482.20 C516.49 482.08 518.84 482.48 520.37 482.80 C521.90 483.12 523.31 483.88 523.90 484.10" stroke-width="1.20"/><path d="M453.30 484.10 C453.89 484.32 455.30 485.02 456.83 485.40 C458.36 485.78 460.48 486.12 462.48 486.40 C464.48 486.68 466.83 486.93 468.83 487.10 C470.83 487.27 472.72 487.37 474.48 487.40 C476.25 487.43 477.77 487.40 479.42 487.30 C481.07 487.20 482.83 486.92 484.36 486.80 C485.89 486.68 487.19 486.60 488.60 486.60 C490.01 486.60 491.31 486.68 492.84 486.80 C494.37 486.92 496.13 487.20 497.78 487.30 C499.43 487.40 500.96 487.43 502.72 487.40 C504.49 487.37 506.37 487.27 508.37 487.10 C510.37 486.93 512.72 486.68 514.72 486.40 C516.72 486.12 518.84 485.78 520.37 485.40 C521.90 485.02 523.31 484.32 523.90 484.10"/><path d="M454.01 484.60 C454.48 485.22 455.65 486.81 456.83 488.30 C458.01 489.79 459.65 491.98 461.07 493.55 C462.48 495.12 463.77 496.45 465.30 497.75 C466.83 499.05 468.60 500.34 470.24 501.32 C471.89 502.30 473.54 503.05 475.19 503.63 C476.83 504.21 477.89 504.54 480.13 504.79 C482.36 505.03 485.78 505.10 488.60 505.10 C491.42 505.10 494.84 505.03 497.07 504.79 C499.31 504.54 500.37 504.21 502.01 503.63 C503.66 503.05 505.31 502.30 506.96 501.32 C508.60 500.34 510.37 499.05 511.90 497.75 C513.43 496.45 514.72 495.12 516.13 493.55 C517.55 491.98 519.19 489.79 520.37 488.30 C521.55 486.81 522.72 485.22 523.19 484.60" stroke-width="1.20"/><path d="M456.12 485.10 C456.65 485.63 458.07 486.96 459.30 488.30 C460.54 489.64 462.13 491.66 463.54 493.13 C464.95 494.60 466.30 495.93 467.77 497.12 C469.24 498.31 470.83 499.40 472.36 500.27 C473.89 501.15 475.42 501.85 476.95 502.37 C478.48 502.89 479.60 503.21 481.54 503.42 C483.48 503.63 486.25 503.63 488.60 503.63 C490.95 503.63 493.72 503.63 495.66 503.42 C497.60 503.21 498.72 502.89 500.25 502.37 C501.78 501.85 503.31 501.15 504.84 500.27 C506.37 499.40 507.96 498.31 509.43 497.12 C510.90 495.93 512.25 494.60 513.66 493.13 C515.08 491.66 516.66 489.64 517.90 488.30 C519.13 486.96 520.55 485.63 521.08 485.10" stroke-width="0.80"/><path d="M455.4 483.2 L456.6 485.3" stroke-width="0.8"/><path d="M456.8 482.8 L458.0 485.7" stroke-width="0.8"/><path d="M458.6 482.5 L459.8 486.0" stroke-width="0.8"/><path d="M460.6 482.2 L461.8 486.3" stroke-width="0.8"/><path d="M462.5 482.2 L463.7 486.6" stroke-width="0.8"/><path d="M464.2 482.5 L465.4 486.8" stroke-width="0.8"/><path d="M465.9 482.9 L467.1 486.9" stroke-width="0.8"/><path d="M467.4 483.5 L468.6 487.1" stroke-width="0.8"/><path d="M468.9 484.2 L470.1 487.2" stroke-width="0.8"/><path d="M470.4 484.9 L471.6 487.3" stroke-width="0.8"/><path d="M471.7 485.5 L472.9 487.4" stroke-width="0.8"/><path d="M476.7 486.1 L475.5 487.4" stroke-width="0.8"/><path d="M478.0 485.7 L476.8 487.4" stroke-width="0.8"/><path d="M479.8 485.0 L478.6 487.3" stroke-width="0.8"/><path d="M481.7 484.2 L480.5 487.2" stroke-width="0.8"/><path d="M483.7 483.5 L482.5 487.0" stroke-width="0.8"/><path d="M485.4 483.1 L484.2 486.8" stroke-width="0.8"/><path d="M487.0 482.8 L485.8 486.7" stroke-width="0.8"/><path d="M488.6 482.7 L487.4 486.6" stroke-width="0.8"/><path d="M490.2 482.8 L491.4 486.7" stroke-width="0.8"/><path d="M491.8 483.1 L493.0 486.8" stroke-width="0.8"/><path d="M493.5 483.5 L494.7 487.0" stroke-width="0.8"/><path d="M495.5 484.2 L496.7 487.2" stroke-width="0.8"/><path d="M497.4 485.0 L498.6 487.3" stroke-width="0.8"/><path d="M499.2 485.7 L500.4 487.4" stroke-width="0.8"/><path d="M500.5 486.1 L501.7 487.4" stroke-width="0.8"/><path d="M505.5 485.5 L504.3 487.4" stroke-width="0.8"/><path d="M506.8 484.9 L505.6 487.3" stroke-width="0.8"/><path d="M508.3 484.2 L507.1 487.2" stroke-width="0.8"/><path d="M509.8 483.5 L508.6 487.1" stroke-width="0.8"/><path d="M511.3 482.9 L510.1 486.9" stroke-width="0.8"/><path d="M513.0 482.5 L511.8 486.8" stroke-width="0.8"/><path d="M514.7 482.2 L513.5 486.6" stroke-width="0.8"/><path d="M516.6 482.2 L515.4 486.3" stroke-width="0.8"/><path d="M518.6 482.5 L517.4 486.0" stroke-width="0.8"/><path d="M520.4 482.8 L519.2 485.7" stroke-width="0.8"/><path d="M521.8 483.2 L520.6 485.3" stroke-width="0.8"/><path d="M519.0 487.3 Q515.2 497.1 498.6 502.7" stroke-width="0.85"/><path d="M514.7 487.3 Q511.4 497.1 497.5 503.0" stroke-width="0.85"/><path d="M510.5 487.3 Q507.6 497.1 496.4 503.3" stroke-width="0.85"/><path d="M506.2 488.1 Q503.8 497.1 495.3 503.6" stroke-width="0.85"/><path d="M502.0 488.1 Q500.0 497.1 494.2 503.9" stroke-width="0.85"/><path d="M497.8 488.1 Q496.2 497.1 493.1 504.2" stroke-width="0.85"/><path d="M493.5 488.1 Q492.3 497.1 492.0 504.5" stroke-width="0.85"/><path d="M480.1 505.1 H497.1" stroke-width="1.0"/><circle cx="453.5" cy="484.4" r="1.35" fill="#1a1a1a" stroke="none"/><circle cx="523.7" cy="484.4" r="1.35" fill="#1a1a1a" stroke="none"/></g>
<g fill="none" stroke="#1a1a1a" stroke-width="0.8" stroke-linecap="round" stroke-linejoin="round"><path d="M482.9 486 V506.4 M496.2 486 V506.4" stroke-width="0.8"/></g>
<g fill="none" stroke="#1a1a1a" stroke-width="0.8" stroke-linecap="round" stroke-linejoin="round"><rect x="482" y="505.4" width="13.2" height="4.8" fill="#fff"/><path d="M478.4 510.2 H499 L500 512.4 H477.4 Z" fill="#fff" stroke-width="0.9"/><rect x="481" y="512.4" width="15.4" height="2.2" fill="#fff"/><path d="M479.6 514.5 H497.8 Q500 516.5 497.8 518.6 H479.6 Q477.4 516.5 479.6 514.5 Z" fill="#fff" stroke-width="0.9"/></g>
<g fill="none" stroke="#1a1a1a" stroke-width="0.8" stroke-linecap="round" stroke-linejoin="round"><path d="M271.8 583.5 L276.0 582.4 L281.9 582.9 L288.6 584.5 L297.0 585.4 L305.4 584.2 L313.9 582.5 L322.4 584.2 L330.8 585.4 L339.2 584.5 L345.9 582.9 L351.8 582.4 L356.0 583.5 L355.2 583.9 L353.0 589.4 L350.1 595.3 L346.8 601.2 L342.6 607.0 L337.6 612.4 L331.7 616.8 L325.8 619.1 L320.8 619.8 L307.0 619.8 L302.0 619.1 L296.1 616.8 L290.2 612.4 L285.2 607.0 L281.0 601.2 L277.7 595.3 L274.8 589.4 L272.6 583.9Z" fill="#fff" stroke="none"/><path d="M280.8 584.0 V590.4" stroke-width="0.55"/><path d="M281.7 584.2 V590.4" stroke-width="0.55"/><path d="M282.7 584.4 V590.4" stroke-width="0.55"/><path d="M283.8 584.7 V590.4" stroke-width="0.55"/><path d="M285.1 584.9 V590.4" stroke-width="0.55"/><path d="M286.3 585.2 V590.5" stroke-width="0.55"/><path d="M287.5 585.4 V590.5" stroke-width="0.55"/><path d="M288.6 585.5 V590.5" stroke-width="0.55"/><path d="M289.6 585.7 V590.5" stroke-width="0.55"/><path d="M290.7 585.8 V590.5" stroke-width="0.55"/><path d="M291.7 585.9 V590.5" stroke-width="0.55"/><path d="M292.8 586.1 V590.6" stroke-width="0.55"/><path d="M293.8 586.1 V590.6" stroke-width="0.55"/><path d="M294.9 586.2 V590.6" stroke-width="0.55"/><path d="M295.9 586.2 V590.6" stroke-width="0.55"/><path d="M297.0 586.2 V590.6" stroke-width="0.55"/><path d="M298.0 586.2 V590.7" stroke-width="0.55"/><path d="M299.1 586.1 V590.7" stroke-width="0.55"/><path d="M300.1 586.0 V590.7" stroke-width="0.55"/><path d="M301.1 585.9 V590.7" stroke-width="0.55"/><path d="M302.2 585.7 V590.7" stroke-width="0.55"/><path d="M303.2 585.5 V590.7" stroke-width="0.55"/><path d="M304.3 585.4 V590.8" stroke-width="0.55"/><path d="M305.4 585.2 V590.8" stroke-width="0.55"/><path d="M306.4 585.0 V590.8" stroke-width="0.55"/><path d="M307.5 584.8 V590.8" stroke-width="0.55"/><path d="M308.6 584.5 V590.8" stroke-width="0.55"/><path d="M309.6 584.3 V590.8" stroke-width="0.55"/><path d="M310.7 584.1 V590.9" stroke-width="0.55"/><path d="M311.8 583.9 V590.9" stroke-width="0.55"/><path d="M312.8 583.7 V590.9" stroke-width="0.55"/><path d="M313.9 583.7 V590.9" stroke-width="0.55"/><path d="M315.0 583.7 V590.9" stroke-width="0.55"/><path d="M316.1 583.9 V590.9" stroke-width="0.55"/><path d="M317.1 584.1 V590.9" stroke-width="0.55"/><path d="M318.2 584.3 V590.8" stroke-width="0.55"/><path d="M319.3 584.5 V590.8" stroke-width="0.55"/><path d="M320.3 584.8 V590.8" stroke-width="0.55"/><path d="M321.4 585.0 V590.8" stroke-width="0.55"/><path d="M322.4 585.2 V590.8" stroke-width="0.55"/><path d="M323.5 585.4 V590.8" stroke-width="0.55"/><path d="M324.6 585.5 V590.7" stroke-width="0.55"/><path d="M325.6 585.7 V590.7" stroke-width="0.55"/><path d="M326.7 585.9 V590.7" stroke-width="0.55"/><path d="M327.7 586.0 V590.7" stroke-width="0.55"/><path d="M328.7 586.1 V590.7" stroke-width="0.55"/><path d="M329.8 586.2 V590.7" stroke-width="0.55"/><path d="M330.8 586.2 V590.6" stroke-width="0.55"/><path d="M331.9 586.2 V590.6" stroke-width="0.55"/><path d="M332.9 586.2 V590.6" stroke-width="0.55"/><path d="M334.0 586.1 V590.6" stroke-width="0.55"/><path d="M335.0 586.1 V590.6" stroke-width="0.55"/><path d="M336.1 585.9 V590.5" stroke-width="0.55"/><path d="M337.1 585.8 V590.5" stroke-width="0.55"/><path d="M338.2 585.7 V590.5" stroke-width="0.55"/><path d="M339.2 585.5 V590.5" stroke-width="0.55"/><path d="M340.3 585.4 V590.5" stroke-width="0.55"/><path d="M341.5 585.2 V590.5" stroke-width="0.55"/><path d="M342.7 584.9 V590.4" stroke-width="0.55"/><path d="M344.0 584.7 V590.4" stroke-width="0.55"/><path d="M345.1 584.4 V590.4" stroke-width="0.55"/><path d="M346.1 584.2 V590.4" stroke-width="0.55"/><path d="M347.0 584.0 V590.4" stroke-width="0.55"/><path d="M276.48 587.90 C278.50 588.29 284.32 589.69 288.57 590.25 C292.82 590.81 297.77 591.06 302.00 591.25 C306.22 591.45 309.94 591.42 313.91 591.42 C317.88 591.42 321.61 591.45 325.83 591.25 C330.05 591.06 335.00 590.81 339.26 590.25 C343.51 589.69 349.33 588.29 351.34 587.90" stroke-width="0.9"/><path d="M271.78 583.53 C272.48 583.34 274.30 582.47 275.98 582.36 C277.66 582.25 279.76 582.50 281.85 582.86 C283.95 583.23 286.05 584.12 288.57 584.54 C291.09 584.96 294.16 585.44 296.96 585.38 C299.76 585.32 302.53 584.68 305.35 584.20 C308.18 583.73 311.06 582.53 313.91 582.53 C316.76 582.53 319.63 583.73 322.45 584.20 C325.27 584.68 328.04 585.32 330.84 585.38 C333.64 585.44 336.71 584.96 339.23 584.54 C341.75 584.12 343.85 583.23 345.95 582.86 C348.04 582.50 350.14 582.25 351.82 582.36 C353.50 582.47 355.32 583.34 356.02 583.53" stroke-width="1.1"/><path d="M280.18 583.87 C281.57 584.15 285.77 585.16 288.57 585.55 C291.37 585.94 294.16 586.27 296.96 586.22 C299.76 586.16 302.53 585.63 305.35 585.21 C308.18 584.79 311.06 583.70 313.91 583.70 C316.76 583.70 319.63 584.79 322.45 585.21 C325.27 585.63 328.04 586.16 330.84 586.22 C333.64 586.27 336.43 585.94 339.23 585.55 C342.03 585.16 346.23 584.15 347.62 583.87" stroke-width="0.8"/><path d="M272.62 583.87 C272.99 584.79 273.97 587.51 274.81 589.41 C275.64 591.31 276.62 593.32 277.66 595.28 C278.69 597.24 279.76 599.20 281.02 601.16 C282.27 603.11 283.67 605.16 285.21 607.03 C286.75 608.91 288.43 610.78 290.25 612.40 C292.07 614.02 294.16 615.65 296.12 616.77 C298.08 617.88 300.18 618.61 302.00 619.12 C303.81 619.62 306.19 619.67 307.03 619.79" stroke-width="1.1"/><path d="M355.18 583.87 C354.81 584.79 353.83 587.51 352.99 589.41 C352.16 591.31 351.18 593.32 350.14 595.28 C349.11 597.24 348.04 599.20 346.78 601.16 C345.53 603.11 344.13 605.16 342.59 607.03 C341.05 608.91 339.37 610.78 337.55 612.40 C335.73 614.02 333.64 615.65 331.68 616.77 C329.72 617.88 327.62 618.61 325.80 619.12 C323.99 619.62 321.61 619.67 320.77 619.79" stroke-width="1.1"/><path d="M275.14 588.57 C275.59 589.69 276.65 592.76 277.83 595.28 C279.00 597.80 280.46 601.02 282.19 603.67 C283.92 606.33 286.05 609.10 288.23 611.23 C290.41 613.35 293.49 615.12 295.28 616.43 C297.07 617.74 298.36 618.67 298.97 619.12" stroke-width="0.75"/><path d="M352.66 588.57 C352.21 589.69 351.15 592.76 349.97 595.28 C348.80 597.80 347.34 601.02 345.61 603.67 C343.88 606.33 341.75 609.10 339.57 611.23 C337.39 613.35 334.31 615.12 332.52 616.43 C330.73 617.74 329.44 618.67 328.83 619.12" stroke-width="0.75"/><path d="M277.83 588.57 C278.27 589.69 279.34 592.76 280.51 595.28 C281.69 597.80 283.14 601.02 284.88 603.67 C286.61 606.33 288.85 609.10 290.92 611.23 C292.99 613.35 295.62 615.12 297.30 616.43 C298.97 617.74 300.37 618.67 300.99 619.12" stroke-width="0.75"/><path d="M349.97 588.57 C349.53 589.69 348.46 592.76 347.29 595.28 C346.11 597.80 344.66 601.02 342.92 603.67 C341.19 606.33 338.95 609.10 336.88 611.23 C334.81 613.35 332.18 615.12 330.50 616.43 C328.83 617.74 327.43 618.67 326.81 619.12" stroke-width="0.75"/><path d="M280.85 588.57 C281.30 589.69 282.36 592.76 283.53 595.28 C284.71 597.80 286.16 601.02 287.90 603.67 C289.63 606.33 292.04 609.10 293.94 611.23 C295.84 613.35 297.80 615.12 299.31 616.43 C300.82 617.74 302.39 618.67 303.00 619.12" stroke-width="0.75"/><path d="M346.95 588.57 C346.50 589.69 345.44 592.76 344.27 595.28 C343.09 597.80 341.64 601.02 339.90 603.67 C338.17 606.33 335.76 609.10 333.86 611.23 C331.96 613.35 330.00 615.12 328.49 616.43 C326.98 617.74 325.41 618.67 324.80 619.12" stroke-width="0.75"/><path d="M284.88 591.09 C286.29 593.46 289.98 600.65 293.34 605.35 C296.69 610.05 303.07 616.96 305.02 619.28" stroke-width="0.75"/><path d="M342.92 591.09 C341.51 593.46 337.82 600.65 334.46 605.35 C331.11 610.05 324.73 616.96 322.78 619.28" stroke-width="0.75"/><path d="M290.25 591.09 C291.40 593.46 294.41 600.65 297.16 605.35 C299.90 610.05 305.11 616.96 306.70 619.28" stroke-width="0.75"/><path d="M337.55 591.09 C336.40 593.46 333.39 600.65 330.64 605.35 C327.90 610.05 322.69 616.96 321.10 619.28" stroke-width="0.75"/><path d="M295.95 591.09 C296.82 593.46 299.10 600.65 301.17 605.35 C303.24 610.05 307.17 616.96 308.37 619.28" stroke-width="0.75"/><path d="M331.85 591.09 C330.98 593.46 328.70 600.65 326.63 605.35 C324.56 610.05 320.63 616.96 319.43 619.28" stroke-width="0.75"/><path d="M301.32 591.09 C301.94 593.46 303.54 600.65 304.99 605.35 C306.44 610.05 309.21 616.96 310.05 619.28" stroke-width="0.75"/><path d="M326.48 591.09 C325.86 593.46 324.26 600.65 322.81 605.35 C321.36 610.05 318.59 616.96 317.75 619.28" stroke-width="0.75"/><path d="M306.02 591.09 C306.40 593.46 307.38 600.65 308.28 605.35 C309.17 610.05 310.88 616.96 311.39 619.28" stroke-width="0.75"/><path d="M321.78 591.09 C321.40 593.46 320.42 600.65 319.52 605.35 C318.63 610.05 316.92 616.96 316.41 619.28" stroke-width="0.75"/><path d="M310.05 591.09 C310.24 593.46 310.73 600.65 311.18 605.35 C311.63 610.05 312.48 616.96 312.74 619.28" stroke-width="0.75"/><path d="M317.75 591.09 C317.56 593.46 317.07 600.65 316.62 605.35 C316.17 610.05 315.32 616.96 315.06 619.28" stroke-width="0.75"/><path d="M314.2 578.6 V612" stroke-width="2.6" stroke="#333"/><path d="M314.2 578.6 V612" stroke-width="1.0" stroke="#fff" stroke-dasharray="6 2.4"/><path d="M272.46 583.53 C272.06 582.89 271.34 582.50 270.44 582.36 C269.55 582.22 268.06 582.27 267.08 582.69 C266.11 583.11 265.01 584.12 264.57 584.88 C264.12 585.63 264.15 586.72 264.40 587.23 C264.65 587.73 265.46 588.06 266.08 587.90 C266.69 587.73 267.36 586.61 268.09 586.22 C268.82 585.83 269.66 585.55 270.44 585.55 C271.22 585.55 272.46 586.55 272.79 586.22 C273.13 585.88 272.85 584.18 272.46 583.53Z" fill="#1a1a1a" stroke-width="0.6"/><path d="M355.34 583.53 C355.74 582.89 356.46 582.50 357.36 582.36 C358.25 582.22 359.74 582.27 360.72 582.69 C361.69 583.11 362.79 584.12 363.23 584.88 C363.68 585.63 363.65 586.72 363.40 587.23 C363.15 587.73 362.34 588.06 361.72 587.90 C361.11 587.73 360.44 586.61 359.71 586.22 C358.98 585.83 358.14 585.55 357.36 585.55 C356.58 585.55 355.34 586.55 355.01 586.22 C354.67 585.88 354.95 584.18 355.34 583.53Z" fill="#1a1a1a" stroke-width="0.6"/><path d="M266.08 585.88 C266.36 585.60 267.03 584.60 267.76 584.20 C268.48 583.81 269.99 583.64 270.44 583.53" stroke="#ddd" stroke-width="0.5"/><path d="M361.72 585.88 C361.44 585.60 360.77 584.60 360.04 584.20 C359.32 583.81 357.81 583.64 357.36 583.53" stroke="#ddd" stroke-width="0.5"/><path d="M296.6 620.0 L331.5 620.0" stroke-width="1.6"/><path d="M304.0 621.5 L324.2 621.5 L321.8 623.8 L306.4 623.8Z" fill="#888" stroke-width="0.8"/><path d="M308.0 624.0 L320.1 624.0 L318.8 626.2 L309.4 626.2Z" fill="#fff" stroke-width="0.8"/><path d="M310.4 626.3 L317.8 626.3 L316.4 629.5 L311.7 629.5Z" fill="#555" stroke-width="0.8"/></g>
<path d="M314.2 628 V674" stroke="#1a1a1a" stroke-width="1.6"/><circle cx="314.2" cy="632.4" r="2.9" fill="#262626"/><circle cx="314.2" cy="632.4" r="1.0" fill="#666"/><circle cx="314.2" cy="639.6" r="2.9" fill="#262626"/><circle cx="314.2" cy="639.6" r="1.0" fill="#666"/><circle cx="314.2" cy="647.0" r="2.9" fill="#262626"/><circle cx="314.2" cy="647.0" r="1.0" fill="#666"/><circle cx="314.2" cy="654.4" r="2.9" fill="#262626"/><circle cx="314.2" cy="654.4" r="1.0" fill="#666"/><circle cx="314.2" cy="661.8" r="2.9" fill="#262626"/><circle cx="314.2" cy="661.8" r="1.0" fill="#666"/><circle cx="314.2" cy="668.4" r="2.9" fill="#262626"/><circle cx="314.2" cy="668.4" r="1.0" fill="#666"/><path d="M312.2 692.9 A9.9 9.9 0 1 1 316.2 692.9 L314.2 694.7 Z" fill="#2a2a2a" stroke="#1a1a1a" stroke-width="0.8"/><circle cx="314.20" cy="683.20" r="1.00" fill="#e8e8e8"/><circle cx="317.20" cy="683.20" r="0.95" fill="#e8e8e8"/><circle cx="315.70" cy="685.80" r="0.95" fill="#e8e8e8"/><circle cx="312.70" cy="685.80" r="0.95" fill="#e8e8e8"/><circle cx="311.20" cy="683.20" r="0.95" fill="#e8e8e8"/><circle cx="312.70" cy="680.60" r="0.95" fill="#e8e8e8"/><circle cx="315.70" cy="680.60" r="0.95" fill="#e8e8e8"/><circle cx="319.90" cy="684.72" r="0.90" fill="#e8e8e8"/><circle cx="318.38" cy="687.36" r="0.90" fill="#e8e8e8"/><circle cx="315.74" cy="688.90" r="0.90" fill="#e8e8e8"/><circle cx="312.68" cy="688.90" r="0.90" fill="#e8e8e8"/><circle cx="310.04" cy="687.38" r="0.90" fill="#e8e8e8"/><circle cx="308.50" cy="684.74" r="0.90" fill="#e8e8e8"/><circle cx="308.50" cy="681.68" r="0.90" fill="#e8e8e8"/><circle cx="310.02" cy="679.04" r="0.90" fill="#e8e8e8"/><circle cx="312.66" cy="677.50" r="0.90" fill="#e8e8e8"/><circle cx="315.72" cy="677.50" r="0.90" fill="#e8e8e8"/><circle cx="318.36" cy="679.02" r="0.90" fill="#e8e8e8"/><circle cx="319.90" cy="681.66" r="0.90" fill="#e8e8e8"/><circle cx="322.40" cy="683.20" r="0.60" fill="#e8e8e8"/><circle cx="321.78" cy="686.34" r="0.60" fill="#e8e8e8"/><circle cx="320.00" cy="689.00" r="0.60" fill="#e8e8e8"/><circle cx="317.34" cy="690.78" r="0.60" fill="#e8e8e8"/><circle cx="314.20" cy="691.40" r="0.60" fill="#e8e8e8"/><circle cx="311.06" cy="690.78" r="0.60" fill="#e8e8e8"/><circle cx="308.40" cy="689.00" r="0.60" fill="#e8e8e8"/><circle cx="306.62" cy="686.34" r="0.60" fill="#e8e8e8"/><circle cx="306.00" cy="683.20" r="0.60" fill="#e8e8e8"/><circle cx="306.62" cy="680.06" r="0.60" fill="#e8e8e8"/><circle cx="308.40" cy="677.40" r="0.60" fill="#e8e8e8"/><circle cx="311.06" cy="675.62" r="0.60" fill="#e8e8e8"/><circle cx="314.20" cy="675.00" r="0.60" fill="#e8e8e8"/><circle cx="317.34" cy="675.62" r="0.60" fill="#e8e8e8"/><circle cx="320.00" cy="677.40" r="0.60" fill="#e8e8e8"/><circle cx="321.78" cy="680.06" r="0.60" fill="#e8e8e8"/>
<!-- 12_beads -->
<path d="M279.6 399.0 L275.0 406.2 L271.0 413.8 L268.0 421.8 L264.8 429.7 L261.7 437.7 L258.6 445.7 L254.9 453.4 L250.6 460.8 L246.6 468.4 L243.7 476.4 L240.8 484.5 L237.3 492.3 L233.2 499.8 L228.5 507.0 L223.8 514.1 L218.6 521.0 L213.3 527.7 L207.3 533.8 L200.1 538.3 L192.0 540.9 L183.4 541.2 L175.4 538.5 L168.6 533.3 L163.6 526.4" fill="none" stroke="#1a1a1a" stroke-width="1.8"/><circle cx="279.6" cy="399.0" r="3.45" fill="#222"/><circle cx="279.6" cy="399.0" r="1.92" fill="none" stroke="#c8c8c8" stroke-width="0.75" stroke-dasharray="1.1 0.8"/><circle cx="279.6" cy="399.0" r="0.83" fill="#aaa"/><circle cx="275.0" cy="406.2" r="3.45" fill="#222"/><circle cx="275.0" cy="406.2" r="1.92" fill="none" stroke="#c8c8c8" stroke-width="0.75" stroke-dasharray="1.1 0.8"/><circle cx="275.0" cy="406.2" r="0.83" fill="#aaa"/><circle cx="271.0" cy="413.8" r="3.45" fill="#222"/><circle cx="271.0" cy="413.8" r="1.92" fill="none" stroke="#c8c8c8" stroke-width="0.75" stroke-dasharray="1.1 0.8"/><circle cx="271.0" cy="413.8" r="0.83" fill="#aaa"/><circle cx="268.0" cy="421.8" r="3.45" fill="#222"/><circle cx="268.0" cy="421.8" r="1.92" fill="none" stroke="#c8c8c8" stroke-width="0.75" stroke-dasharray="1.1 0.8"/><circle cx="268.0" cy="421.8" r="0.83" fill="#aaa"/><circle cx="264.8" cy="429.7" r="3.45" fill="#222"/><circle cx="264.8" cy="429.7" r="1.92" fill="none" stroke="#c8c8c8" stroke-width="0.75" stroke-dasharray="1.1 0.8"/><circle cx="264.8" cy="429.7" r="0.83" fill="#aaa"/><circle cx="261.7" cy="437.7" r="3.45" fill="#222"/><circle cx="261.7" cy="437.7" r="1.92" fill="none" stroke="#c8c8c8" stroke-width="0.75" stroke-dasharray="1.1 0.8"/><circle cx="261.7" cy="437.7" r="0.83" fill="#aaa"/><circle cx="258.6" cy="445.7" r="3.45" fill="#222"/><circle cx="258.6" cy="445.7" r="1.92" fill="none" stroke="#c8c8c8" stroke-width="0.75" stroke-dasharray="1.1 0.8"/><circle cx="258.6" cy="445.7" r="0.83" fill="#aaa"/><circle cx="254.9" cy="453.4" r="3.45" fill="#222"/><circle cx="254.9" cy="453.4" r="1.92" fill="none" stroke="#c8c8c8" stroke-width="0.75" stroke-dasharray="1.1 0.8"/><circle cx="254.9" cy="453.4" r="0.83" fill="#aaa"/><circle cx="250.6" cy="460.8" r="3.45" fill="#222"/><circle cx="250.6" cy="460.8" r="1.92" fill="none" stroke="#c8c8c8" stroke-width="0.75" stroke-dasharray="1.1 0.8"/><circle cx="250.6" cy="460.8" r="0.83" fill="#aaa"/><circle cx="246.6" cy="468.4" r="3.45" fill="#222"/><circle cx="246.6" cy="468.4" r="1.92" fill="none" stroke="#c8c8c8" stroke-width="0.75" stroke-dasharray="1.1 0.8"/><circle cx="246.6" cy="468.4" r="0.83" fill="#aaa"/><circle cx="243.7" cy="476.4" r="3.45" fill="#222"/><circle cx="243.7" cy="476.4" r="1.92" fill="none" stroke="#c8c8c8" stroke-width="0.75" stroke-dasharray="1.1 0.8"/><circle cx="243.7" cy="476.4" r="0.83" fill="#aaa"/><circle cx="240.8" cy="484.5" r="3.45" fill="#222"/><circle cx="240.8" cy="484.5" r="1.92" fill="none" stroke="#c8c8c8" stroke-width="0.75" stroke-dasharray="1.1 0.8"/><circle cx="240.8" cy="484.5" r="0.83" fill="#aaa"/><circle cx="237.3" cy="492.3" r="3.45" fill="#222"/><circle cx="237.3" cy="492.3" r="1.92" fill="none" stroke="#c8c8c8" stroke-width="0.75" stroke-dasharray="1.1 0.8"/><circle cx="237.3" cy="492.3" r="0.83" fill="#aaa"/><circle cx="233.2" cy="499.8" r="3.45" fill="#222"/><circle cx="233.2" cy="499.8" r="1.92" fill="none" stroke="#c8c8c8" stroke-width="0.75" stroke-dasharray="1.1 0.8"/><circle cx="233.2" cy="499.8" r="0.83" fill="#aaa"/><circle cx="228.5" cy="507.0" r="3.45" fill="#222"/><circle cx="228.5" cy="507.0" r="1.92" fill="none" stroke="#c8c8c8" stroke-width="0.75" stroke-dasharray="1.1 0.8"/><circle cx="228.5" cy="507.0" r="0.83" fill="#aaa"/><circle cx="223.8" cy="514.1" r="3.45" fill="#222"/><circle cx="223.8" cy="514.1" r="1.92" fill="none" stroke="#c8c8c8" stroke-width="0.75" stroke-dasharray="1.1 0.8"/><circle cx="223.8" cy="514.1" r="0.83" fill="#aaa"/><circle cx="218.6" cy="521.0" r="3.45" fill="#222"/><circle cx="218.6" cy="521.0" r="1.92" fill="none" stroke="#c8c8c8" stroke-width="0.75" stroke-dasharray="1.1 0.8"/><circle cx="218.6" cy="521.0" r="0.83" fill="#aaa"/><circle cx="213.3" cy="527.7" r="3.45" fill="#222"/><circle cx="213.3" cy="527.7" r="1.92" fill="none" stroke="#c8c8c8" stroke-width="0.75" stroke-dasharray="1.1 0.8"/><circle cx="213.3" cy="527.7" r="0.83" fill="#aaa"/><circle cx="207.3" cy="533.8" r="3.45" fill="#222"/><circle cx="207.3" cy="533.8" r="1.92" fill="none" stroke="#c8c8c8" stroke-width="0.75" stroke-dasharray="1.1 0.8"/><circle cx="207.3" cy="533.8" r="0.83" fill="#aaa"/><circle cx="200.1" cy="538.3" r="3.45" fill="#222"/><circle cx="200.1" cy="538.3" r="1.92" fill="none" stroke="#c8c8c8" stroke-width="0.75" stroke-dasharray="1.1 0.8"/><circle cx="200.1" cy="538.3" r="0.83" fill="#aaa"/><circle cx="192.0" cy="540.9" r="3.45" fill="#222"/><circle cx="192.0" cy="540.9" r="1.92" fill="none" stroke="#c8c8c8" stroke-width="0.75" stroke-dasharray="1.1 0.8"/><circle cx="192.0" cy="540.9" r="0.83" fill="#aaa"/><circle cx="183.4" cy="541.2" r="3.45" fill="#222"/><circle cx="183.4" cy="541.2" r="1.92" fill="none" stroke="#c8c8c8" stroke-width="0.75" stroke-dasharray="1.1 0.8"/><circle cx="183.4" cy="541.2" r="0.83" fill="#aaa"/><circle cx="175.4" cy="538.5" r="3.45" fill="#222"/><circle cx="175.4" cy="538.5" r="1.92" fill="none" stroke="#c8c8c8" stroke-width="0.75" stroke-dasharray="1.1 0.8"/><circle cx="175.4" cy="538.5" r="0.83" fill="#aaa"/><circle cx="168.6" cy="533.3" r="3.45" fill="#222"/><circle cx="168.6" cy="533.3" r="1.92" fill="none" stroke="#c8c8c8" stroke-width="0.75" stroke-dasharray="1.1 0.8"/><circle cx="168.6" cy="533.3" r="0.83" fill="#aaa"/><circle cx="163.6" cy="526.4" r="3.45" fill="#222"/><circle cx="163.6" cy="526.4" r="1.92" fill="none" stroke="#c8c8c8" stroke-width="0.75" stroke-dasharray="1.1 0.8"/><circle cx="163.6" cy="526.4" r="0.83" fill="#aaa"/>
<path d="M70.4 497.6 L72 502" stroke="#1a1a1a" stroke-width="1.6" stroke-linecap="round"/>
<path d="M72.2 502.6 L75.3 510.5 L78.1 518.5 L80.9 526.6 L83.8 534.5 L86.6 542.6 L89.1 550.7 L92.2 558.6" fill="none" stroke="#1a1a1a" stroke-width="1.8"/><circle cx="72.2" cy="502.6" r="3.45" fill="#222"/><circle cx="72.2" cy="502.6" r="1.92" fill="none" stroke="#c8c8c8" stroke-width="0.75" stroke-dasharray="1.1 0.8"/><circle cx="72.2" cy="502.6" r="0.83" fill="#aaa"/><circle cx="75.3" cy="510.5" r="3.45" fill="#222"/><circle cx="75.3" cy="510.5" r="1.92" fill="none" stroke="#c8c8c8" stroke-width="0.75" stroke-dasharray="1.1 0.8"/><circle cx="75.3" cy="510.5" r="0.83" fill="#aaa"/><circle cx="78.1" cy="518.5" r="3.45" fill="#222"/><circle cx="78.1" cy="518.5" r="1.92" fill="none" stroke="#c8c8c8" stroke-width="0.75" stroke-dasharray="1.1 0.8"/><circle cx="78.1" cy="518.5" r="0.83" fill="#aaa"/><circle cx="80.9" cy="526.6" r="3.45" fill="#222"/><circle cx="80.9" cy="526.6" r="1.92" fill="none" stroke="#c8c8c8" stroke-width="0.75" stroke-dasharray="1.1 0.8"/><circle cx="80.9" cy="526.6" r="0.83" fill="#aaa"/><circle cx="83.8" cy="534.5" r="3.45" fill="#222"/><circle cx="83.8" cy="534.5" r="1.92" fill="none" stroke="#c8c8c8" stroke-width="0.75" stroke-dasharray="1.1 0.8"/><circle cx="83.8" cy="534.5" r="0.83" fill="#aaa"/><circle cx="86.6" cy="542.6" r="3.45" fill="#222"/><circle cx="86.6" cy="542.6" r="1.92" fill="none" stroke="#c8c8c8" stroke-width="0.75" stroke-dasharray="1.1 0.8"/><circle cx="86.6" cy="542.6" r="0.83" fill="#aaa"/><circle cx="89.1" cy="550.7" r="3.45" fill="#222"/><circle cx="89.1" cy="550.7" r="1.92" fill="none" stroke="#c8c8c8" stroke-width="0.75" stroke-dasharray="1.1 0.8"/><circle cx="89.1" cy="550.7" r="0.83" fill="#aaa"/><circle cx="92.2" cy="558.6" r="3.45" fill="#222"/><circle cx="92.2" cy="558.6" r="1.92" fill="none" stroke="#c8c8c8" stroke-width="0.75" stroke-dasharray="1.1 0.8"/><circle cx="92.2" cy="558.6" r="0.83" fill="#aaa"/>
<path d="M92.2 558.6 L100.3 558.8 L106.9 553.5 L113.7 548.4 L120.5 543.3 L127.1 538.0 L134.0 533.2 L140.4 527.6" fill="none" stroke="#1a1a1a" stroke-width="1.8"/><circle cx="92.2" cy="558.6" r="3.45" fill="#222"/><circle cx="92.2" cy="558.6" r="1.92" fill="none" stroke="#c8c8c8" stroke-width="0.75" stroke-dasharray="1.1 0.8"/><circle cx="92.2" cy="558.6" r="0.83" fill="#aaa"/><circle cx="100.3" cy="558.8" r="3.45" fill="#222"/><circle cx="100.3" cy="558.8" r="1.92" fill="none" stroke="#c8c8c8" stroke-width="0.75" stroke-dasharray="1.1 0.8"/><circle cx="100.3" cy="558.8" r="0.83" fill="#aaa"/><circle cx="106.9" cy="553.5" r="3.45" fill="#222"/><circle cx="106.9" cy="553.5" r="1.92" fill="none" stroke="#c8c8c8" stroke-width="0.75" stroke-dasharray="1.1 0.8"/><circle cx="106.9" cy="553.5" r="0.83" fill="#aaa"/><circle cx="113.7" cy="548.4" r="3.45" fill="#222"/><circle cx="113.7" cy="548.4" r="1.92" fill="none" stroke="#c8c8c8" stroke-width="0.75" stroke-dasharray="1.1 0.8"/><circle cx="113.7" cy="548.4" r="0.83" fill="#aaa"/><circle cx="120.5" cy="543.3" r="3.45" fill="#222"/><circle cx="120.5" cy="543.3" r="1.92" fill="none" stroke="#c8c8c8" stroke-width="0.75" stroke-dasharray="1.1 0.8"/><circle cx="120.5" cy="543.3" r="0.83" fill="#aaa"/><circle cx="127.1" cy="538.0" r="3.45" fill="#222"/><circle cx="127.1" cy="538.0" r="1.92" fill="none" stroke="#c8c8c8" stroke-width="0.75" stroke-dasharray="1.1 0.8"/><circle cx="127.1" cy="538.0" r="0.83" fill="#aaa"/><circle cx="134.0" cy="533.2" r="3.45" fill="#222"/><circle cx="134.0" cy="533.2" r="1.92" fill="none" stroke="#c8c8c8" stroke-width="0.75" stroke-dasharray="1.1 0.8"/><circle cx="134.0" cy="533.2" r="0.83" fill="#aaa"/><circle cx="140.4" cy="527.6" r="3.45" fill="#222"/><circle cx="140.4" cy="527.6" r="1.92" fill="none" stroke="#c8c8c8" stroke-width="0.75" stroke-dasharray="1.1 0.8"/><circle cx="140.4" cy="527.6" r="0.83" fill="#aaa"/>
<path d="M280.2 402.4 V408.0" stroke="#1a1a1a" stroke-width="1.3"/><g fill="none" stroke="#1a1a1a" stroke-width="0.95" stroke-linejoin="round" stroke-linecap="round"><path d="M280.20 408.00 C279.80 408.00 278.90 410.48 278.48 411.28 C278.06 412.07 277.05 413.95 276.59 414.80 C276.13 415.66 274.99 417.79 274.52 418.58 C274.06 419.38 272.97 421.02 272.63 421.61 C272.29 422.20 271.65 423.09 271.60 423.62 C271.55 424.15 271.92 425.53 272.20 426.14 C272.48 426.76 273.50 428.33 274.01 428.92 C274.52 429.50 275.99 430.73 276.59 431.18 C277.19 431.64 278.75 432.59 279.17 432.82 C279.59 433.06 279.96 433.20 280.20 433.20 C280.44 433.20 280.81 433.06 281.23 432.82 C281.65 432.59 283.21 431.64 283.81 431.18 C284.41 430.73 285.88 429.50 286.39 428.92 C286.90 428.33 287.92 426.76 288.20 426.14 C288.48 425.53 288.85 424.15 288.80 423.62 C288.75 423.09 288.11 422.20 287.77 421.61 C287.43 421.02 286.34 419.38 285.88 418.58 C285.41 417.79 284.27 415.66 283.81 414.80 C283.35 413.95 282.34 412.07 281.92 411.28 C281.50 410.48 280.60 408.00 280.20 408.00Z" stroke-width="1.10"/><path d="M280.2 409.0 L275.9 423.4"/><path d="M280.2 409.0 L280.2 423.4"/><path d="M280.2 409.0 L284.5 423.4"/><path d="M277.8 412.8 L273.5 423.4"/><path d="M282.6 412.8 L286.9 423.4"/><path d="M275.9 423.4 L284.5 423.4"/><path d="M271.6 423.6 L273.5 420.6 L275.9 423.4 L278.1 427.2 L280.2 423.4 L282.3 427.2 L284.5 423.4 L286.9 420.6 L288.8 423.6"/><path d="M272.2 426.1 L273.5 423.4 L275.9 427.7 L278.1 427.2 L280.2 430.7 L282.3 427.2 L284.5 427.7 L286.9 423.4 L288.2 426.1"/><path d="M274.0 428.9 L275.9 427.7 L275.9 423.4"/><path d="M286.4 428.9 L284.5 427.7 L284.5 423.4"/><path d="M275.9 427.7 L277.6 431.4 L280.2 430.7 L282.8 431.4 L284.5 427.7"/><path d="M280.2 430.7 L280.2 433.2"/><circle cx="280.2" cy="433.2" r="0.9" fill="#1a1a1a" stroke="none"/></g><circle cx="280.2" cy="402.4" r="3.45" fill="#222"/><circle cx="280.2" cy="402.4" r="1.92" fill="none" stroke="#c8c8c8" stroke-width="0.75" stroke-dasharray="1.1 0.8"/><circle cx="280.2" cy="402.4" r="0.83" fill="#aaa"/>
<path d="M111.9 509.4 V516.0" stroke="#1a1a1a" stroke-width="1.3"/><g fill="none" stroke="#1a1a1a" stroke-width="0.95" stroke-linejoin="round" stroke-linecap="round"><path d="M111.90 516.00 C111.51 516.00 110.63 518.27 110.22 518.99 C109.81 519.71 108.82 521.43 108.37 522.21 C107.92 522.99 106.81 524.94 106.36 525.66 C105.91 526.38 104.84 527.88 104.51 528.42 C104.17 528.96 103.55 529.78 103.50 530.26 C103.45 530.74 103.81 532.00 104.09 532.56 C104.36 533.12 105.35 534.55 105.85 535.09 C106.35 535.63 107.78 536.74 108.37 537.16 C108.96 537.58 110.48 538.44 110.89 538.65 C111.30 538.87 111.66 539.00 111.90 539.00 C112.14 539.00 112.50 538.87 112.91 538.65 C113.32 538.44 114.84 537.58 115.43 537.16 C116.02 536.74 117.45 535.63 117.95 535.09 C118.45 534.55 119.44 533.12 119.71 532.56 C119.99 532.00 120.35 530.74 120.30 530.26 C120.25 529.78 119.63 528.96 119.29 528.42 C118.96 527.88 117.89 526.38 117.44 525.66 C116.99 524.94 115.88 522.99 115.43 522.21 C114.98 521.43 113.99 519.71 113.58 518.99 C113.17 518.27 112.29 516.00 111.90 516.00Z" stroke-width="1.10"/><path d="M111.9 516.9 L107.7 530.0"/><path d="M111.9 516.9 L111.9 530.0"/><path d="M111.9 516.9 L116.1 530.0"/><path d="M109.5 520.4 L105.3 530.0"/><path d="M114.3 520.4 L118.5 530.0"/><path d="M107.7 530.0 L116.1 530.0"/><path d="M103.5 530.3 L105.3 527.5 L107.7 530.0 L109.8 533.5 L111.9 530.0 L114.0 533.5 L116.1 530.0 L118.5 527.5 L120.3 530.3"/><path d="M104.1 532.6 L105.3 530.0 L107.7 533.9 L109.8 533.5 L111.9 536.7 L114.0 533.5 L116.1 533.9 L118.5 530.0 L119.7 532.6"/><path d="M105.9 535.1 L107.7 533.9 L107.7 530.0"/><path d="M117.9 535.1 L116.1 533.9 L116.1 530.0"/><path d="M107.7 533.9 L109.4 537.4 L111.9 536.7 L114.4 537.4 L116.1 533.9"/><path d="M111.9 536.7 L111.9 539.0"/><circle cx="111.9" cy="539.0" r="0.9" fill="#1a1a1a" stroke="none"/></g><circle cx="111.9" cy="509.4" r="3.45" fill="#222"/><circle cx="111.9" cy="509.4" r="1.92" fill="none" stroke="#c8c8c8" stroke-width="0.75" stroke-dasharray="1.1 0.8"/><circle cx="111.9" cy="509.4" r="0.83" fill="#aaa"/>
<path d="M182.5 509.4 V516.0" stroke="#1a1a1a" stroke-width="1.3"/><g fill="none" stroke="#1a1a1a" stroke-width="0.95" stroke-linejoin="round" stroke-linecap="round"><path d="M182.50 516.00 C182.11 516.00 181.23 518.27 180.82 518.99 C180.41 519.71 179.42 521.43 178.97 522.21 C178.52 522.99 177.41 524.94 176.96 525.66 C176.51 526.38 175.44 527.88 175.11 528.42 C174.77 528.96 174.15 529.78 174.10 530.26 C174.05 530.74 174.41 532.00 174.69 532.56 C174.96 533.12 175.95 534.55 176.45 535.09 C176.95 535.63 178.38 536.74 178.97 537.16 C179.56 537.58 181.08 538.44 181.49 538.65 C181.90 538.87 182.26 539.00 182.50 539.00 C182.74 539.00 183.10 538.87 183.51 538.65 C183.92 538.44 185.44 537.58 186.03 537.16 C186.62 536.74 188.05 535.63 188.55 535.09 C189.05 534.55 190.04 533.12 190.31 532.56 C190.59 532.00 190.95 530.74 190.90 530.26 C190.85 529.78 190.23 528.96 189.89 528.42 C189.56 527.88 188.49 526.38 188.04 525.66 C187.59 524.94 186.48 522.99 186.03 522.21 C185.58 521.43 184.59 519.71 184.18 518.99 C183.77 518.27 182.89 516.00 182.50 516.00Z" stroke-width="1.10"/><path d="M182.5 516.9 L178.3 530.0"/><path d="M182.5 516.9 L182.5 530.0"/><path d="M182.5 516.9 L186.7 530.0"/><path d="M180.1 520.4 L175.9 530.0"/><path d="M184.9 520.4 L189.1 530.0"/><path d="M178.3 530.0 L186.7 530.0"/><path d="M174.1 530.3 L175.9 527.5 L178.3 530.0 L180.4 533.5 L182.5 530.0 L184.6 533.5 L186.7 530.0 L189.1 527.5 L190.9 530.3"/><path d="M174.7 532.6 L175.9 530.0 L178.3 533.9 L180.4 533.5 L182.5 536.7 L184.6 533.5 L186.7 533.9 L189.1 530.0 L190.3 532.6"/><path d="M176.5 535.1 L178.3 533.9 L178.3 530.0"/><path d="M188.5 535.1 L186.7 533.9 L186.7 530.0"/><path d="M178.3 533.9 L180.0 537.4 L182.5 536.7 L185.0 537.4 L186.7 533.9"/><path d="M182.5 536.7 L182.5 539.0"/><circle cx="182.5" cy="539.0" r="0.9" fill="#1a1a1a" stroke="none"/></g><circle cx="182.5" cy="509.4" r="3.45" fill="#222"/><circle cx="182.5" cy="509.4" r="1.92" fill="none" stroke="#c8c8c8" stroke-width="0.75" stroke-dasharray="1.1 0.8"/><circle cx="182.5" cy="509.4" r="0.83" fill="#aaa"/>
<g fill="none" stroke="#1a1a1a" stroke-width="0.95" stroke-linejoin="round" stroke-linecap="round"><path d="M137.00 538.80 C136.54 538.80 135.51 541.87 135.02 542.86 C134.53 543.84 133.37 546.17 132.84 547.22 C132.31 548.28 131.00 550.92 130.47 551.90 C129.93 552.89 128.68 554.92 128.29 555.65 C127.90 556.38 127.16 557.49 127.10 558.14 C127.04 558.80 127.47 560.50 127.79 561.26 C128.12 562.03 129.28 563.97 129.87 564.70 C130.46 565.42 132.15 566.94 132.84 567.50 C133.54 568.07 135.33 569.24 135.81 569.53 C136.30 569.82 136.72 570.00 137.00 570.00 C137.28 570.00 137.70 569.82 138.19 569.53 C138.67 569.24 140.46 568.07 141.16 567.50 C141.85 566.94 143.54 565.42 144.13 564.70 C144.72 563.97 145.88 562.03 146.21 561.26 C146.53 560.50 146.96 558.80 146.90 558.14 C146.84 557.49 146.10 556.38 145.71 555.65 C145.32 554.92 144.07 552.89 143.53 551.90 C143.00 550.92 141.69 548.28 141.16 547.22 C140.63 546.17 139.47 543.84 138.98 542.86 C138.49 541.87 137.46 538.80 137.00 538.80Z" stroke-width="1.10"/><path d="M137.0 540.0 L132.1 557.8"/><path d="M137.0 540.0 L137.0 557.8"/><path d="M137.0 540.0 L141.9 557.8"/><path d="M134.2 544.7 L129.3 557.8"/><path d="M139.8 544.7 L144.7 557.8"/><path d="M132.1 557.8 L141.9 557.8"/><path d="M127.1 558.1 L129.3 554.4 L132.1 557.8 L134.5 562.5 L137.0 557.8 L139.5 562.5 L141.9 557.8 L144.7 554.4 L146.9 558.1"/><path d="M127.8 561.3 L129.3 557.8 L132.1 563.1 L134.5 562.5 L137.0 566.9 L139.5 562.5 L141.9 563.1 L144.7 557.8 L146.2 561.3"/><path d="M129.9 564.7 L132.1 563.1 L132.1 557.8"/><path d="M144.1 564.7 L141.9 563.1 L141.9 557.8"/><path d="M132.1 563.1 L134.0 567.8 L137.0 566.9 L140.0 567.8 L141.9 563.1"/><path d="M137.0 566.9 L137.0 570.0"/><circle cx="137.0" cy="570.0" r="0.9" fill="#1a1a1a" stroke="none"/></g>
<path d="M94.3 568.9 V575.5" stroke="#1a1a1a" stroke-width="1.3"/><g fill="none" stroke="#1a1a1a" stroke-width="0.95" stroke-linejoin="round" stroke-linecap="round"><path d="M94.30 575.50 C93.75 575.50 92.51 578.49 91.93 579.45 C91.35 580.41 89.96 582.68 89.32 583.71 C88.69 584.74 87.11 587.31 86.48 588.27 C85.84 589.23 84.34 591.21 83.87 591.92 C83.40 592.63 82.52 593.71 82.45 594.35 C82.38 594.99 82.89 596.64 83.28 597.39 C83.67 598.13 85.06 600.02 85.77 600.73 C86.47 601.44 88.49 602.92 89.32 603.47 C90.15 604.02 92.30 605.16 92.88 605.44 C93.46 605.73 93.97 605.90 94.30 605.90 C94.63 605.90 95.14 605.73 95.72 605.44 C96.30 605.16 98.45 604.02 99.28 603.47 C100.11 602.92 102.13 601.44 102.83 600.73 C103.54 600.02 104.93 598.13 105.32 597.39 C105.71 596.64 106.22 594.99 106.15 594.35 C106.08 593.71 105.20 592.63 104.73 591.92 C104.26 591.21 102.76 589.23 102.12 588.27 C101.49 587.31 99.91 584.74 99.28 583.71 C98.64 582.68 97.25 580.41 96.67 579.45 C96.09 578.49 94.85 575.50 94.30 575.50Z" stroke-width="1.10"/><path d="M94.3 576.7 L88.4 594.0"/><path d="M94.3 576.7 L94.3 594.0"/><path d="M94.3 576.7 L100.2 594.0"/><path d="M91.0 581.3 L85.1 594.0"/><path d="M97.6 581.3 L103.5 594.0"/><path d="M88.4 594.0 L100.2 594.0"/><path d="M82.5 594.3 L85.1 590.7 L88.4 594.0 L91.3 598.6 L94.3 594.0 L97.3 598.6 L100.2 594.0 L103.5 590.7 L106.1 594.3"/><path d="M83.3 597.4 L85.1 594.0 L88.4 599.2 L91.3 598.6 L94.3 602.9 L97.3 598.6 L100.2 599.2 L103.5 594.0 L105.3 597.4"/><path d="M85.8 600.7 L88.4 599.2 L88.4 594.0"/><path d="M102.8 600.7 L100.2 599.2 L100.2 594.0"/><path d="M88.4 599.2 L90.7 603.8 L94.3 602.9 L97.9 603.8 L100.2 599.2"/><path d="M94.3 602.9 L94.3 605.9"/><circle cx="94.3" cy="605.9" r="0.9" fill="#1a1a1a" stroke="none"/></g><circle cx="94.3" cy="568.9" r="3.45" fill="#222"/><circle cx="94.3" cy="568.9" r="1.92" fill="none" stroke="#c8c8c8" stroke-width="0.75" stroke-dasharray="1.1 0.8"/><circle cx="94.3" cy="568.9" r="0.83" fill="#aaa"/>
<path d="M185.4 589.8 V596.0" stroke="#1a1a1a" stroke-width="1.3"/><g fill="none" stroke="#1a1a1a" stroke-width="0.95" stroke-linejoin="round" stroke-linecap="round"><path d="M185.40 596.00 C184.85 596.00 183.63 598.99 183.06 599.95 C182.49 600.91 181.11 603.18 180.49 604.21 C179.86 605.24 178.31 607.81 177.68 608.77 C177.05 609.73 175.57 611.71 175.10 612.42 C174.64 613.13 173.77 614.21 173.70 614.85 C173.63 615.49 174.14 617.14 174.52 617.89 C174.90 618.63 176.28 620.52 176.98 621.23 C177.67 621.94 179.67 623.42 180.49 623.97 C181.31 624.52 183.42 625.66 184.00 625.94 C184.57 626.23 185.07 626.40 185.40 626.40 C185.73 626.40 186.23 626.23 186.80 625.94 C187.38 625.66 189.50 624.52 190.31 623.97 C191.13 623.42 193.13 621.94 193.82 621.23 C194.52 620.52 195.90 618.63 196.28 617.89 C196.66 617.14 197.17 615.49 197.10 614.85 C197.03 614.21 196.16 613.13 195.70 612.42 C195.23 611.71 193.75 609.73 193.12 608.77 C192.49 607.81 190.94 605.24 190.31 604.21 C189.69 603.18 188.31 600.91 187.74 599.95 C187.17 598.99 185.95 596.00 185.40 596.00Z" stroke-width="1.10"/><path d="M185.4 597.2 L179.6 614.5"/><path d="M185.4 597.2 L185.4 614.5"/><path d="M185.4 597.2 L191.2 614.5"/><path d="M182.1 601.8 L176.3 614.5"/><path d="M188.7 601.8 L194.5 614.5"/><path d="M179.6 614.5 L191.2 614.5"/><path d="M173.7 614.8 L176.3 611.2 L179.6 614.5 L182.5 619.1 L185.4 614.5 L188.3 619.1 L191.2 614.5 L194.5 611.2 L197.1 614.8"/><path d="M174.5 617.9 L176.3 614.5 L179.6 619.7 L182.5 619.1 L185.4 623.4 L188.3 619.1 L191.2 619.7 L194.5 614.5 L196.3 617.9"/><path d="M177.0 621.2 L179.6 619.7 L179.6 614.5"/><path d="M193.8 621.2 L191.2 619.7 L191.2 614.5"/><path d="M179.6 619.7 L181.9 624.3 L185.4 623.4 L188.9 624.3 L191.2 619.7"/><path d="M185.4 623.4 L185.4 626.4"/><circle cx="185.4" cy="626.4" r="0.9" fill="#1a1a1a" stroke="none"/></g><circle cx="185.4" cy="589.8" r="3.45" fill="#222"/><circle cx="185.4" cy="589.8" r="1.92" fill="none" stroke="#c8c8c8" stroke-width="0.75" stroke-dasharray="1.1 0.8"/><circle cx="185.4" cy="589.8" r="0.83" fill="#aaa"/>
<path d="M253.9 502.6 V535.4" stroke="#1a1a1a" stroke-width="1.3"/><g fill="none" stroke="#1a1a1a" stroke-width="0.95" stroke-linejoin="round" stroke-linecap="round"><path d="M253.90 535.40 C253.37 535.40 252.19 538.47 251.63 539.46 C251.07 540.44 249.74 542.77 249.13 543.82 C248.52 544.88 247.02 547.52 246.41 548.50 C245.80 549.49 244.36 551.52 243.91 552.25 C243.46 552.98 242.62 554.09 242.55 554.74 C242.48 555.40 242.97 557.10 243.34 557.86 C243.72 558.63 245.05 560.57 245.73 561.30 C246.40 562.02 248.34 563.54 249.13 564.10 C249.93 564.67 251.98 565.84 252.54 566.13 C253.09 566.42 253.58 566.60 253.90 566.60 C254.22 566.60 254.71 566.42 255.26 566.13 C255.82 565.84 257.87 564.67 258.67 564.10 C259.46 563.54 261.40 562.02 262.07 561.30 C262.75 560.57 264.08 558.63 264.46 557.86 C264.83 557.10 265.32 555.40 265.25 554.74 C265.18 554.09 264.34 552.98 263.89 552.25 C263.44 551.52 262.00 549.49 261.39 548.50 C260.78 547.52 259.28 544.88 258.67 543.82 C258.06 542.77 256.73 540.44 256.17 539.46 C255.61 538.47 254.43 535.40 253.90 535.40Z" stroke-width="1.10"/><path d="M253.9 536.6 L248.2 554.4"/><path d="M253.9 536.6 L253.9 554.4"/><path d="M253.9 536.6 L259.6 554.4"/><path d="M250.7 541.3 L245.0 554.4"/><path d="M257.1 541.3 L262.8 554.4"/><path d="M248.2 554.4 L259.6 554.4"/><path d="M242.6 554.7 L245.0 551.0 L248.2 554.4 L251.1 559.1 L253.9 554.4 L256.7 559.1 L259.6 554.4 L262.8 551.0 L265.2 554.7"/><path d="M243.3 557.9 L245.0 554.4 L248.2 559.7 L251.1 559.1 L253.9 563.5 L256.7 559.1 L259.6 559.7 L262.8 554.4 L264.5 557.9"/><path d="M245.7 561.3 L248.2 559.7 L248.2 554.4"/><path d="M262.1 561.3 L259.6 559.7 L259.6 554.4"/><path d="M248.2 559.7 L250.5 564.4 L253.9 563.5 L257.3 564.4 L259.6 559.7"/><path d="M253.9 563.5 L253.9 566.6"/><circle cx="253.9" cy="566.6" r="0.9" fill="#1a1a1a" stroke="none"/></g><circle cx="253.9" cy="502.6" r="3.45" fill="#222"/><circle cx="253.9" cy="502.6" r="1.92" fill="none" stroke="#c8c8c8" stroke-width="0.75" stroke-dasharray="1.1 0.8"/><circle cx="253.9" cy="502.6" r="0.83" fill="#aaa"/><circle cx="253.9" cy="511.6" r="3.45" fill="#222"/><circle cx="253.9" cy="511.6" r="1.92" fill="none" stroke="#c8c8c8" stroke-width="0.75" stroke-dasharray="1.1 0.8"/><circle cx="253.9" cy="511.6" r="0.83" fill="#aaa"/><circle cx="253.9" cy="520.6" r="3.45" fill="#222"/><circle cx="253.9" cy="520.6" r="1.92" fill="none" stroke="#c8c8c8" stroke-width="0.75" stroke-dasharray="1.1 0.8"/><circle cx="253.9" cy="520.6" r="0.83" fill="#aaa"/><circle cx="253.9" cy="529.6" r="3.45" fill="#222"/><circle cx="253.9" cy="529.6" r="1.92" fill="none" stroke="#c8c8c8" stroke-width="0.75" stroke-dasharray="1.1 0.8"/><circle cx="253.9" cy="529.6" r="0.83" fill="#aaa"/>
<path d="M262.1 589.4 V636.8" stroke="#1a1a1a" stroke-width="1.3"/><g fill="none" stroke="#1a1a1a" stroke-width="0.95" stroke-linejoin="round" stroke-linecap="round"><path d="M262.10 636.80 C261.60 636.80 260.48 639.81 259.96 640.78 C259.44 641.74 258.18 644.03 257.61 645.06 C257.03 646.10 255.61 648.69 255.04 649.65 C254.46 650.62 253.11 652.61 252.68 653.32 C252.26 654.04 251.46 655.13 251.40 655.77 C251.34 656.41 251.80 658.08 252.15 658.83 C252.50 659.58 253.76 661.48 254.40 662.20 C255.03 662.91 256.86 664.40 257.61 664.95 C258.36 665.51 260.29 666.66 260.82 666.94 C261.34 667.23 261.80 667.40 262.10 667.40 C262.40 667.40 262.86 667.23 263.38 666.94 C263.91 666.66 265.85 665.51 266.59 664.95 C267.34 664.40 269.17 662.91 269.80 662.20 C270.44 661.48 271.70 659.58 272.05 658.83 C272.40 658.08 272.86 656.41 272.80 655.77 C272.74 655.13 271.94 654.04 271.52 653.32 C271.09 652.61 269.74 650.62 269.16 649.65 C268.59 648.69 267.17 646.10 266.59 645.06 C266.02 644.03 264.76 641.74 264.24 640.78 C263.72 639.81 262.60 636.80 262.10 636.80Z" stroke-width="1.10"/><path d="M262.1 638.0 L256.8 655.5"/><path d="M262.1 638.0 L262.1 655.5"/><path d="M262.1 638.0 L267.5 655.5"/><path d="M259.1 642.6 L253.8 655.5"/><path d="M265.1 642.6 L270.4 655.5"/><path d="M256.8 655.5 L267.5 655.5"/><path d="M251.4 655.8 L253.8 652.1 L256.8 655.5 L259.4 660.1 L262.1 655.5 L264.8 660.1 L267.5 655.5 L270.4 652.1 L272.8 655.8"/><path d="M252.1 658.8 L253.8 655.5 L256.8 660.7 L259.4 660.1 L262.1 664.3 L264.8 660.1 L267.5 660.7 L270.4 655.5 L272.1 658.8"/><path d="M254.4 662.2 L256.8 660.7 L256.8 655.5"/><path d="M269.8 662.2 L267.5 660.7 L267.5 655.5"/><path d="M256.8 660.7 L258.9 665.3 L262.1 664.3 L265.3 665.3 L267.5 660.7"/><path d="M262.1 664.3 L262.1 667.4"/><circle cx="262.1" cy="667.4" r="0.9" fill="#1a1a1a" stroke="none"/></g><circle cx="262.1" cy="589.4" r="3.45" fill="#222"/><circle cx="262.1" cy="589.4" r="1.92" fill="none" stroke="#c8c8c8" stroke-width="0.75" stroke-dasharray="1.1 0.8"/><circle cx="262.1" cy="589.4" r="0.83" fill="#aaa"/><circle cx="262.1" cy="597.4" r="3.45" fill="#222"/><circle cx="262.1" cy="597.4" r="1.92" fill="none" stroke="#c8c8c8" stroke-width="0.75" stroke-dasharray="1.1 0.8"/><circle cx="262.1" cy="597.4" r="0.83" fill="#aaa"/><circle cx="262.1" cy="605.4" r="3.45" fill="#222"/><circle cx="262.1" cy="605.4" r="1.92" fill="none" stroke="#c8c8c8" stroke-width="0.75" stroke-dasharray="1.1 0.8"/><circle cx="262.1" cy="605.4" r="0.83" fill="#aaa"/><circle cx="262.1" cy="613.4" r="3.45" fill="#222"/><circle cx="262.1" cy="613.4" r="1.92" fill="none" stroke="#c8c8c8" stroke-width="0.75" stroke-dasharray="1.1 0.8"/><circle cx="262.1" cy="613.4" r="0.83" fill="#aaa"/><circle cx="262.1" cy="621.4" r="3.45" fill="#222"/><circle cx="262.1" cy="621.4" r="1.92" fill="none" stroke="#c8c8c8" stroke-width="0.75" stroke-dasharray="1.1 0.8"/><circle cx="262.1" cy="621.4" r="0.83" fill="#aaa"/><circle cx="262.1" cy="629.4" r="3.45" fill="#222"/><circle cx="262.1" cy="629.4" r="1.92" fill="none" stroke="#c8c8c8" stroke-width="0.75" stroke-dasharray="1.1 0.8"/><circle cx="262.1" cy="629.4" r="0.83" fill="#aaa"/>
<ellipse cx="253.9" cy="488.8" rx="3.1" ry="7.2" fill="none" stroke="#1a1a1a" stroke-width="1.9"/>
<ellipse cx="253.9" cy="488.8" rx="3.1" ry="7.2" fill="none" stroke="#999" stroke-width="0.5"/>
<path d="M253.9 495.8 v5" stroke="#1a1a1a" stroke-width="1.6"/>
<ellipse cx="185.4" cy="576.4" rx="3.1" ry="7.2" fill="none" stroke="#1a1a1a" stroke-width="1.9"/>
<ellipse cx="185.4" cy="576.4" rx="3.1" ry="7.2" fill="none" stroke="#999" stroke-width="0.5"/>
<path d="M185.4 583.4 v5" stroke="#1a1a1a" stroke-width="1.6"/>
<path d="M136 522 q3 -1 5 2 q2 3 -1 6 q-3 1 -5 -2 q-1 -3 1 -6 Z" fill="#1a1a1a"/>
<!-- 20_labels -->
<path d="M687.5 255.8 L648.2 255.8" stroke="#222" stroke-width="0.80" fill="none"/><path d="M641.2 255.8 L648.2 254.1 L648.2 257.5 Z" fill="#222"/>
<text class="r" transform="translate(687.60 272.00) scale(0.800 1)" x="1.25" y="0" font-size="25.0" fill="#222">2</text>
<path d="M215.1 306.4 L262.2 308.0" stroke="#222" stroke-width="0.80" fill="none"/>
<text class="r" transform="translate(263.40 323.00) scale(0.800 1)" x="0.62" y="0" font-size="25.0" fill="#222">3</text>
<path d="M320.0 259.0 L433.6 266.4" stroke="#222" stroke-width="0.80" fill="none"/>
<text class="r" transform="translate(433.40 280.20) scale(0.800 1)" x="1.38" y="0" font-size="19.5" fill="#222">4</text>
<path d="M433.6 322.2 L329.9 317.6" stroke="#222" stroke-width="0.80" fill="none"/><path d="M322.9 317.3 L330.0 315.9 L329.8 319.3 Z" fill="#222"/>
<text class="r" transform="translate(432.60 335.70) scale(0.800 1)" x="1.38" y="0" font-size="19.5" fill="#222">5</text>
<path d="M406.6 571.9 L360.3 560.7" stroke="#222" stroke-width="0.80" fill="none"/><path d="M354.5 559.3 L360.7 559.1 L359.9 562.4 Z" fill="#222"/>
<path d="M335.2 566.8 L400.7 598.7 L407 599" stroke="#222" stroke-width="0.85" fill="none"/>
<path d="M334.2 566.2 L338.6 568.4" stroke="#222" stroke-width="1.8" fill="none"/>
<path d="M320.1 578.6 L400.7 618.9 L407 619" stroke="#222" stroke-width="0.85" fill="none"/>
<path d="M406.1 633.2 L347.2 614.8" stroke="#222" stroke-width="0.80" fill="none"/><path d="M341.5 613.0 L347.7 613.2 L346.7 616.4 Z" fill="#222"/>
<path d="M406.1 654.6 L326.2 628.7" stroke="#222" stroke-width="0.80" fill="none"/><path d="M320.5 626.9 L326.7 627.1 L325.7 630.4 Z" fill="#222"/>
<text class="r" transform="translate(406.60 581.20) scale(0.800 1)" x="1.38" y="0" font-size="16.0" fill="#222">6</text>
<text class="r" transform="translate(406.60 608.20) scale(0.800 1)" x="1.38" y="0" font-size="16.0" fill="#222">7</text>
<text class="r" transform="translate(406.60 627.80) scale(0.800 1)" x="1.38" y="0" font-size="16.0" fill="#222">8</text>
<text class="r" transform="translate(406.60 644.40) scale(0.800 1)" x="1.38" y="0" font-size="16.0" fill="#222">9</text>
<text class="r" transform="translate(406.80 664.20) scale(0.800 1)" x="0.75 10.25" y="0" font-size="16.0" fill="#222">10</text>
<path d="M533.4 515.6 L515.1 506.4" stroke="#222" stroke-width="0.80" fill="none"/><path d="M508.8 503.2 L515.8 504.8 L514.3 507.9 Z" fill="#222"/>
<path d="M533.4 515.6 L537.5 515.6" stroke="#222" stroke-width="0.80" fill="none"/>
<text class="r" transform="translate(537.40 525.00) scale(0.800 1)" x="0.62 8.62" y="0" font-size="13.5" fill="#222">11</text>
<path d="M528.5 460.1 L511.1 451.4" stroke="#222" stroke-width="0.80" fill="none"/><path d="M504.8 448.3 L511.8 449.9 L510.3 452.9 Z" fill="#222"/>
<path d="M528.5 460.1 L536.4 460.4" stroke="#222" stroke-width="0.80" fill="none"/>
<text class="r" transform="translate(536.60 470.00) scale(0.800 1)" x="0.38 8.38" y="0" font-size="14.5" fill="#222">12</text>
<path d="M505 426.4 Q499.4 424.6 499.2 421 Q499.4 414.2 513 414 Q526.6 414.2 526.9 421 Q526.6 425.4 520 427" fill="none" stroke="#222" stroke-width="1.05" stroke-linecap="round"/>
<path d="M512.4 427.8 L520.6 425.2 L521.4 428.4 Z" fill="#222" stroke="#222" stroke-width="0.8" stroke-linejoin="round"/>
<text class="r" transform="translate(112.20 651.60) scale(0.800 1)" x="0.55 8.80" y="0" font-size="14.3" fill="#222">13</text>
<path d="M126.4 640.6 L135.2 640.0" stroke="#222" stroke-width="0.80" fill="none"/>
<path d="M135.2 640.0 L179.9 551.0" stroke="#222" stroke-width="0.80" fill="none"/><path d="M182.6 545.6 L181.4 551.7 L178.4 550.2 Z" fill="#222"/>
<path d="M135.2 640.0 L171.3 623.6" stroke="#222" stroke-width="0.80" fill="none"/><path d="M176.8 621.1 L172.0 625.1 L170.6 622.0 Z" fill="#222"/>
<path d="M135.2 640.0 L243.6 646.4" stroke="#222" stroke-width="0.80" fill="none"/><path d="M249.6 646.8 L243.5 648.1 L243.7 644.7 Z" fill="#222"/>
<!-- 99_watermark -->
<text class="s" x="118.2 162.7 207.2 250 260.5 290 316.5 349 371.5 404.6 436.7 470.4 519.8 534.8 556.5" y="517.3" font-size="57.5" font-weight="bold" fill="#e6dcd8" style="mix-blend-mode:multiply">www.svetodom.ru</text>
</svg>
</body>
</html>
